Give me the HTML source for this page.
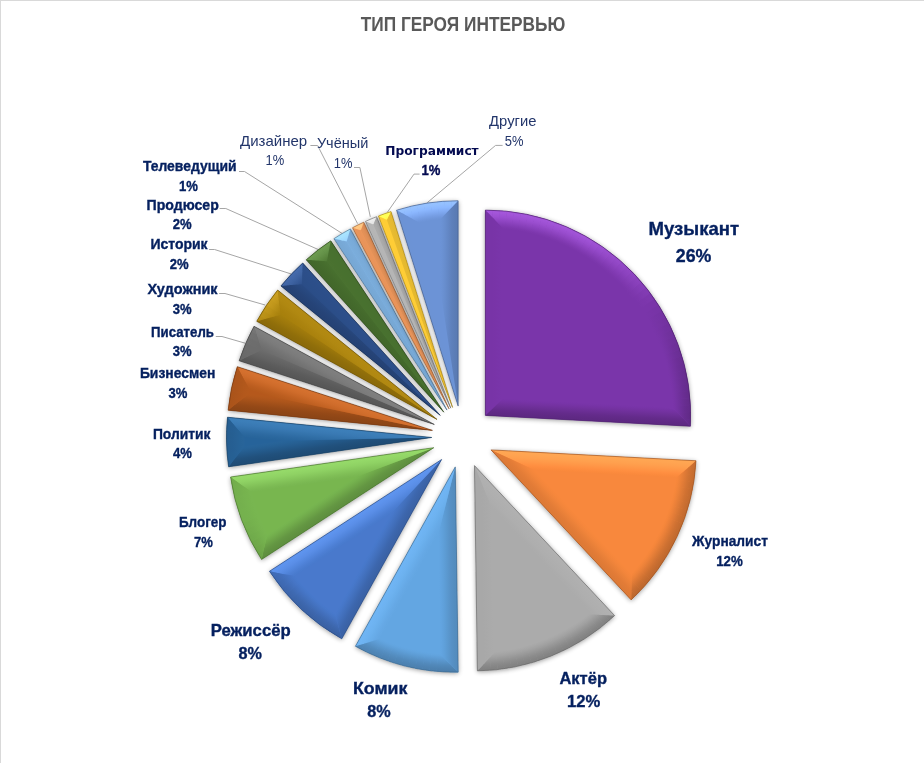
<!DOCTYPE html>
<html lang="ru"><head><meta charset="utf-8"><title>Тип героя интервью</title>
<style>
html,body{margin:0;padding:0;background:#fff;}
body{width:924px;height:763px;overflow:hidden;position:relative;font-family:"Liberation Sans",sans-serif;}
#frame{position:absolute;left:0;top:0;width:923px;height:762px;border-left:1px solid #D9D9D9;border-top:1px solid #D9D9D9;}
svg{position:absolute;left:0;top:0;display:block;}
</style></head><body>
<div id="frame"></div>
<svg width="924" height="763" viewBox="0 0 924 763">
<defs>
<filter id="sh" x="-20%" y="-20%" width="140%" height="140%"><feGaussianBlur in="SourceAlpha" stdDeviation="2.6" result="b"/><feOffset in="b" dx="0" dy="0.5" result="o"/><feComponentTransfer in="o" result="s"><feFuncA type="linear" slope="0.42"/></feComponentTransfer><feMerge><feMergeNode in="s"/><feMergeNode in="SourceGraphic"/></feMerge></filter>
<linearGradient id="g1" gradientUnits="userSpaceOnUse" x1="485.39" y1="415.39" x2="503.39" y2="415.39"><stop offset="0" stop-color="#7834A7"/><stop offset="0.15" stop-color="#7834A7"/><stop offset="0.35" stop-color="#7834A7"/><stop offset="0.55" stop-color="#7934A8"/><stop offset="0.75" stop-color="#7935A9"/><stop offset="0.9" stop-color="#7A35AA"/><stop offset="1" stop-color="#7A35AA"/></linearGradient><linearGradient id="g2" gradientUnits="userSpaceOnUse" x1="485.39" y1="415.39" x2="486.34" y2="397.41"><stop offset="0" stop-color="#5D2882"/><stop offset="0.15" stop-color="#5F2984"/><stop offset="0.35" stop-color="#642B8B"/><stop offset="0.55" stop-color="#6C2F96"/><stop offset="0.75" stop-color="#7432A1"/><stop offset="0.9" stop-color="#7834A8"/><stop offset="1" stop-color="#7A35AA"/></linearGradient><radialGradient id="r3" gradientUnits="userSpaceOnUse" cx="485.39" cy="415.39" r="205.3"><stop offset="0.9123" stop-color="#7A35AA"/><stop offset="0.9211" stop-color="#7D37AD"/><stop offset="0.9342" stop-color="#843DB6"/><stop offset="0.9518" stop-color="#9046C4"/><stop offset="0.9693" stop-color="#9C4FD1"/><stop offset="0.9868" stop-color="#A355DA"/><stop offset="1.0000" stop-color="#A758DD"/></radialGradient><radialGradient id="r4" gradientUnits="userSpaceOnUse" cx="485.39" cy="415.39" r="205.3"><stop offset="0.9123" stop-color="#7A35AA"/><stop offset="0.9211" stop-color="#7D37AD"/><stop offset="0.9342" stop-color="#843DB6"/><stop offset="0.9518" stop-color="#9046C4"/><stop offset="0.9693" stop-color="#9C4FD1"/><stop offset="0.9868" stop-color="#A355D9"/><stop offset="1.0000" stop-color="#A658DD"/></radialGradient><radialGradient id="r5" gradientUnits="userSpaceOnUse" cx="485.39" cy="415.39" r="205.3"><stop offset="0.9123" stop-color="#7A35AA"/><stop offset="0.9211" stop-color="#7D37AD"/><stop offset="0.9342" stop-color="#843DB6"/><stop offset="0.9518" stop-color="#9046C4"/><stop offset="0.9693" stop-color="#9B4FD1"/><stop offset="0.9868" stop-color="#A355D9"/><stop offset="1.0000" stop-color="#A658DD"/></radialGradient><radialGradient id="r6" gradientUnits="userSpaceOnUse" cx="485.39" cy="415.39" r="205.3"><stop offset="0.9123" stop-color="#7A35AA"/><stop offset="0.9211" stop-color="#7D37AD"/><stop offset="0.9342" stop-color="#843DB6"/><stop offset="0.9518" stop-color="#9046C3"/><stop offset="0.9693" stop-color="#9B4FD0"/><stop offset="0.9868" stop-color="#A355D9"/><stop offset="1.0000" stop-color="#A657DC"/></radialGradient><radialGradient id="r7" gradientUnits="userSpaceOnUse" cx="485.39" cy="415.39" r="205.3"><stop offset="0.9123" stop-color="#7A35AA"/><stop offset="0.9211" stop-color="#7D37AD"/><stop offset="0.9342" stop-color="#843DB6"/><stop offset="0.9518" stop-color="#9046C3"/><stop offset="0.9693" stop-color="#9B4FD0"/><stop offset="0.9868" stop-color="#A255D9"/><stop offset="1.0000" stop-color="#A657DC"/></radialGradient><radialGradient id="r8" gradientUnits="userSpaceOnUse" cx="485.39" cy="415.39" r="205.3"><stop offset="0.9123" stop-color="#7A35AA"/><stop offset="0.9211" stop-color="#7D37AD"/><stop offset="0.9342" stop-color="#843DB6"/><stop offset="0.9518" stop-color="#9046C3"/><stop offset="0.9693" stop-color="#9B4ED0"/><stop offset="0.9868" stop-color="#A254D8"/><stop offset="1.0000" stop-color="#A557DC"/></radialGradient><radialGradient id="r9" gradientUnits="userSpaceOnUse" cx="485.39" cy="415.39" r="205.3"><stop offset="0.9123" stop-color="#7A35AA"/><stop offset="0.9211" stop-color="#7D37AD"/><stop offset="0.9342" stop-color="#843DB6"/><stop offset="0.9518" stop-color="#9046C3"/><stop offset="0.9693" stop-color="#9B4ED0"/><stop offset="0.9868" stop-color="#A254D8"/><stop offset="1.0000" stop-color="#A557DC"/></radialGradient><radialGradient id="r10" gradientUnits="userSpaceOnUse" cx="485.39" cy="415.39" r="205.3"><stop offset="0.9123" stop-color="#7A35AA"/><stop offset="0.9211" stop-color="#7D37AD"/><stop offset="0.9342" stop-color="#843DB6"/><stop offset="0.9518" stop-color="#8F45C3"/><stop offset="0.9693" stop-color="#9A4ECF"/><stop offset="0.9868" stop-color="#A254D8"/><stop offset="1.0000" stop-color="#A556DB"/></radialGradient><radialGradient id="r11" gradientUnits="userSpaceOnUse" cx="485.39" cy="415.39" r="205.3"><stop offset="0.9123" stop-color="#7A35AA"/><stop offset="0.9211" stop-color="#7D37AD"/><stop offset="0.9342" stop-color="#843DB6"/><stop offset="0.9518" stop-color="#8F45C3"/><stop offset="0.9693" stop-color="#9A4ECF"/><stop offset="0.9868" stop-color="#A154D7"/><stop offset="1.0000" stop-color="#A556DB"/></radialGradient><radialGradient id="r12" gradientUnits="userSpaceOnUse" cx="485.39" cy="415.39" r="205.3"><stop offset="0.9123" stop-color="#7A35AA"/><stop offset="0.9211" stop-color="#7D37AD"/><stop offset="0.9342" stop-color="#843DB5"/><stop offset="0.9518" stop-color="#8F45C2"/><stop offset="0.9693" stop-color="#9A4ECF"/><stop offset="0.9868" stop-color="#A154D7"/><stop offset="1.0000" stop-color="#A456DB"/></radialGradient><radialGradient id="r13" gradientUnits="userSpaceOnUse" cx="485.39" cy="415.39" r="205.3"><stop offset="0.9123" stop-color="#7A35AA"/><stop offset="0.9211" stop-color="#7D37AD"/><stop offset="0.9342" stop-color="#843CB5"/><stop offset="0.9518" stop-color="#8F45C2"/><stop offset="0.9693" stop-color="#9A4ECF"/><stop offset="0.9868" stop-color="#A153D7"/><stop offset="1.0000" stop-color="#A456DA"/></radialGradient><radialGradient id="r14" gradientUnits="userSpaceOnUse" cx="485.39" cy="415.39" r="205.3"><stop offset="0.9123" stop-color="#7A35AA"/><stop offset="0.9211" stop-color="#7D37AD"/><stop offset="0.9342" stop-color="#843CB5"/><stop offset="0.9518" stop-color="#8F45C2"/><stop offset="0.9693" stop-color="#994DCE"/><stop offset="0.9868" stop-color="#A153D7"/><stop offset="1.0000" stop-color="#A456DA"/></radialGradient><radialGradient id="r15" gradientUnits="userSpaceOnUse" cx="485.39" cy="415.39" r="205.3"><stop offset="0.9123" stop-color="#7A35AA"/><stop offset="0.9211" stop-color="#7D37AD"/><stop offset="0.9342" stop-color="#843CB5"/><stop offset="0.9518" stop-color="#8F45C2"/><stop offset="0.9693" stop-color="#994DCE"/><stop offset="0.9868" stop-color="#A053D6"/><stop offset="1.0000" stop-color="#A355DA"/></radialGradient><radialGradient id="r16" gradientUnits="userSpaceOnUse" cx="485.39" cy="415.39" r="205.3"><stop offset="0.9123" stop-color="#7A35AA"/><stop offset="0.9211" stop-color="#7D37AD"/><stop offset="0.9342" stop-color="#843CB5"/><stop offset="0.9518" stop-color="#8F45C2"/><stop offset="0.9693" stop-color="#994DCE"/><stop offset="0.9868" stop-color="#A053D6"/><stop offset="1.0000" stop-color="#A355D9"/></radialGradient><radialGradient id="r17" gradientUnits="userSpaceOnUse" cx="485.39" cy="415.39" r="205.3"><stop offset="0.9123" stop-color="#7A35AA"/><stop offset="0.9211" stop-color="#7D37AD"/><stop offset="0.9342" stop-color="#843CB5"/><stop offset="0.9518" stop-color="#8E45C2"/><stop offset="0.9693" stop-color="#994DCE"/><stop offset="0.9868" stop-color="#A053D6"/><stop offset="1.0000" stop-color="#A355D9"/></radialGradient><radialGradient id="r18" gradientUnits="userSpaceOnUse" cx="485.39" cy="415.39" r="205.3"><stop offset="0.9123" stop-color="#7A35AA"/><stop offset="0.9211" stop-color="#7D37AD"/><stop offset="0.9342" stop-color="#833CB5"/><stop offset="0.9518" stop-color="#8E44C1"/><stop offset="0.9693" stop-color="#984CCD"/><stop offset="0.9868" stop-color="#9F52D5"/><stop offset="1.0000" stop-color="#A254D8"/></radialGradient><radialGradient id="r19" gradientUnits="userSpaceOnUse" cx="485.39" cy="415.39" r="205.3"><stop offset="0.9123" stop-color="#7A35AA"/><stop offset="0.9211" stop-color="#7C37AD"/><stop offset="0.9342" stop-color="#833CB4"/><stop offset="0.9518" stop-color="#8D43C0"/><stop offset="0.9693" stop-color="#964BCB"/><stop offset="0.9868" stop-color="#9D50D2"/><stop offset="1.0000" stop-color="#A052D5"/></radialGradient><radialGradient id="r20" gradientUnits="userSpaceOnUse" cx="485.39" cy="415.39" r="205.3"><stop offset="0.9123" stop-color="#7A35AA"/><stop offset="0.9211" stop-color="#7C37AD"/><stop offset="0.9342" stop-color="#823BB3"/><stop offset="0.9518" stop-color="#8B42BE"/><stop offset="0.9693" stop-color="#9449C9"/><stop offset="0.9868" stop-color="#9A4ED0"/><stop offset="1.0000" stop-color="#9D50D3"/></radialGradient><radialGradient id="r21" gradientUnits="userSpaceOnUse" cx="485.39" cy="415.39" r="205.3"><stop offset="0.9123" stop-color="#7A35AA"/><stop offset="0.9211" stop-color="#7C37AC"/><stop offset="0.9342" stop-color="#823BB3"/><stop offset="0.9518" stop-color="#8A41BD"/><stop offset="0.9693" stop-color="#9348C6"/><stop offset="0.9868" stop-color="#984CCD"/><stop offset="1.0000" stop-color="#9B4ED0"/></radialGradient><radialGradient id="r22" gradientUnits="userSpaceOnUse" cx="485.39" cy="415.39" r="205.3"><stop offset="0.9123" stop-color="#7A35AA"/><stop offset="0.9211" stop-color="#7C36AC"/><stop offset="0.9342" stop-color="#813AB2"/><stop offset="0.9518" stop-color="#8940BB"/><stop offset="0.9693" stop-color="#9146C4"/><stop offset="0.9868" stop-color="#964BCA"/><stop offset="1.0000" stop-color="#984CCD"/></radialGradient><radialGradient id="r23" gradientUnits="userSpaceOnUse" cx="485.39" cy="415.39" r="205.3"><stop offset="0.9123" stop-color="#7A35AA"/><stop offset="0.9211" stop-color="#7C36AC"/><stop offset="0.9342" stop-color="#803AB1"/><stop offset="0.9518" stop-color="#883FBA"/><stop offset="0.9693" stop-color="#8F45C2"/><stop offset="0.9868" stop-color="#9449C8"/><stop offset="1.0000" stop-color="#964ACA"/></radialGradient><radialGradient id="r24" gradientUnits="userSpaceOnUse" cx="485.39" cy="415.39" r="205.3"><stop offset="0.9123" stop-color="#7A35AA"/><stop offset="0.9211" stop-color="#7C36AC"/><stop offset="0.9342" stop-color="#8039B1"/><stop offset="0.9518" stop-color="#863EB8"/><stop offset="0.9693" stop-color="#8D43C0"/><stop offset="0.9868" stop-color="#9147C5"/><stop offset="1.0000" stop-color="#9348C7"/></radialGradient><radialGradient id="r25" gradientUnits="userSpaceOnUse" cx="485.39" cy="415.39" r="205.3"><stop offset="0.9123" stop-color="#7A35AA"/><stop offset="0.9211" stop-color="#7B36AC"/><stop offset="0.9342" stop-color="#7F39B0"/><stop offset="0.9518" stop-color="#853DB7"/><stop offset="0.9693" stop-color="#8B42BE"/><stop offset="0.9868" stop-color="#8F45C2"/><stop offset="1.0000" stop-color="#9146C4"/></radialGradient><radialGradient id="r26" gradientUnits="userSpaceOnUse" cx="485.39" cy="415.39" r="205.3"><stop offset="0.9123" stop-color="#7A35AA"/><stop offset="0.9211" stop-color="#7B36AB"/><stop offset="0.9342" stop-color="#7F38AF"/><stop offset="0.9518" stop-color="#843DB5"/><stop offset="0.9693" stop-color="#8941BB"/><stop offset="0.9868" stop-color="#8D43C0"/><stop offset="1.0000" stop-color="#8E44C1"/></radialGradient><radialGradient id="r27" gradientUnits="userSpaceOnUse" cx="485.39" cy="415.39" r="205.3"><stop offset="0.9123" stop-color="#7A35AA"/><stop offset="0.9211" stop-color="#7B36AB"/><stop offset="0.9342" stop-color="#7E38AE"/><stop offset="0.9518" stop-color="#823BB4"/><stop offset="0.9693" stop-color="#873FB9"/><stop offset="0.9868" stop-color="#8A41BC"/><stop offset="1.0000" stop-color="#8B42BE"/></radialGradient><radialGradient id="r28" gradientUnits="userSpaceOnUse" cx="485.39" cy="415.39" r="205.3"><stop offset="0.9123" stop-color="#7A35AA"/><stop offset="0.9211" stop-color="#7B36AB"/><stop offset="0.9342" stop-color="#7D37AD"/><stop offset="0.9518" stop-color="#803AB1"/><stop offset="0.9693" stop-color="#833CB5"/><stop offset="0.9868" stop-color="#863EB8"/><stop offset="1.0000" stop-color="#873FB9"/></radialGradient><radialGradient id="r29" gradientUnits="userSpaceOnUse" cx="485.39" cy="415.39" r="205.3"><stop offset="0.9123" stop-color="#7A35AA"/><stop offset="0.9211" stop-color="#7A35AB"/><stop offset="0.9342" stop-color="#7C36AC"/><stop offset="0.9518" stop-color="#7E38AF"/><stop offset="0.9693" stop-color="#803AB1"/><stop offset="0.9868" stop-color="#823BB3"/><stop offset="1.0000" stop-color="#823BB4"/></radialGradient><radialGradient id="r30" gradientUnits="userSpaceOnUse" cx="485.39" cy="415.39" r="205.3"><stop offset="0.9123" stop-color="#7A35AA"/><stop offset="0.9211" stop-color="#7A35AA"/><stop offset="0.9342" stop-color="#7B36AB"/><stop offset="0.9518" stop-color="#7C36AC"/><stop offset="0.9693" stop-color="#7D37AD"/><stop offset="0.9868" stop-color="#7D38AE"/><stop offset="1.0000" stop-color="#7E38AE"/></radialGradient><radialGradient id="r31" gradientUnits="userSpaceOnUse" cx="485.39" cy="415.39" r="205.3"><stop offset="0.9123" stop-color="#7A35AA"/><stop offset="0.9211" stop-color="#7A35AA"/><stop offset="0.9342" stop-color="#7A35AA"/><stop offset="0.9518" stop-color="#7A35AA"/><stop offset="0.9693" stop-color="#7A35A9"/><stop offset="0.9868" stop-color="#7A35A9"/><stop offset="1.0000" stop-color="#7935A9"/></radialGradient><radialGradient id="r32" gradientUnits="userSpaceOnUse" cx="485.39" cy="415.39" r="205.3"><stop offset="0.9123" stop-color="#7A35AA"/><stop offset="0.9211" stop-color="#7A35AA"/><stop offset="0.9342" stop-color="#7935A9"/><stop offset="0.9518" stop-color="#7934A8"/><stop offset="0.9693" stop-color="#7834A7"/><stop offset="0.9868" stop-color="#7734A6"/><stop offset="1.0000" stop-color="#7734A6"/></radialGradient><radialGradient id="r33" gradientUnits="userSpaceOnUse" cx="485.39" cy="415.39" r="205.3"><stop offset="0.9123" stop-color="#7A35AA"/><stop offset="0.9211" stop-color="#7A35AA"/><stop offset="0.9342" stop-color="#7934A8"/><stop offset="0.9518" stop-color="#7734A6"/><stop offset="0.9693" stop-color="#7633A5"/><stop offset="0.9868" stop-color="#7533A3"/><stop offset="1.0000" stop-color="#7533A3"/></radialGradient><radialGradient id="r34" gradientUnits="userSpaceOnUse" cx="485.39" cy="415.39" r="205.3"><stop offset="0.9123" stop-color="#7A35AA"/><stop offset="0.9211" stop-color="#7A35A9"/><stop offset="0.9342" stop-color="#7834A8"/><stop offset="0.9518" stop-color="#7734A5"/><stop offset="0.9693" stop-color="#7533A3"/><stop offset="0.9868" stop-color="#7432A1"/><stop offset="1.0000" stop-color="#7332A0"/></radialGradient><radialGradient id="r35" gradientUnits="userSpaceOnUse" cx="485.39" cy="415.39" r="205.3"><stop offset="0.9123" stop-color="#7A35AA"/><stop offset="0.9211" stop-color="#7935A9"/><stop offset="0.9342" stop-color="#7834A7"/><stop offset="0.9518" stop-color="#7633A4"/><stop offset="0.9693" stop-color="#7332A1"/><stop offset="0.9868" stop-color="#72319F"/><stop offset="1.0000" stop-color="#71319E"/></radialGradient><radialGradient id="r36" gradientUnits="userSpaceOnUse" cx="485.39" cy="415.39" r="205.3"><stop offset="0.9123" stop-color="#7A35AA"/><stop offset="0.9211" stop-color="#7935A9"/><stop offset="0.9342" stop-color="#7834A7"/><stop offset="0.9518" stop-color="#7533A3"/><stop offset="0.9693" stop-color="#72329F"/><stop offset="0.9868" stop-color="#70319C"/><stop offset="1.0000" stop-color="#6F309B"/></radialGradient><radialGradient id="r37" gradientUnits="userSpaceOnUse" cx="485.39" cy="415.39" r="205.3"><stop offset="0.9123" stop-color="#7A35AA"/><stop offset="0.9211" stop-color="#7935A9"/><stop offset="0.9342" stop-color="#7734A6"/><stop offset="0.9518" stop-color="#7432A2"/><stop offset="0.9693" stop-color="#71319D"/><stop offset="0.9868" stop-color="#6F309A"/><stop offset="1.0000" stop-color="#6E3099"/></radialGradient><radialGradient id="r38" gradientUnits="userSpaceOnUse" cx="485.39" cy="415.39" r="205.3"><stop offset="0.9123" stop-color="#7A35AA"/><stop offset="0.9211" stop-color="#7935A9"/><stop offset="0.9342" stop-color="#7734A6"/><stop offset="0.9518" stop-color="#7332A1"/><stop offset="0.9693" stop-color="#70309B"/><stop offset="0.9868" stop-color="#6D2F98"/><stop offset="1.0000" stop-color="#6C2F96"/></radialGradient><radialGradient id="r39" gradientUnits="userSpaceOnUse" cx="485.39" cy="415.39" r="205.3"><stop offset="0.9123" stop-color="#7A35AA"/><stop offset="0.9211" stop-color="#7935A9"/><stop offset="0.9342" stop-color="#7733A5"/><stop offset="0.9518" stop-color="#72329F"/><stop offset="0.9693" stop-color="#6E309A"/><stop offset="0.9868" stop-color="#6B2F96"/><stop offset="1.0000" stop-color="#6A2E94"/></radialGradient><radialGradient id="r40" gradientUnits="userSpaceOnUse" cx="485.39" cy="415.39" r="205.3"><stop offset="0.9123" stop-color="#7A35AA"/><stop offset="0.9211" stop-color="#7935A9"/><stop offset="0.9342" stop-color="#7633A5"/><stop offset="0.9518" stop-color="#72319E"/><stop offset="0.9693" stop-color="#6D2F98"/><stop offset="0.9868" stop-color="#6A2E93"/><stop offset="1.0000" stop-color="#682D92"/></radialGradient><radialGradient id="r41" gradientUnits="userSpaceOnUse" cx="485.39" cy="415.39" r="205.3"><stop offset="0.9123" stop-color="#7A35AA"/><stop offset="0.9211" stop-color="#7935A8"/><stop offset="0.9342" stop-color="#7633A4"/><stop offset="0.9518" stop-color="#71319D"/><stop offset="0.9693" stop-color="#6C2F97"/><stop offset="0.9868" stop-color="#692D92"/><stop offset="1.0000" stop-color="#672D90"/></radialGradient><radialGradient id="r42" gradientUnits="userSpaceOnUse" cx="485.39" cy="415.39" r="205.3"><stop offset="0.9123" stop-color="#7A35AA"/><stop offset="0.9211" stop-color="#7934A8"/><stop offset="0.9342" stop-color="#7633A4"/><stop offset="0.9518" stop-color="#71319D"/><stop offset="0.9693" stop-color="#6B2F96"/><stop offset="0.9868" stop-color="#682D91"/><stop offset="1.0000" stop-color="#662C8F"/></radialGradient><radialGradient id="r43" gradientUnits="userSpaceOnUse" cx="485.39" cy="415.39" r="205.3"><stop offset="0.9123" stop-color="#7A35AA"/><stop offset="0.9211" stop-color="#7934A8"/><stop offset="0.9342" stop-color="#7533A4"/><stop offset="0.9518" stop-color="#70319C"/><stop offset="0.9693" stop-color="#6B2E95"/><stop offset="0.9868" stop-color="#672D90"/><stop offset="1.0000" stop-color="#652C8D"/></radialGradient><radialGradient id="r44" gradientUnits="userSpaceOnUse" cx="485.39" cy="415.39" r="205.3"><stop offset="0.9123" stop-color="#7A35AA"/><stop offset="0.9211" stop-color="#7934A8"/><stop offset="0.9342" stop-color="#7533A3"/><stop offset="0.9518" stop-color="#70319C"/><stop offset="0.9693" stop-color="#6A2E94"/><stop offset="0.9868" stop-color="#662C8F"/><stop offset="1.0000" stop-color="#652C8C"/></radialGradient><radialGradient id="r45" gradientUnits="userSpaceOnUse" cx="485.39" cy="415.39" r="205.3"><stop offset="0.9123" stop-color="#7A35AA"/><stop offset="0.9211" stop-color="#7934A8"/><stop offset="0.9342" stop-color="#7533A3"/><stop offset="0.9518" stop-color="#6F309B"/><stop offset="0.9693" stop-color="#6A2E93"/><stop offset="0.9868" stop-color="#652C8D"/><stop offset="1.0000" stop-color="#642B8B"/></radialGradient><radialGradient id="r46" gradientUnits="userSpaceOnUse" cx="485.39" cy="415.39" r="205.3"><stop offset="0.9123" stop-color="#7A35AA"/><stop offset="0.9211" stop-color="#7934A8"/><stop offset="0.9342" stop-color="#7533A3"/><stop offset="0.9518" stop-color="#6F309B"/><stop offset="0.9693" stop-color="#692E92"/><stop offset="0.9868" stop-color="#652C8C"/><stop offset="1.0000" stop-color="#632B8A"/></radialGradient><radialGradient id="r47" gradientUnits="userSpaceOnUse" cx="485.39" cy="415.39" r="205.3"><stop offset="0.9123" stop-color="#7A35AA"/><stop offset="0.9211" stop-color="#7934A8"/><stop offset="0.9342" stop-color="#7533A3"/><stop offset="0.9518" stop-color="#6E309A"/><stop offset="0.9693" stop-color="#682D91"/><stop offset="0.9868" stop-color="#642B8B"/><stop offset="1.0000" stop-color="#622B89"/></radialGradient><radialGradient id="r48" gradientUnits="userSpaceOnUse" cx="485.39" cy="415.39" r="205.3"><stop offset="0.9123" stop-color="#7A35AA"/><stop offset="0.9211" stop-color="#7934A8"/><stop offset="0.9342" stop-color="#7533A2"/><stop offset="0.9518" stop-color="#6E3099"/><stop offset="0.9693" stop-color="#682D90"/><stop offset="0.9868" stop-color="#632B8A"/><stop offset="1.0000" stop-color="#612A87"/></radialGradient><radialGradient id="r49" gradientUnits="userSpaceOnUse" cx="485.39" cy="415.39" r="205.3"><stop offset="0.9123" stop-color="#7A35AA"/><stop offset="0.9211" stop-color="#7834A8"/><stop offset="0.9342" stop-color="#7433A2"/><stop offset="0.9518" stop-color="#6E3099"/><stop offset="0.9693" stop-color="#672D90"/><stop offset="0.9868" stop-color="#632B8A"/><stop offset="1.0000" stop-color="#612A87"/></radialGradient><linearGradient id="g50" gradientUnits="userSpaceOnUse" x1="491.01" y1="449.89" x2="490.06" y2="467.87"><stop offset="0" stop-color="#FFA753"/><stop offset="0.15" stop-color="#FFA552"/><stop offset="0.35" stop-color="#FFA04E"/><stop offset="0.55" stop-color="#FF9848"/><stop offset="0.75" stop-color="#FF8F41"/><stop offset="0.9" stop-color="#FB8A3D"/><stop offset="1" stop-color="#F8883C"/></linearGradient><linearGradient id="g51" gradientUnits="userSpaceOnUse" x1="491.01" y1="449.89" x2="504.16" y2="437.60"><stop offset="0" stop-color="#DD7935"/><stop offset="0.15" stop-color="#DE7A36"/><stop offset="0.35" stop-color="#E37C37"/><stop offset="0.55" stop-color="#EA8139"/><stop offset="0.75" stop-color="#F2853B"/><stop offset="0.9" stop-color="#F6873C"/><stop offset="1" stop-color="#F8883C"/></linearGradient><radialGradient id="r52" gradientUnits="userSpaceOnUse" cx="491.01" cy="449.89" r="205.3"><stop offset="0.9123" stop-color="#F8883C"/><stop offset="0.9211" stop-color="#F5863B"/><stop offset="0.9342" stop-color="#ED8239"/><stop offset="0.9518" stop-color="#DF7A36"/><stop offset="0.9693" stop-color="#D27333"/><stop offset="0.9868" stop-color="#C96E31"/><stop offset="1.0000" stop-color="#C56C30"/></radialGradient><radialGradient id="r53" gradientUnits="userSpaceOnUse" cx="491.01" cy="449.89" r="205.3"><stop offset="0.9123" stop-color="#F8883C"/><stop offset="0.9211" stop-color="#F5863B"/><stop offset="0.9342" stop-color="#ED8239"/><stop offset="0.9518" stop-color="#DF7A36"/><stop offset="0.9693" stop-color="#D27333"/><stop offset="0.9868" stop-color="#C86E30"/><stop offset="1.0000" stop-color="#C46C2F"/></radialGradient><radialGradient id="r54" gradientUnits="userSpaceOnUse" cx="491.01" cy="449.89" r="205.3"><stop offset="0.9123" stop-color="#F8883C"/><stop offset="0.9211" stop-color="#F5863B"/><stop offset="0.9342" stop-color="#EC8239"/><stop offset="0.9518" stop-color="#DF7A36"/><stop offset="0.9693" stop-color="#D17333"/><stop offset="0.9868" stop-color="#C86E30"/><stop offset="1.0000" stop-color="#C46B2F"/></radialGradient><radialGradient id="r55" gradientUnits="userSpaceOnUse" cx="491.01" cy="449.89" r="205.3"><stop offset="0.9123" stop-color="#F8883C"/><stop offset="0.9211" stop-color="#F5863B"/><stop offset="0.9342" stop-color="#EC8239"/><stop offset="0.9518" stop-color="#DF7A36"/><stop offset="0.9693" stop-color="#D17333"/><stop offset="0.9868" stop-color="#C76D30"/><stop offset="1.0000" stop-color="#C36B2F"/></radialGradient><radialGradient id="r56" gradientUnits="userSpaceOnUse" cx="491.01" cy="449.89" r="205.3"><stop offset="0.9123" stop-color="#F8883C"/><stop offset="0.9211" stop-color="#F5863B"/><stop offset="0.9342" stop-color="#EC8239"/><stop offset="0.9518" stop-color="#DE7A36"/><stop offset="0.9693" stop-color="#D17232"/><stop offset="0.9868" stop-color="#C76D30"/><stop offset="1.0000" stop-color="#C36B2F"/></radialGradient><radialGradient id="r57" gradientUnits="userSpaceOnUse" cx="491.01" cy="449.89" r="205.3"><stop offset="0.9123" stop-color="#F8883C"/><stop offset="0.9211" stop-color="#F5863B"/><stop offset="0.9342" stop-color="#EC8239"/><stop offset="0.9518" stop-color="#DE7A36"/><stop offset="0.9693" stop-color="#D07232"/><stop offset="0.9868" stop-color="#C76D30"/><stop offset="1.0000" stop-color="#C26B2F"/></radialGradient><radialGradient id="r58" gradientUnits="userSpaceOnUse" cx="491.01" cy="449.89" r="205.3"><stop offset="0.9123" stop-color="#F8883C"/><stop offset="0.9211" stop-color="#F5863B"/><stop offset="0.9342" stop-color="#EC8139"/><stop offset="0.9518" stop-color="#DE7A36"/><stop offset="0.9693" stop-color="#D07232"/><stop offset="0.9868" stop-color="#C66D30"/><stop offset="1.0000" stop-color="#C26A2F"/></radialGradient><radialGradient id="r59" gradientUnits="userSpaceOnUse" cx="491.01" cy="449.89" r="205.3"><stop offset="0.9123" stop-color="#F8883C"/><stop offset="0.9211" stop-color="#F5863B"/><stop offset="0.9342" stop-color="#EC8139"/><stop offset="0.9518" stop-color="#DE7A36"/><stop offset="0.9693" stop-color="#D07232"/><stop offset="0.9868" stop-color="#C66C30"/><stop offset="1.0000" stop-color="#C16A2F"/></radialGradient><radialGradient id="r60" gradientUnits="userSpaceOnUse" cx="491.01" cy="449.89" r="205.3"><stop offset="0.9123" stop-color="#F8883C"/><stop offset="0.9211" stop-color="#F5863B"/><stop offset="0.9342" stop-color="#EC8139"/><stop offset="0.9518" stop-color="#DE7936"/><stop offset="0.9693" stop-color="#CF7232"/><stop offset="0.9868" stop-color="#C56C30"/><stop offset="1.0000" stop-color="#C16A2F"/></radialGradient><radialGradient id="r61" gradientUnits="userSpaceOnUse" cx="491.01" cy="449.89" r="205.3"><stop offset="0.9123" stop-color="#F8883C"/><stop offset="0.9211" stop-color="#F5863B"/><stop offset="0.9342" stop-color="#EC8139"/><stop offset="0.9518" stop-color="#DD7936"/><stop offset="0.9693" stop-color="#CF7132"/><stop offset="0.9868" stop-color="#C56C30"/><stop offset="1.0000" stop-color="#C06A2F"/></radialGradient><radialGradient id="r62" gradientUnits="userSpaceOnUse" cx="491.01" cy="449.89" r="205.3"><stop offset="0.9123" stop-color="#F8883C"/><stop offset="0.9211" stop-color="#F5863B"/><stop offset="0.9342" stop-color="#EC8139"/><stop offset="0.9518" stop-color="#DD7935"/><stop offset="0.9693" stop-color="#CF7132"/><stop offset="0.9868" stop-color="#C46C30"/><stop offset="1.0000" stop-color="#C0692E"/></radialGradient><radialGradient id="r63" gradientUnits="userSpaceOnUse" cx="491.01" cy="449.89" r="205.3"><stop offset="0.9123" stop-color="#F8883C"/><stop offset="0.9211" stop-color="#F5863B"/><stop offset="0.9342" stop-color="#EC8139"/><stop offset="0.9518" stop-color="#DD7935"/><stop offset="0.9693" stop-color="#CE7132"/><stop offset="0.9868" stop-color="#C46C2F"/><stop offset="1.0000" stop-color="#C0692E"/></radialGradient><radialGradient id="r64" gradientUnits="userSpaceOnUse" cx="491.01" cy="449.89" r="205.3"><stop offset="0.9123" stop-color="#F8883C"/><stop offset="0.9211" stop-color="#F5863B"/><stop offset="0.9342" stop-color="#EB8139"/><stop offset="0.9518" stop-color="#DD7935"/><stop offset="0.9693" stop-color="#CE7132"/><stop offset="0.9868" stop-color="#C46B2F"/><stop offset="1.0000" stop-color="#BF692E"/></radialGradient><radialGradient id="r65" gradientUnits="userSpaceOnUse" cx="491.01" cy="449.89" r="205.3"><stop offset="0.9123" stop-color="#F8883C"/><stop offset="0.9211" stop-color="#F5863B"/><stop offset="0.9342" stop-color="#EB8139"/><stop offset="0.9518" stop-color="#DC7935"/><stop offset="0.9693" stop-color="#CE7132"/><stop offset="0.9868" stop-color="#C36B2F"/><stop offset="1.0000" stop-color="#BF692E"/></radialGradient><radialGradient id="r66" gradientUnits="userSpaceOnUse" cx="491.01" cy="449.89" r="205.3"><stop offset="0.9123" stop-color="#F8883C"/><stop offset="0.9211" stop-color="#F5863B"/><stop offset="0.9342" stop-color="#EB8139"/><stop offset="0.9518" stop-color="#DC7935"/><stop offset="0.9693" stop-color="#CD7132"/><stop offset="0.9868" stop-color="#C36B2F"/><stop offset="1.0000" stop-color="#BE682E"/></radialGradient><radialGradient id="r67" gradientUnits="userSpaceOnUse" cx="491.01" cy="449.89" r="205.3"><stop offset="0.9123" stop-color="#F8883C"/><stop offset="0.9211" stop-color="#F5863B"/><stop offset="0.9342" stop-color="#EB8139"/><stop offset="0.9518" stop-color="#DC7935"/><stop offset="0.9693" stop-color="#CD7032"/><stop offset="0.9868" stop-color="#C26B2F"/><stop offset="1.0000" stop-color="#BE682E"/></radialGradient><radialGradient id="r68" gradientUnits="userSpaceOnUse" cx="491.01" cy="449.89" r="205.3"><stop offset="0.9123" stop-color="#F8883C"/><stop offset="0.9211" stop-color="#F4863B"/><stop offset="0.9342" stop-color="#EB8139"/><stop offset="0.9518" stop-color="#DC7935"/><stop offset="0.9693" stop-color="#CD7031"/><stop offset="0.9868" stop-color="#C26A2F"/><stop offset="1.0000" stop-color="#BD682E"/></radialGradient><radialGradient id="r69" gradientUnits="userSpaceOnUse" cx="491.01" cy="449.89" r="205.3"><stop offset="0.9123" stop-color="#F8883C"/><stop offset="0.9211" stop-color="#F4863B"/><stop offset="0.9342" stop-color="#EB8139"/><stop offset="0.9518" stop-color="#DC7835"/><stop offset="0.9693" stop-color="#CC7031"/><stop offset="0.9868" stop-color="#C26A2F"/><stop offset="1.0000" stop-color="#BD682E"/></radialGradient><radialGradient id="r70" gradientUnits="userSpaceOnUse" cx="491.01" cy="449.89" r="205.3"><stop offset="0.9123" stop-color="#F8883C"/><stop offset="0.9211" stop-color="#F4863B"/><stop offset="0.9342" stop-color="#EB8139"/><stop offset="0.9518" stop-color="#DB7835"/><stop offset="0.9693" stop-color="#CC7031"/><stop offset="0.9868" stop-color="#C16A2F"/><stop offset="1.0000" stop-color="#BC672E"/></radialGradient><radialGradient id="r71" gradientUnits="userSpaceOnUse" cx="491.01" cy="449.89" r="205.3"><stop offset="0.9123" stop-color="#F8883C"/><stop offset="0.9211" stop-color="#F4863B"/><stop offset="0.9342" stop-color="#EB8139"/><stop offset="0.9518" stop-color="#DB7835"/><stop offset="0.9693" stop-color="#CC7031"/><stop offset="0.9868" stop-color="#C16A2F"/><stop offset="1.0000" stop-color="#BC672D"/></radialGradient><radialGradient id="r72" gradientUnits="userSpaceOnUse" cx="491.01" cy="449.89" r="205.3"><stop offset="0.9123" stop-color="#F8883C"/><stop offset="0.9211" stop-color="#F4863B"/><stop offset="0.9342" stop-color="#EB8139"/><stop offset="0.9518" stop-color="#DB7835"/><stop offset="0.9693" stop-color="#CB6F31"/><stop offset="0.9868" stop-color="#C0692F"/><stop offset="1.0000" stop-color="#BC672D"/></radialGradient><radialGradient id="r73" gradientUnits="userSpaceOnUse" cx="491.01" cy="449.89" r="205.3"><stop offset="0.9123" stop-color="#F8883C"/><stop offset="0.9211" stop-color="#F4863B"/><stop offset="0.9342" stop-color="#EB8139"/><stop offset="0.9518" stop-color="#DB7835"/><stop offset="0.9693" stop-color="#CB6F31"/><stop offset="0.9868" stop-color="#C0692E"/><stop offset="1.0000" stop-color="#BB672D"/></radialGradient><linearGradient id="g74" gradientUnits="userSpaceOnUse" x1="474.46" y1="465.59" x2="461.31" y2="477.88"><stop offset="0" stop-color="#B1B1B1"/><stop offset="0.15" stop-color="#B0B0B0"/><stop offset="0.35" stop-color="#AFAFAF"/><stop offset="0.55" stop-color="#AEAEAE"/><stop offset="0.75" stop-color="#ACACAC"/><stop offset="0.9" stop-color="#ABABAB"/><stop offset="1" stop-color="#ABABAB"/></linearGradient><linearGradient id="g75" gradientUnits="userSpaceOnUse" x1="474.46" y1="465.59" x2="492.46" y2="465.33"><stop offset="0" stop-color="#A8A8A8"/><stop offset="0.15" stop-color="#A8A8A8"/><stop offset="0.35" stop-color="#A8A8A8"/><stop offset="0.55" stop-color="#A9A9A9"/><stop offset="0.75" stop-color="#AAAAAA"/><stop offset="0.9" stop-color="#ABABAB"/><stop offset="1" stop-color="#ABABAB"/></linearGradient><radialGradient id="r76" gradientUnits="userSpaceOnUse" cx="474.46" cy="465.59" r="205.3"><stop offset="0.9123" stop-color="#ABABAB"/><stop offset="0.9211" stop-color="#A8A8A8"/><stop offset="0.9342" stop-color="#A2A2A2"/><stop offset="0.9518" stop-color="#979797"/><stop offset="0.9693" stop-color="#8C8C8C"/><stop offset="0.9868" stop-color="#848484"/><stop offset="1.0000" stop-color="#818181"/></radialGradient><radialGradient id="r77" gradientUnits="userSpaceOnUse" cx="474.46" cy="465.59" r="205.3"><stop offset="0.9123" stop-color="#ABABAB"/><stop offset="0.9211" stop-color="#A8A8A8"/><stop offset="0.9342" stop-color="#A2A2A2"/><stop offset="0.9518" stop-color="#979797"/><stop offset="0.9693" stop-color="#8C8C8C"/><stop offset="0.9868" stop-color="#848484"/><stop offset="1.0000" stop-color="#818181"/></radialGradient><radialGradient id="r78" gradientUnits="userSpaceOnUse" cx="474.46" cy="465.59" r="205.3"><stop offset="0.9123" stop-color="#ABABAB"/><stop offset="0.9211" stop-color="#A8A8A8"/><stop offset="0.9342" stop-color="#A2A2A2"/><stop offset="0.9518" stop-color="#979797"/><stop offset="0.9693" stop-color="#8C8C8C"/><stop offset="0.9868" stop-color="#848484"/><stop offset="1.0000" stop-color="#818181"/></radialGradient><radialGradient id="r79" gradientUnits="userSpaceOnUse" cx="474.46" cy="465.59" r="205.3"><stop offset="0.9123" stop-color="#ABABAB"/><stop offset="0.9211" stop-color="#A8A8A8"/><stop offset="0.9342" stop-color="#A2A2A2"/><stop offset="0.9518" stop-color="#979797"/><stop offset="0.9693" stop-color="#8C8C8C"/><stop offset="0.9868" stop-color="#848484"/><stop offset="1.0000" stop-color="#818181"/></radialGradient><radialGradient id="r80" gradientUnits="userSpaceOnUse" cx="474.46" cy="465.59" r="205.3"><stop offset="0.9123" stop-color="#ABABAB"/><stop offset="0.9211" stop-color="#A8A8A8"/><stop offset="0.9342" stop-color="#A2A2A2"/><stop offset="0.9518" stop-color="#979797"/><stop offset="0.9693" stop-color="#8C8C8C"/><stop offset="0.9868" stop-color="#848484"/><stop offset="1.0000" stop-color="#818181"/></radialGradient><radialGradient id="r81" gradientUnits="userSpaceOnUse" cx="474.46" cy="465.59" r="205.3"><stop offset="0.9123" stop-color="#ABABAB"/><stop offset="0.9211" stop-color="#A8A8A8"/><stop offset="0.9342" stop-color="#A2A2A2"/><stop offset="0.9518" stop-color="#979797"/><stop offset="0.9693" stop-color="#8C8C8C"/><stop offset="0.9868" stop-color="#848484"/><stop offset="1.0000" stop-color="#818181"/></radialGradient><radialGradient id="r82" gradientUnits="userSpaceOnUse" cx="474.46" cy="465.59" r="205.3"><stop offset="0.9123" stop-color="#ABABAB"/><stop offset="0.9211" stop-color="#A8A8A8"/><stop offset="0.9342" stop-color="#A2A2A2"/><stop offset="0.9518" stop-color="#979797"/><stop offset="0.9693" stop-color="#8C8C8C"/><stop offset="0.9868" stop-color="#848484"/><stop offset="1.0000" stop-color="#818181"/></radialGradient><radialGradient id="r83" gradientUnits="userSpaceOnUse" cx="474.46" cy="465.59" r="205.3"><stop offset="0.9123" stop-color="#ABABAB"/><stop offset="0.9211" stop-color="#A8A8A8"/><stop offset="0.9342" stop-color="#A2A2A2"/><stop offset="0.9518" stop-color="#979797"/><stop offset="0.9693" stop-color="#8C8C8C"/><stop offset="0.9868" stop-color="#848484"/><stop offset="1.0000" stop-color="#818181"/></radialGradient><radialGradient id="r84" gradientUnits="userSpaceOnUse" cx="474.46" cy="465.59" r="205.3"><stop offset="0.9123" stop-color="#ABABAB"/><stop offset="0.9211" stop-color="#A8A8A8"/><stop offset="0.9342" stop-color="#A2A2A2"/><stop offset="0.9518" stop-color="#979797"/><stop offset="0.9693" stop-color="#8C8C8C"/><stop offset="0.9868" stop-color="#848484"/><stop offset="1.0000" stop-color="#818181"/></radialGradient><radialGradient id="r85" gradientUnits="userSpaceOnUse" cx="474.46" cy="465.59" r="205.3"><stop offset="0.9123" stop-color="#ABABAB"/><stop offset="0.9211" stop-color="#A8A8A8"/><stop offset="0.9342" stop-color="#A2A2A2"/><stop offset="0.9518" stop-color="#979797"/><stop offset="0.9693" stop-color="#8C8C8C"/><stop offset="0.9868" stop-color="#848484"/><stop offset="1.0000" stop-color="#818181"/></radialGradient><radialGradient id="r86" gradientUnits="userSpaceOnUse" cx="474.46" cy="465.59" r="205.3"><stop offset="0.9123" stop-color="#ABABAB"/><stop offset="0.9211" stop-color="#A8A8A8"/><stop offset="0.9342" stop-color="#A2A2A2"/><stop offset="0.9518" stop-color="#979797"/><stop offset="0.9693" stop-color="#8C8C8C"/><stop offset="0.9868" stop-color="#848484"/><stop offset="1.0000" stop-color="#818181"/></radialGradient><radialGradient id="r87" gradientUnits="userSpaceOnUse" cx="474.46" cy="465.59" r="205.3"><stop offset="0.9123" stop-color="#ABABAB"/><stop offset="0.9211" stop-color="#A8A8A8"/><stop offset="0.9342" stop-color="#A2A2A2"/><stop offset="0.9518" stop-color="#979797"/><stop offset="0.9693" stop-color="#8C8C8C"/><stop offset="0.9868" stop-color="#848484"/><stop offset="1.0000" stop-color="#818181"/></radialGradient><radialGradient id="r88" gradientUnits="userSpaceOnUse" cx="474.46" cy="465.59" r="205.3"><stop offset="0.9123" stop-color="#ABABAB"/><stop offset="0.9211" stop-color="#A8A8A8"/><stop offset="0.9342" stop-color="#A2A2A2"/><stop offset="0.9518" stop-color="#979797"/><stop offset="0.9693" stop-color="#8C8C8C"/><stop offset="0.9868" stop-color="#848484"/><stop offset="1.0000" stop-color="#818181"/></radialGradient><radialGradient id="r89" gradientUnits="userSpaceOnUse" cx="474.46" cy="465.59" r="205.3"><stop offset="0.9123" stop-color="#ABABAB"/><stop offset="0.9211" stop-color="#A8A8A8"/><stop offset="0.9342" stop-color="#A2A2A2"/><stop offset="0.9518" stop-color="#979797"/><stop offset="0.9693" stop-color="#8C8C8C"/><stop offset="0.9868" stop-color="#848484"/><stop offset="1.0000" stop-color="#818181"/></radialGradient><radialGradient id="r90" gradientUnits="userSpaceOnUse" cx="474.46" cy="465.59" r="205.3"><stop offset="0.9123" stop-color="#ABABAB"/><stop offset="0.9211" stop-color="#A8A8A8"/><stop offset="0.9342" stop-color="#A2A2A2"/><stop offset="0.9518" stop-color="#979797"/><stop offset="0.9693" stop-color="#8C8C8C"/><stop offset="0.9868" stop-color="#848484"/><stop offset="1.0000" stop-color="#818181"/></radialGradient><radialGradient id="r91" gradientUnits="userSpaceOnUse" cx="474.46" cy="465.59" r="205.3"><stop offset="0.9123" stop-color="#ABABAB"/><stop offset="0.9211" stop-color="#A8A8A8"/><stop offset="0.9342" stop-color="#A2A2A2"/><stop offset="0.9518" stop-color="#979797"/><stop offset="0.9693" stop-color="#8C8C8C"/><stop offset="0.9868" stop-color="#848484"/><stop offset="1.0000" stop-color="#818181"/></radialGradient><radialGradient id="r92" gradientUnits="userSpaceOnUse" cx="474.46" cy="465.59" r="205.3"><stop offset="0.9123" stop-color="#ABABAB"/><stop offset="0.9211" stop-color="#A8A8A8"/><stop offset="0.9342" stop-color="#A2A2A2"/><stop offset="0.9518" stop-color="#979797"/><stop offset="0.9693" stop-color="#8C8C8C"/><stop offset="0.9868" stop-color="#848484"/><stop offset="1.0000" stop-color="#818181"/></radialGradient><radialGradient id="r93" gradientUnits="userSpaceOnUse" cx="474.46" cy="465.59" r="205.3"><stop offset="0.9123" stop-color="#ABABAB"/><stop offset="0.9211" stop-color="#A8A8A8"/><stop offset="0.9342" stop-color="#A2A2A2"/><stop offset="0.9518" stop-color="#979797"/><stop offset="0.9693" stop-color="#8C8C8C"/><stop offset="0.9868" stop-color="#848484"/><stop offset="1.0000" stop-color="#818181"/></radialGradient><radialGradient id="r94" gradientUnits="userSpaceOnUse" cx="474.46" cy="465.59" r="205.3"><stop offset="0.9123" stop-color="#ABABAB"/><stop offset="0.9211" stop-color="#A8A8A8"/><stop offset="0.9342" stop-color="#A2A2A2"/><stop offset="0.9518" stop-color="#979797"/><stop offset="0.9693" stop-color="#8C8C8C"/><stop offset="0.9868" stop-color="#848484"/><stop offset="1.0000" stop-color="#818181"/></radialGradient><radialGradient id="r95" gradientUnits="userSpaceOnUse" cx="474.46" cy="465.59" r="205.3"><stop offset="0.9123" stop-color="#ABABAB"/><stop offset="0.9211" stop-color="#A8A8A8"/><stop offset="0.9342" stop-color="#A2A2A2"/><stop offset="0.9518" stop-color="#979797"/><stop offset="0.9693" stop-color="#8C8C8C"/><stop offset="0.9868" stop-color="#848484"/><stop offset="1.0000" stop-color="#818181"/></radialGradient><radialGradient id="r96" gradientUnits="userSpaceOnUse" cx="474.46" cy="465.59" r="205.3"><stop offset="0.9123" stop-color="#ABABAB"/><stop offset="0.9211" stop-color="#A8A8A8"/><stop offset="0.9342" stop-color="#A2A2A2"/><stop offset="0.9518" stop-color="#979797"/><stop offset="0.9693" stop-color="#8C8C8C"/><stop offset="0.9868" stop-color="#848484"/><stop offset="1.0000" stop-color="#818181"/></radialGradient><radialGradient id="r97" gradientUnits="userSpaceOnUse" cx="474.46" cy="465.59" r="205.3"><stop offset="0.9123" stop-color="#ABABAB"/><stop offset="0.9211" stop-color="#A8A8A8"/><stop offset="0.9342" stop-color="#A2A2A2"/><stop offset="0.9518" stop-color="#979797"/><stop offset="0.9693" stop-color="#8C8C8C"/><stop offset="0.9868" stop-color="#848484"/><stop offset="1.0000" stop-color="#818181"/></radialGradient><linearGradient id="g98" gradientUnits="userSpaceOnUse" x1="455.26" y1="466.90" x2="437.26" y2="467.16"><stop offset="0" stop-color="#538BBE"/><stop offset="0.15" stop-color="#548DBF"/><stop offset="0.35" stop-color="#5791C6"/><stop offset="0.55" stop-color="#5B99D0"/><stop offset="0.75" stop-color="#5FA0DA"/><stop offset="0.9" stop-color="#62A4E0"/><stop offset="1" stop-color="#63A6E2"/></linearGradient><linearGradient id="g99" gradientUnits="userSpaceOnUse" x1="455.26" y1="466.90" x2="470.99" y2="475.65"><stop offset="0" stop-color="#6FB5F4"/><stop offset="0.15" stop-color="#6FB4F3"/><stop offset="0.35" stop-color="#6DB2F0"/><stop offset="0.55" stop-color="#69AEEB"/><stop offset="0.75" stop-color="#66A9E6"/><stop offset="0.9" stop-color="#64A7E3"/><stop offset="1" stop-color="#63A6E2"/></linearGradient><radialGradient id="r100" gradientUnits="userSpaceOnUse" cx="455.26" cy="466.90" r="205.3"><stop offset="0.9123" stop-color="#63A6E2"/><stop offset="0.9211" stop-color="#62A4DF"/><stop offset="0.9342" stop-color="#5E9DD6"/><stop offset="0.9518" stop-color="#5793C7"/><stop offset="0.9693" stop-color="#5188B9"/><stop offset="0.9868" stop-color="#4D81AF"/><stop offset="1.0000" stop-color="#4B7DAB"/></radialGradient><radialGradient id="r101" gradientUnits="userSpaceOnUse" cx="455.26" cy="466.90" r="205.3"><stop offset="0.9123" stop-color="#63A6E2"/><stop offset="0.9211" stop-color="#62A4DF"/><stop offset="0.9342" stop-color="#5E9DD6"/><stop offset="0.9518" stop-color="#5793C8"/><stop offset="0.9693" stop-color="#5188B9"/><stop offset="0.9868" stop-color="#4D81B0"/><stop offset="1.0000" stop-color="#4B7EAB"/></radialGradient><radialGradient id="r102" gradientUnits="userSpaceOnUse" cx="455.26" cy="466.90" r="205.3"><stop offset="0.9123" stop-color="#63A6E2"/><stop offset="0.9211" stop-color="#62A4DF"/><stop offset="0.9342" stop-color="#5E9DD6"/><stop offset="0.9518" stop-color="#5893C8"/><stop offset="0.9693" stop-color="#5189BA"/><stop offset="0.9868" stop-color="#4D81B0"/><stop offset="1.0000" stop-color="#4B7EAC"/></radialGradient><radialGradient id="r103" gradientUnits="userSpaceOnUse" cx="455.26" cy="466.90" r="205.3"><stop offset="0.9123" stop-color="#63A6E2"/><stop offset="0.9211" stop-color="#62A4DF"/><stop offset="0.9342" stop-color="#5E9DD6"/><stop offset="0.9518" stop-color="#5893C8"/><stop offset="0.9693" stop-color="#5289BA"/><stop offset="0.9868" stop-color="#4D82B1"/><stop offset="1.0000" stop-color="#4C7FAC"/></radialGradient><radialGradient id="r104" gradientUnits="userSpaceOnUse" cx="455.26" cy="466.90" r="205.3"><stop offset="0.9123" stop-color="#63A6E2"/><stop offset="0.9211" stop-color="#62A4DF"/><stop offset="0.9342" stop-color="#5E9DD6"/><stop offset="0.9518" stop-color="#5893C9"/><stop offset="0.9693" stop-color="#5289BB"/><stop offset="0.9868" stop-color="#4E82B1"/><stop offset="1.0000" stop-color="#4C7FAD"/></radialGradient><radialGradient id="r105" gradientUnits="userSpaceOnUse" cx="455.26" cy="466.90" r="205.3"><stop offset="0.9123" stop-color="#63A6E2"/><stop offset="0.9211" stop-color="#62A4DF"/><stop offset="0.9342" stop-color="#5E9ED6"/><stop offset="0.9518" stop-color="#5893C9"/><stop offset="0.9693" stop-color="#5289BB"/><stop offset="0.9868" stop-color="#4E82B2"/><stop offset="1.0000" stop-color="#4C7FAD"/></radialGradient><radialGradient id="r106" gradientUnits="userSpaceOnUse" cx="455.26" cy="466.90" r="205.3"><stop offset="0.9123" stop-color="#63A6E2"/><stop offset="0.9211" stop-color="#62A4DF"/><stop offset="0.9342" stop-color="#5E9ED7"/><stop offset="0.9518" stop-color="#5894C9"/><stop offset="0.9693" stop-color="#528ABC"/><stop offset="0.9868" stop-color="#4E83B2"/><stop offset="1.0000" stop-color="#4C80AE"/></radialGradient><radialGradient id="r107" gradientUnits="userSpaceOnUse" cx="455.26" cy="466.90" r="205.3"><stop offset="0.9123" stop-color="#63A6E2"/><stop offset="0.9211" stop-color="#62A4DF"/><stop offset="0.9342" stop-color="#5E9ED7"/><stop offset="0.9518" stop-color="#5894C9"/><stop offset="0.9693" stop-color="#528ABC"/><stop offset="0.9868" stop-color="#4E83B3"/><stop offset="1.0000" stop-color="#4C80AF"/></radialGradient><radialGradient id="r108" gradientUnits="userSpaceOnUse" cx="455.26" cy="466.90" r="205.3"><stop offset="0.9123" stop-color="#63A6E2"/><stop offset="0.9211" stop-color="#62A4DF"/><stop offset="0.9342" stop-color="#5E9ED7"/><stop offset="0.9518" stop-color="#5894CA"/><stop offset="0.9693" stop-color="#528ABC"/><stop offset="0.9868" stop-color="#4E84B3"/><stop offset="1.0000" stop-color="#4D81AF"/></radialGradient><radialGradient id="r109" gradientUnits="userSpaceOnUse" cx="455.26" cy="466.90" r="205.3"><stop offset="0.9123" stop-color="#63A6E2"/><stop offset="0.9211" stop-color="#62A4DF"/><stop offset="0.9342" stop-color="#5E9ED7"/><stop offset="0.9518" stop-color="#5894CA"/><stop offset="0.9693" stop-color="#538BBD"/><stop offset="0.9868" stop-color="#4F84B4"/><stop offset="1.0000" stop-color="#4D81B0"/></radialGradient><radialGradient id="r110" gradientUnits="userSpaceOnUse" cx="455.26" cy="466.90" r="205.3"><stop offset="0.9123" stop-color="#63A6E2"/><stop offset="0.9211" stop-color="#62A4DF"/><stop offset="0.9342" stop-color="#5E9ED7"/><stop offset="0.9518" stop-color="#5994CA"/><stop offset="0.9693" stop-color="#538BBD"/><stop offset="0.9868" stop-color="#4F84B4"/><stop offset="1.0000" stop-color="#4D81B0"/></radialGradient><radialGradient id="r111" gradientUnits="userSpaceOnUse" cx="455.26" cy="466.90" r="205.3"><stop offset="0.9123" stop-color="#63A6E2"/><stop offset="0.9211" stop-color="#62A4DF"/><stop offset="0.9342" stop-color="#5E9ED7"/><stop offset="0.9518" stop-color="#5995CA"/><stop offset="0.9693" stop-color="#538BBE"/><stop offset="0.9868" stop-color="#4F85B5"/><stop offset="1.0000" stop-color="#4D82B1"/></radialGradient><radialGradient id="r112" gradientUnits="userSpaceOnUse" cx="455.26" cy="466.90" r="205.3"><stop offset="0.9123" stop-color="#63A6E2"/><stop offset="0.9211" stop-color="#62A4DF"/><stop offset="0.9342" stop-color="#5E9ED7"/><stop offset="0.9518" stop-color="#5995CB"/><stop offset="0.9693" stop-color="#538CBE"/><stop offset="0.9868" stop-color="#4F85B5"/><stop offset="1.0000" stop-color="#4E82B1"/></radialGradient><radialGradient id="r113" gradientUnits="userSpaceOnUse" cx="455.26" cy="466.90" r="205.3"><stop offset="0.9123" stop-color="#63A6E2"/><stop offset="0.9211" stop-color="#62A4DF"/><stop offset="0.9342" stop-color="#5E9ED7"/><stop offset="0.9518" stop-color="#5995CB"/><stop offset="0.9693" stop-color="#538CBE"/><stop offset="0.9868" stop-color="#5085B6"/><stop offset="1.0000" stop-color="#4E83B2"/></radialGradient><radialGradient id="r114" gradientUnits="userSpaceOnUse" cx="455.26" cy="466.90" r="205.3"><stop offset="0.9123" stop-color="#63A6E2"/><stop offset="0.9211" stop-color="#62A4DF"/><stop offset="0.9342" stop-color="#5E9ED8"/><stop offset="0.9518" stop-color="#5995CB"/><stop offset="0.9693" stop-color="#548CBF"/><stop offset="0.9868" stop-color="#5086B6"/><stop offset="1.0000" stop-color="#4E83B2"/></radialGradient><linearGradient id="g115" gradientUnits="userSpaceOnUse" x1="441.64" y1="459.47" x2="425.91" y2="450.72"><stop offset="0" stop-color="#3A62A5"/><stop offset="0.15" stop-color="#3B63A7"/><stop offset="0.35" stop-color="#3D67AE"/><stop offset="0.55" stop-color="#416EB9"/><stop offset="0.75" stop-color="#4574C3"/><stop offset="0.9" stop-color="#4778CA"/><stop offset="1" stop-color="#4879CC"/></linearGradient><linearGradient id="g116" gradientUnits="userSpaceOnUse" x1="441.64" y1="459.47" x2="451.44" y2="474.57"><stop offset="0" stop-color="#5F94EE"/><stop offset="0.15" stop-color="#5D93ED"/><stop offset="0.35" stop-color="#5A8EE7"/><stop offset="0.55" stop-color="#5387DE"/><stop offset="0.75" stop-color="#4D7FD4"/><stop offset="0.9" stop-color="#497BCE"/><stop offset="1" stop-color="#4879CC"/></linearGradient><radialGradient id="r117" gradientUnits="userSpaceOnUse" cx="441.64" cy="459.47" r="205.3"><stop offset="0.9123" stop-color="#4879CC"/><stop offset="0.9211" stop-color="#4777C9"/><stop offset="0.9342" stop-color="#4573C3"/><stop offset="0.9518" stop-color="#416DB8"/><stop offset="0.9693" stop-color="#3D66AD"/><stop offset="0.9868" stop-color="#3A62A5"/><stop offset="1.0000" stop-color="#3960A1"/></radialGradient><radialGradient id="r118" gradientUnits="userSpaceOnUse" cx="441.64" cy="459.47" r="205.3"><stop offset="0.9123" stop-color="#4879CC"/><stop offset="0.9211" stop-color="#4778C9"/><stop offset="0.9342" stop-color="#4574C3"/><stop offset="0.9518" stop-color="#416DB8"/><stop offset="0.9693" stop-color="#3D67AD"/><stop offset="0.9868" stop-color="#3A62A5"/><stop offset="1.0000" stop-color="#3960A2"/></radialGradient><radialGradient id="r119" gradientUnits="userSpaceOnUse" cx="441.64" cy="459.47" r="205.3"><stop offset="0.9123" stop-color="#4879CC"/><stop offset="0.9211" stop-color="#4778CA"/><stop offset="0.9342" stop-color="#4574C3"/><stop offset="0.9518" stop-color="#416DB8"/><stop offset="0.9693" stop-color="#3D67AD"/><stop offset="0.9868" stop-color="#3B62A6"/><stop offset="1.0000" stop-color="#3960A2"/></radialGradient><radialGradient id="r120" gradientUnits="userSpaceOnUse" cx="441.64" cy="459.47" r="205.3"><stop offset="0.9123" stop-color="#4879CC"/><stop offset="0.9211" stop-color="#4778CA"/><stop offset="0.9342" stop-color="#4574C3"/><stop offset="0.9518" stop-color="#416DB8"/><stop offset="0.9693" stop-color="#3D67AE"/><stop offset="0.9868" stop-color="#3B63A6"/><stop offset="1.0000" stop-color="#3A61A3"/></radialGradient><radialGradient id="r121" gradientUnits="userSpaceOnUse" cx="441.64" cy="459.47" r="205.3"><stop offset="0.9123" stop-color="#4879CC"/><stop offset="0.9211" stop-color="#4778CA"/><stop offset="0.9342" stop-color="#4574C3"/><stop offset="0.9518" stop-color="#416DB9"/><stop offset="0.9693" stop-color="#3D67AE"/><stop offset="0.9868" stop-color="#3B63A7"/><stop offset="1.0000" stop-color="#3A61A3"/></radialGradient><radialGradient id="r122" gradientUnits="userSpaceOnUse" cx="441.64" cy="459.47" r="205.3"><stop offset="0.9123" stop-color="#4879CC"/><stop offset="0.9211" stop-color="#4778CA"/><stop offset="0.9342" stop-color="#4574C3"/><stop offset="0.9518" stop-color="#416EB9"/><stop offset="0.9693" stop-color="#3E67AE"/><stop offset="0.9868" stop-color="#3B63A7"/><stop offset="1.0000" stop-color="#3A61A4"/></radialGradient><radialGradient id="r123" gradientUnits="userSpaceOnUse" cx="441.64" cy="459.47" r="205.3"><stop offset="0.9123" stop-color="#4879CC"/><stop offset="0.9211" stop-color="#4778CA"/><stop offset="0.9342" stop-color="#4574C3"/><stop offset="0.9518" stop-color="#416EB9"/><stop offset="0.9693" stop-color="#3E68AF"/><stop offset="0.9868" stop-color="#3B63A8"/><stop offset="1.0000" stop-color="#3A62A4"/></radialGradient><radialGradient id="r124" gradientUnits="userSpaceOnUse" cx="441.64" cy="459.47" r="205.3"><stop offset="0.9123" stop-color="#4879CC"/><stop offset="0.9211" stop-color="#4778CA"/><stop offset="0.9342" stop-color="#4574C3"/><stop offset="0.9518" stop-color="#416EB9"/><stop offset="0.9693" stop-color="#3E68AF"/><stop offset="0.9868" stop-color="#3B64A8"/><stop offset="1.0000" stop-color="#3A62A5"/></radialGradient><radialGradient id="r125" gradientUnits="userSpaceOnUse" cx="441.64" cy="459.47" r="205.3"><stop offset="0.9123" stop-color="#4879CC"/><stop offset="0.9211" stop-color="#4778CA"/><stop offset="0.9342" stop-color="#4574C4"/><stop offset="0.9518" stop-color="#426EBA"/><stop offset="0.9693" stop-color="#3E69B0"/><stop offset="0.9868" stop-color="#3C65AA"/><stop offset="1.0000" stop-color="#3B63A7"/></radialGradient><radialGradient id="r126" gradientUnits="userSpaceOnUse" cx="441.64" cy="459.47" r="205.3"><stop offset="0.9123" stop-color="#4879CC"/><stop offset="0.9211" stop-color="#4778CA"/><stop offset="0.9342" stop-color="#4574C4"/><stop offset="0.9518" stop-color="#426FBB"/><stop offset="0.9693" stop-color="#3F6AB2"/><stop offset="0.9868" stop-color="#3D66AC"/><stop offset="1.0000" stop-color="#3C64A9"/></radialGradient><radialGradient id="r127" gradientUnits="userSpaceOnUse" cx="441.64" cy="459.47" r="205.3"><stop offset="0.9123" stop-color="#4879CC"/><stop offset="0.9211" stop-color="#4778CA"/><stop offset="0.9342" stop-color="#4675C5"/><stop offset="0.9518" stop-color="#4370BD"/><stop offset="0.9693" stop-color="#406BB4"/><stop offset="0.9868" stop-color="#3E67AE"/><stop offset="1.0000" stop-color="#3D66AC"/></radialGradient><radialGradient id="r128" gradientUnits="userSpaceOnUse" cx="441.64" cy="459.47" r="205.3"><stop offset="0.9123" stop-color="#4879CC"/><stop offset="0.9211" stop-color="#4778CA"/><stop offset="0.9342" stop-color="#4675C6"/><stop offset="0.9518" stop-color="#4371BE"/><stop offset="0.9693" stop-color="#406CB6"/><stop offset="0.9868" stop-color="#3E69B1"/><stop offset="1.0000" stop-color="#3E68AF"/></radialGradient><radialGradient id="r129" gradientUnits="userSpaceOnUse" cx="441.64" cy="459.47" r="205.3"><stop offset="0.9123" stop-color="#4879CC"/><stop offset="0.9211" stop-color="#4778CA"/><stop offset="0.9342" stop-color="#4675C6"/><stop offset="0.9518" stop-color="#4371BF"/><stop offset="0.9693" stop-color="#416DB8"/><stop offset="0.9868" stop-color="#3F6AB3"/><stop offset="1.0000" stop-color="#3F69B1"/></radialGradient><radialGradient id="r130" gradientUnits="userSpaceOnUse" cx="441.64" cy="459.47" r="205.3"><stop offset="0.9123" stop-color="#4879CC"/><stop offset="0.9211" stop-color="#4778CB"/><stop offset="0.9342" stop-color="#4676C7"/><stop offset="0.9518" stop-color="#4472C0"/><stop offset="0.9693" stop-color="#426EBA"/><stop offset="0.9868" stop-color="#406CB6"/><stop offset="1.0000" stop-color="#3F6BB4"/></radialGradient><linearGradient id="g131" gradientUnits="userSpaceOnUse" x1="433.77" y1="447.70" x2="423.97" y2="432.60"><stop offset="0" stop-color="#5E8F3F"/><stop offset="0.15" stop-color="#609140"/><stop offset="0.35" stop-color="#649743"/><stop offset="0.55" stop-color="#6BA247"/><stop offset="0.75" stop-color="#72AD4C"/><stop offset="0.9" stop-color="#76B44F"/><stop offset="1" stop-color="#78B650"/></linearGradient><linearGradient id="g132" gradientUnits="userSpaceOnUse" x1="433.77" y1="447.70" x2="436.34" y2="465.52"><stop offset="0" stop-color="#96DA6A"/><stop offset="0.15" stop-color="#94D868"/><stop offset="0.35" stop-color="#8FD264"/><stop offset="0.55" stop-color="#87C85D"/><stop offset="0.75" stop-color="#7FBE56"/><stop offset="0.9" stop-color="#7AB852"/><stop offset="1" stop-color="#78B650"/></linearGradient><radialGradient id="r133" gradientUnits="userSpaceOnUse" cx="433.77" cy="447.70" r="205.3"><stop offset="0.9123" stop-color="#78B650"/><stop offset="0.9211" stop-color="#77B54F"/><stop offset="0.9342" stop-color="#75B24E"/><stop offset="0.9518" stop-color="#72AD4C"/><stop offset="0.9693" stop-color="#6FA84A"/><stop offset="0.9868" stop-color="#6CA448"/><stop offset="1.0000" stop-color="#6BA348"/></radialGradient><radialGradient id="r134" gradientUnits="userSpaceOnUse" cx="433.77" cy="447.70" r="205.3"><stop offset="0.9123" stop-color="#78B650"/><stop offset="0.9211" stop-color="#77B550"/><stop offset="0.9342" stop-color="#76B24E"/><stop offset="0.9518" stop-color="#73AE4C"/><stop offset="0.9693" stop-color="#70A94A"/><stop offset="0.9868" stop-color="#6EA649"/><stop offset="1.0000" stop-color="#6DA549"/></radialGradient><radialGradient id="r135" gradientUnits="userSpaceOnUse" cx="433.77" cy="447.70" r="205.3"><stop offset="0.9123" stop-color="#78B650"/><stop offset="0.9211" stop-color="#77B550"/><stop offset="0.9342" stop-color="#76B34F"/><stop offset="0.9518" stop-color="#73AF4D"/><stop offset="0.9693" stop-color="#71AB4B"/><stop offset="0.9868" stop-color="#6FA84A"/><stop offset="1.0000" stop-color="#6EA74A"/></radialGradient><radialGradient id="r136" gradientUnits="userSpaceOnUse" cx="433.77" cy="447.70" r="205.3"><stop offset="0.9123" stop-color="#78B650"/><stop offset="0.9211" stop-color="#78B550"/><stop offset="0.9342" stop-color="#76B34F"/><stop offset="0.9518" stop-color="#74B04D"/><stop offset="0.9693" stop-color="#72AD4C"/><stop offset="0.9868" stop-color="#70AB4B"/><stop offset="1.0000" stop-color="#70AA4B"/></radialGradient><radialGradient id="r137" gradientUnits="userSpaceOnUse" cx="433.77" cy="447.70" r="205.3"><stop offset="0.9123" stop-color="#78B650"/><stop offset="0.9211" stop-color="#78B550"/><stop offset="0.9342" stop-color="#77B44F"/><stop offset="0.9518" stop-color="#75B14E"/><stop offset="0.9693" stop-color="#73AE4D"/><stop offset="0.9868" stop-color="#72AD4C"/><stop offset="1.0000" stop-color="#71AC4C"/></radialGradient><radialGradient id="r138" gradientUnits="userSpaceOnUse" cx="433.77" cy="447.70" r="205.3"><stop offset="0.9123" stop-color="#78B650"/><stop offset="0.9211" stop-color="#78B650"/><stop offset="0.9342" stop-color="#77B44F"/><stop offset="0.9518" stop-color="#75B24E"/><stop offset="0.9693" stop-color="#74B04D"/><stop offset="0.9868" stop-color="#73AF4D"/><stop offset="1.0000" stop-color="#73AE4D"/></radialGradient><radialGradient id="r139" gradientUnits="userSpaceOnUse" cx="433.77" cy="447.70" r="205.3"><stop offset="0.9123" stop-color="#78B650"/><stop offset="0.9211" stop-color="#78B650"/><stop offset="0.9342" stop-color="#77B54F"/><stop offset="0.9518" stop-color="#76B34F"/><stop offset="0.9693" stop-color="#75B24E"/><stop offset="0.9868" stop-color="#75B14E"/><stop offset="1.0000" stop-color="#74B04E"/></radialGradient><radialGradient id="r140" gradientUnits="userSpaceOnUse" cx="433.77" cy="447.70" r="205.3"><stop offset="0.9123" stop-color="#78B650"/><stop offset="0.9211" stop-color="#78B650"/><stop offset="0.9342" stop-color="#77B54F"/><stop offset="0.9518" stop-color="#76B34F"/><stop offset="0.9693" stop-color="#75B24E"/><stop offset="0.9868" stop-color="#75B14E"/><stop offset="1.0000" stop-color="#74B14E"/></radialGradient><radialGradient id="r141" gradientUnits="userSpaceOnUse" cx="433.77" cy="447.70" r="205.3"><stop offset="0.9123" stop-color="#78B650"/><stop offset="0.9211" stop-color="#78B650"/><stop offset="0.9342" stop-color="#77B54F"/><stop offset="0.9518" stop-color="#76B34F"/><stop offset="0.9693" stop-color="#75B14E"/><stop offset="0.9868" stop-color="#74B04E"/><stop offset="1.0000" stop-color="#74B04D"/></radialGradient><radialGradient id="r142" gradientUnits="userSpaceOnUse" cx="433.77" cy="447.70" r="205.3"><stop offset="0.9123" stop-color="#78B650"/><stop offset="0.9211" stop-color="#78B650"/><stop offset="0.9342" stop-color="#77B44F"/><stop offset="0.9518" stop-color="#76B34F"/><stop offset="0.9693" stop-color="#75B14E"/><stop offset="0.9868" stop-color="#74B04D"/><stop offset="1.0000" stop-color="#73AF4D"/></radialGradient><radialGradient id="r143" gradientUnits="userSpaceOnUse" cx="433.77" cy="447.70" r="205.3"><stop offset="0.9123" stop-color="#78B650"/><stop offset="0.9211" stop-color="#78B650"/><stop offset="0.9342" stop-color="#77B44F"/><stop offset="0.9518" stop-color="#76B24E"/><stop offset="0.9693" stop-color="#74B04E"/><stop offset="0.9868" stop-color="#73AF4D"/><stop offset="1.0000" stop-color="#73AE4D"/></radialGradient><radialGradient id="r144" gradientUnits="userSpaceOnUse" cx="433.77" cy="447.70" r="205.3"><stop offset="0.9123" stop-color="#78B650"/><stop offset="0.9211" stop-color="#78B650"/><stop offset="0.9342" stop-color="#77B44F"/><stop offset="0.9518" stop-color="#75B24E"/><stop offset="0.9693" stop-color="#74B04D"/><stop offset="0.9868" stop-color="#73AE4D"/><stop offset="1.0000" stop-color="#73AE4C"/></radialGradient><radialGradient id="r145" gradientUnits="userSpaceOnUse" cx="433.77" cy="447.70" r="205.3"><stop offset="0.9123" stop-color="#78B650"/><stop offset="0.9211" stop-color="#78B550"/><stop offset="0.9342" stop-color="#77B44F"/><stop offset="0.9518" stop-color="#75B24E"/><stop offset="0.9693" stop-color="#74AF4D"/><stop offset="0.9868" stop-color="#73AE4C"/><stop offset="1.0000" stop-color="#72AD4C"/></radialGradient><linearGradient id="g146" gradientUnits="userSpaceOnUse" x1="431.79" y1="437.46" x2="429.22" y2="419.65"><stop offset="0" stop-color="#1F4C75"/><stop offset="0.15" stop-color="#1F4D77"/><stop offset="0.35" stop-color="#21517D"/><stop offset="0.55" stop-color="#235888"/><stop offset="0.75" stop-color="#265F92"/><stop offset="0.9" stop-color="#276398"/><stop offset="1" stop-color="#28649A"/></linearGradient><linearGradient id="g147" gradientUnits="userSpaceOnUse" x1="431.79" y1="437.46" x2="430.02" y2="455.38"><stop offset="0" stop-color="#3D7FBA"/><stop offset="0.15" stop-color="#3C7EB8"/><stop offset="0.35" stop-color="#3979B3"/><stop offset="0.55" stop-color="#3372AA"/><stop offset="0.75" stop-color="#2D6AA1"/><stop offset="0.9" stop-color="#29669C"/><stop offset="1" stop-color="#28649A"/></linearGradient><radialGradient id="r148" gradientUnits="userSpaceOnUse" cx="431.79" cy="437.46" r="205.3"><stop offset="0.9123" stop-color="#28649A"/><stop offset="0.9211" stop-color="#28649A"/><stop offset="0.9342" stop-color="#286398"/><stop offset="0.9518" stop-color="#276196"/><stop offset="0.9693" stop-color="#266094"/><stop offset="0.9868" stop-color="#265F92"/><stop offset="1.0000" stop-color="#265F92"/></radialGradient><radialGradient id="r149" gradientUnits="userSpaceOnUse" cx="431.79" cy="437.46" r="205.3"><stop offset="0.9123" stop-color="#28649A"/><stop offset="0.9211" stop-color="#286499"/><stop offset="0.9342" stop-color="#276398"/><stop offset="0.9518" stop-color="#276196"/><stop offset="0.9693" stop-color="#266093"/><stop offset="0.9868" stop-color="#265F92"/><stop offset="1.0000" stop-color="#265E91"/></radialGradient><radialGradient id="r150" gradientUnits="userSpaceOnUse" cx="431.79" cy="437.46" r="205.3"><stop offset="0.9123" stop-color="#28649A"/><stop offset="0.9211" stop-color="#286499"/><stop offset="0.9342" stop-color="#276398"/><stop offset="0.9518" stop-color="#276195"/><stop offset="0.9693" stop-color="#265F93"/><stop offset="0.9868" stop-color="#265E91"/><stop offset="1.0000" stop-color="#265E91"/></radialGradient><radialGradient id="r151" gradientUnits="userSpaceOnUse" cx="431.79" cy="437.46" r="205.3"><stop offset="0.9123" stop-color="#28649A"/><stop offset="0.9211" stop-color="#286499"/><stop offset="0.9342" stop-color="#276398"/><stop offset="0.9518" stop-color="#276195"/><stop offset="0.9693" stop-color="#265F93"/><stop offset="0.9868" stop-color="#265E91"/><stop offset="1.0000" stop-color="#255D90"/></radialGradient><radialGradient id="r152" gradientUnits="userSpaceOnUse" cx="431.79" cy="437.46" r="205.3"><stop offset="0.9123" stop-color="#28649A"/><stop offset="0.9211" stop-color="#286499"/><stop offset="0.9342" stop-color="#276398"/><stop offset="0.9518" stop-color="#276195"/><stop offset="0.9693" stop-color="#265F92"/><stop offset="0.9868" stop-color="#265E90"/><stop offset="1.0000" stop-color="#255D90"/></radialGradient><radialGradient id="r153" gradientUnits="userSpaceOnUse" cx="431.79" cy="437.46" r="205.3"><stop offset="0.9123" stop-color="#28649A"/><stop offset="0.9211" stop-color="#286499"/><stop offset="0.9342" stop-color="#276398"/><stop offset="0.9518" stop-color="#276195"/><stop offset="0.9693" stop-color="#265F93"/><stop offset="0.9868" stop-color="#265E91"/><stop offset="1.0000" stop-color="#255D90"/></radialGradient><radialGradient id="r154" gradientUnits="userSpaceOnUse" cx="431.79" cy="437.46" r="205.3"><stop offset="0.9123" stop-color="#28649A"/><stop offset="0.9211" stop-color="#286499"/><stop offset="0.9342" stop-color="#276398"/><stop offset="0.9518" stop-color="#276195"/><stop offset="0.9693" stop-color="#265F93"/><stop offset="0.9868" stop-color="#265E91"/><stop offset="1.0000" stop-color="#255E90"/></radialGradient><linearGradient id="g155" gradientUnits="userSpaceOnUse" x1="432.44" y1="430.38" x2="434.22" y2="412.47"><stop offset="0" stop-color="#8C4516"/><stop offset="0.15" stop-color="#8E4616"/><stop offset="0.35" stop-color="#954917"/><stop offset="0.55" stop-color="#A04F19"/><stop offset="0.75" stop-color="#AC551B"/><stop offset="0.9" stop-color="#B3581C"/><stop offset="1" stop-color="#B5591C"/></linearGradient><linearGradient id="g156" gradientUnits="userSpaceOnUse" x1="432.44" y1="430.38" x2="426.86" y2="447.49"><stop offset="0" stop-color="#D5712F"/><stop offset="0.15" stop-color="#D4702E"/><stop offset="0.35" stop-color="#CF6C2B"/><stop offset="0.55" stop-color="#C66525"/><stop offset="0.75" stop-color="#BC5E20"/><stop offset="0.9" stop-color="#B75B1D"/><stop offset="1" stop-color="#B5591C"/></linearGradient><radialGradient id="r157" gradientUnits="userSpaceOnUse" cx="432.44" cy="430.38" r="205.3"><stop offset="0.9123" stop-color="#B5591C"/><stop offset="0.9211" stop-color="#B4591C"/><stop offset="0.9342" stop-color="#B3581C"/><stop offset="0.9518" stop-color="#B0561B"/><stop offset="0.9693" stop-color="#AD551B"/><stop offset="0.9868" stop-color="#AB541A"/><stop offset="1.0000" stop-color="#AA531A"/></radialGradient><radialGradient id="r158" gradientUnits="userSpaceOnUse" cx="432.44" cy="430.38" r="205.3"><stop offset="0.9123" stop-color="#B5591C"/><stop offset="0.9211" stop-color="#B4591C"/><stop offset="0.9342" stop-color="#B3581C"/><stop offset="0.9518" stop-color="#B0561B"/><stop offset="0.9693" stop-color="#AD551B"/><stop offset="0.9868" stop-color="#AB541A"/><stop offset="1.0000" stop-color="#AA541A"/></radialGradient><radialGradient id="r159" gradientUnits="userSpaceOnUse" cx="432.44" cy="430.38" r="205.3"><stop offset="0.9123" stop-color="#B5591C"/><stop offset="0.9211" stop-color="#B4591C"/><stop offset="0.9342" stop-color="#B3581C"/><stop offset="0.9518" stop-color="#B0561B"/><stop offset="0.9693" stop-color="#AD551B"/><stop offset="0.9868" stop-color="#AB541A"/><stop offset="1.0000" stop-color="#AA541A"/></radialGradient><radialGradient id="r160" gradientUnits="userSpaceOnUse" cx="432.44" cy="430.38" r="205.3"><stop offset="0.9123" stop-color="#B5591C"/><stop offset="0.9211" stop-color="#B4591C"/><stop offset="0.9342" stop-color="#B3581C"/><stop offset="0.9518" stop-color="#B0571B"/><stop offset="0.9693" stop-color="#AD551B"/><stop offset="0.9868" stop-color="#AB541B"/><stop offset="1.0000" stop-color="#AB541A"/></radialGradient><radialGradient id="r161" gradientUnits="userSpaceOnUse" cx="432.44" cy="430.38" r="205.3"><stop offset="0.9123" stop-color="#B5591C"/><stop offset="0.9211" stop-color="#B4591C"/><stop offset="0.9342" stop-color="#B3581C"/><stop offset="0.9518" stop-color="#B0571B"/><stop offset="0.9693" stop-color="#AE551B"/><stop offset="0.9868" stop-color="#AC541B"/><stop offset="1.0000" stop-color="#AB541A"/></radialGradient><radialGradient id="r162" gradientUnits="userSpaceOnUse" cx="432.44" cy="430.38" r="205.3"><stop offset="0.9123" stop-color="#B5591C"/><stop offset="0.9211" stop-color="#B4591C"/><stop offset="0.9342" stop-color="#B3581C"/><stop offset="0.9518" stop-color="#B1571B"/><stop offset="0.9693" stop-color="#AE561B"/><stop offset="0.9868" stop-color="#AC551B"/><stop offset="1.0000" stop-color="#AC541B"/></radialGradient><radialGradient id="r163" gradientUnits="userSpaceOnUse" cx="432.44" cy="430.38" r="205.3"><stop offset="0.9123" stop-color="#B5591C"/><stop offset="0.9211" stop-color="#B5591C"/><stop offset="0.9342" stop-color="#B3581C"/><stop offset="0.9518" stop-color="#B2571B"/><stop offset="0.9693" stop-color="#B0561B"/><stop offset="0.9868" stop-color="#AE561B"/><stop offset="1.0000" stop-color="#AE551B"/></radialGradient><linearGradient id="g164" gradientUnits="userSpaceOnUse" x1="434.32" y1="424.47" x2="439.91" y2="407.36"><stop offset="0" stop-color="#575757"/><stop offset="0.15" stop-color="#585858"/><stop offset="0.35" stop-color="#5C5C5C"/><stop offset="0.55" stop-color="#626262"/><stop offset="0.75" stop-color="#676767"/><stop offset="0.9" stop-color="#6B6B6B"/><stop offset="1" stop-color="#6C6C6C"/></linearGradient><linearGradient id="g165" gradientUnits="userSpaceOnUse" x1="434.32" y1="424.47" x2="425.71" y2="440.28"><stop offset="0" stop-color="#7F7F7F"/><stop offset="0.15" stop-color="#7E7E7E"/><stop offset="0.35" stop-color="#7B7B7B"/><stop offset="0.55" stop-color="#757575"/><stop offset="0.75" stop-color="#707070"/><stop offset="0.9" stop-color="#6D6D6D"/><stop offset="1" stop-color="#6C6C6C"/></linearGradient><radialGradient id="r166" gradientUnits="userSpaceOnUse" cx="434.32" cy="424.47" r="205.3"><stop offset="0.9123" stop-color="#6C6C6C"/><stop offset="0.9211" stop-color="#6C6C6C"/><stop offset="0.9342" stop-color="#6B6B6B"/><stop offset="0.9518" stop-color="#6B6B6B"/><stop offset="0.9693" stop-color="#6A6A6A"/><stop offset="0.9868" stop-color="#696969"/><stop offset="1.0000" stop-color="#696969"/></radialGradient><radialGradient id="r167" gradientUnits="userSpaceOnUse" cx="434.32" cy="424.47" r="205.3"><stop offset="0.9123" stop-color="#6C6C6C"/><stop offset="0.9211" stop-color="#6C6C6C"/><stop offset="0.9342" stop-color="#6C6C6C"/><stop offset="0.9518" stop-color="#6B6B6B"/><stop offset="0.9693" stop-color="#6B6B6B"/><stop offset="0.9868" stop-color="#6A6A6A"/><stop offset="1.0000" stop-color="#6A6A6A"/></radialGradient><radialGradient id="r168" gradientUnits="userSpaceOnUse" cx="434.32" cy="424.47" r="205.3"><stop offset="0.9123" stop-color="#6C6C6C"/><stop offset="0.9211" stop-color="#6C6C6C"/><stop offset="0.9342" stop-color="#6C6C6C"/><stop offset="0.9518" stop-color="#6C6C6C"/><stop offset="0.9693" stop-color="#6C6C6C"/><stop offset="0.9868" stop-color="#6C6C6C"/><stop offset="1.0000" stop-color="#6C6C6C"/></radialGradient><radialGradient id="r169" gradientUnits="userSpaceOnUse" cx="434.32" cy="424.47" r="205.3"><stop offset="0.9123" stop-color="#6C6C6C"/><stop offset="0.9211" stop-color="#6C6C6C"/><stop offset="0.9342" stop-color="#6C6C6C"/><stop offset="0.9518" stop-color="#6D6D6D"/><stop offset="0.9693" stop-color="#6D6D6D"/><stop offset="0.9868" stop-color="#6E6E6E"/><stop offset="1.0000" stop-color="#6E6E6E"/></radialGradient><radialGradient id="r170" gradientUnits="userSpaceOnUse" cx="434.32" cy="424.47" r="205.3"><stop offset="0.9123" stop-color="#6C6C6C"/><stop offset="0.9211" stop-color="#6C6C6C"/><stop offset="0.9342" stop-color="#6D6D6D"/><stop offset="0.9518" stop-color="#6F6F6F"/><stop offset="0.9693" stop-color="#707070"/><stop offset="0.9868" stop-color="#717171"/><stop offset="1.0000" stop-color="#717171"/></radialGradient><radialGradient id="r171" gradientUnits="userSpaceOnUse" cx="434.32" cy="424.47" r="205.3"><stop offset="0.9123" stop-color="#6C6C6C"/><stop offset="0.9211" stop-color="#6D6D6D"/><stop offset="0.9342" stop-color="#6E6E6E"/><stop offset="0.9518" stop-color="#717171"/><stop offset="0.9693" stop-color="#737373"/><stop offset="0.9868" stop-color="#757575"/><stop offset="1.0000" stop-color="#767676"/></radialGradient><linearGradient id="g172" gradientUnits="userSpaceOnUse" x1="437.04" y1="419.47" x2="445.65" y2="403.67"><stop offset="0" stop-color="#8B6A0A"/><stop offset="0.15" stop-color="#8C6B0A"/><stop offset="0.35" stop-color="#916F0A"/><stop offset="0.55" stop-color="#99750B"/><stop offset="0.75" stop-color="#A07A0C"/><stop offset="0.9" stop-color="#A47E0C"/><stop offset="1" stop-color="#A67F0C"/></linearGradient><linearGradient id="g173" gradientUnits="userSpaceOnUse" x1="437.04" y1="419.47" x2="425.69" y2="433.45"><stop offset="0" stop-color="#B28A13"/><stop offset="0.15" stop-color="#B28912"/><stop offset="0.35" stop-color="#B08811"/><stop offset="0.55" stop-color="#AC840F"/><stop offset="0.75" stop-color="#A9810D"/><stop offset="0.9" stop-color="#A7800C"/><stop offset="1" stop-color="#A67F0C"/></linearGradient><radialGradient id="r174" gradientUnits="userSpaceOnUse" cx="437.04" cy="419.47" r="205.3"><stop offset="0.9123" stop-color="#A67F0C"/><stop offset="0.9211" stop-color="#A7800D"/><stop offset="0.9342" stop-color="#AA820E"/><stop offset="0.9518" stop-color="#AF8711"/><stop offset="0.9693" stop-color="#B38B13"/><stop offset="0.9868" stop-color="#B68D15"/><stop offset="1.0000" stop-color="#B88F16"/></radialGradient><radialGradient id="r175" gradientUnits="userSpaceOnUse" cx="437.04" cy="419.47" r="205.3"><stop offset="0.9123" stop-color="#A67F0C"/><stop offset="0.9211" stop-color="#A7800D"/><stop offset="0.9342" stop-color="#AB840F"/><stop offset="0.9518" stop-color="#B18912"/><stop offset="0.9693" stop-color="#B78E15"/><stop offset="0.9868" stop-color="#BB9218"/><stop offset="1.0000" stop-color="#BD9319"/></radialGradient><radialGradient id="r176" gradientUnits="userSpaceOnUse" cx="437.04" cy="419.47" r="205.3"><stop offset="0.9123" stop-color="#A67F0C"/><stop offset="0.9211" stop-color="#A8810D"/><stop offset="0.9342" stop-color="#AC850F"/><stop offset="0.9518" stop-color="#B48B13"/><stop offset="0.9693" stop-color="#BB9218"/><stop offset="0.9868" stop-color="#C0961A"/><stop offset="1.0000" stop-color="#C2981C"/></radialGradient><radialGradient id="r177" gradientUnits="userSpaceOnUse" cx="437.04" cy="419.47" r="205.3"><stop offset="0.9123" stop-color="#A67F0C"/><stop offset="0.9211" stop-color="#A8810D"/><stop offset="0.9342" stop-color="#AE8610"/><stop offset="0.9518" stop-color="#B68E15"/><stop offset="0.9693" stop-color="#BF951A"/><stop offset="0.9868" stop-color="#C59A1D"/><stop offset="1.0000" stop-color="#C79C1F"/></radialGradient><radialGradient id="r178" gradientUnits="userSpaceOnUse" cx="437.04" cy="419.47" r="205.3"><stop offset="0.9123" stop-color="#A67F0C"/><stop offset="0.9211" stop-color="#A8810D"/><stop offset="0.9342" stop-color="#AE8610"/><stop offset="0.9518" stop-color="#B78E16"/><stop offset="0.9693" stop-color="#C1971B"/><stop offset="0.9868" stop-color="#C79C1E"/><stop offset="1.0000" stop-color="#C99E20"/></radialGradient><radialGradient id="r179" gradientUnits="userSpaceOnUse" cx="437.04" cy="419.47" r="205.3"><stop offset="0.9123" stop-color="#A67F0C"/><stop offset="0.9211" stop-color="#A8810D"/><stop offset="0.9342" stop-color="#AF8711"/><stop offset="0.9518" stop-color="#B88F16"/><stop offset="0.9693" stop-color="#C2981B"/><stop offset="0.9868" stop-color="#C89D1F"/><stop offset="1.0000" stop-color="#CBA021"/></radialGradient><linearGradient id="g180" gradientUnits="userSpaceOnUse" x1="440.31" y1="415.38" x2="451.66" y2="401.41"><stop offset="0" stop-color="#244274"/><stop offset="0.15" stop-color="#254275"/><stop offset="0.35" stop-color="#264478"/><stop offset="0.55" stop-color="#27477D"/><stop offset="0.75" stop-color="#294A82"/><stop offset="0.9" stop-color="#2A4B85"/><stop offset="1" stop-color="#2A4C86"/></linearGradient><linearGradient id="g181" gradientUnits="userSpaceOnUse" x1="440.31" y1="415.38" x2="426.95" y2="427.45"><stop offset="0" stop-color="#2D4F8A"/><stop offset="0.15" stop-color="#2C4F8A"/><stop offset="0.35" stop-color="#2C4E89"/><stop offset="0.55" stop-color="#2B4E88"/><stop offset="0.75" stop-color="#2B4D87"/><stop offset="0.9" stop-color="#2A4C86"/><stop offset="1" stop-color="#2A4C86"/></linearGradient><radialGradient id="r182" gradientUnits="userSpaceOnUse" cx="440.31" cy="415.38" r="205.3"><stop offset="0.9123" stop-color="#2A4C86"/><stop offset="0.9211" stop-color="#2C4E88"/><stop offset="0.9342" stop-color="#30528E"/><stop offset="0.9518" stop-color="#365A97"/><stop offset="0.9693" stop-color="#3C61A0"/><stop offset="0.9868" stop-color="#4166A6"/><stop offset="1.0000" stop-color="#4368A9"/></radialGradient><radialGradient id="r183" gradientUnits="userSpaceOnUse" cx="440.31" cy="415.38" r="205.3"><stop offset="0.9123" stop-color="#2A4C86"/><stop offset="0.9211" stop-color="#2C4E88"/><stop offset="0.9342" stop-color="#30538E"/><stop offset="0.9518" stop-color="#375B98"/><stop offset="0.9693" stop-color="#3D62A1"/><stop offset="0.9868" stop-color="#4267A7"/><stop offset="1.0000" stop-color="#446AAA"/></radialGradient><radialGradient id="r184" gradientUnits="userSpaceOnUse" cx="440.31" cy="415.38" r="205.3"><stop offset="0.9123" stop-color="#2A4C86"/><stop offset="0.9211" stop-color="#2C4E88"/><stop offset="0.9342" stop-color="#30538F"/><stop offset="0.9518" stop-color="#375B99"/><stop offset="0.9693" stop-color="#3E63A2"/><stop offset="0.9868" stop-color="#4368A9"/><stop offset="1.0000" stop-color="#456BAB"/></radialGradient><radialGradient id="r185" gradientUnits="userSpaceOnUse" cx="440.31" cy="415.38" r="205.3"><stop offset="0.9123" stop-color="#2A4C86"/><stop offset="0.9211" stop-color="#2C4E88"/><stop offset="0.9342" stop-color="#30538F"/><stop offset="0.9518" stop-color="#385C99"/><stop offset="0.9693" stop-color="#3F64A3"/><stop offset="0.9868" stop-color="#4469AA"/><stop offset="1.0000" stop-color="#466CAD"/></radialGradient><radialGradient id="r186" gradientUnits="userSpaceOnUse" cx="440.31" cy="415.38" r="205.3"><stop offset="0.9123" stop-color="#2A4C86"/><stop offset="0.9211" stop-color="#2C4E89"/><stop offset="0.9342" stop-color="#30548F"/><stop offset="0.9518" stop-color="#385C9A"/><stop offset="0.9693" stop-color="#3F65A4"/><stop offset="0.9868" stop-color="#456AAB"/><stop offset="1.0000" stop-color="#476DAE"/></radialGradient><linearGradient id="g187" gradientUnits="userSpaceOnUse" x1="443.83" y1="412.20" x2="457.19" y2="400.14"><stop offset="0" stop-color="#42672B"/><stop offset="0.15" stop-color="#43682B"/><stop offset="0.35" stop-color="#446A2C"/><stop offset="0.55" stop-color="#466D2D"/><stop offset="0.75" stop-color="#48702F"/><stop offset="0.9" stop-color="#4A7230"/><stop offset="1" stop-color="#4A7330"/></linearGradient><linearGradient id="g188" gradientUnits="userSpaceOnUse" x1="443.83" y1="412.20" x2="428.80" y2="422.12"><stop offset="0" stop-color="#48702F"/><stop offset="0.15" stop-color="#48702F"/><stop offset="0.35" stop-color="#48712F"/><stop offset="0.55" stop-color="#49712F"/><stop offset="0.75" stop-color="#4A7230"/><stop offset="0.9" stop-color="#4A7330"/><stop offset="1" stop-color="#4A7330"/></linearGradient><radialGradient id="r189" gradientUnits="userSpaceOnUse" cx="443.83" cy="412.20" r="205.3"><stop offset="0.9123" stop-color="#4A7330"/><stop offset="0.9211" stop-color="#4C7532"/><stop offset="0.9342" stop-color="#527C37"/><stop offset="0.9518" stop-color="#5B863F"/><stop offset="0.9693" stop-color="#639047"/><stop offset="0.9868" stop-color="#69974C"/><stop offset="1.0000" stop-color="#6C9A4F"/></radialGradient><radialGradient id="r190" gradientUnits="userSpaceOnUse" cx="443.83" cy="412.20" r="205.3"><stop offset="0.9123" stop-color="#4A7330"/><stop offset="0.9211" stop-color="#4C7632"/><stop offset="0.9342" stop-color="#527C37"/><stop offset="0.9518" stop-color="#5B873F"/><stop offset="0.9693" stop-color="#649147"/><stop offset="0.9868" stop-color="#6A984D"/><stop offset="1.0000" stop-color="#6D9B4F"/></radialGradient><radialGradient id="r191" gradientUnits="userSpaceOnUse" cx="443.83" cy="412.20" r="205.3"><stop offset="0.9123" stop-color="#4A7330"/><stop offset="0.9211" stop-color="#4C7632"/><stop offset="0.9342" stop-color="#527C37"/><stop offset="0.9518" stop-color="#5B873F"/><stop offset="0.9693" stop-color="#649148"/><stop offset="0.9868" stop-color="#6A984D"/><stop offset="1.0000" stop-color="#6D9B50"/></radialGradient><radialGradient id="r192" gradientUnits="userSpaceOnUse" cx="443.83" cy="412.20" r="205.3"><stop offset="0.9123" stop-color="#4A7330"/><stop offset="0.9211" stop-color="#4C7632"/><stop offset="0.9342" stop-color="#527C37"/><stop offset="0.9518" stop-color="#5B8740"/><stop offset="0.9693" stop-color="#649248"/><stop offset="0.9868" stop-color="#6B994D"/><stop offset="1.0000" stop-color="#6D9C50"/></radialGradient><radialGradient id="r193" gradientUnits="userSpaceOnUse" cx="443.83" cy="412.20" r="205.3"><stop offset="0.9123" stop-color="#4A7330"/><stop offset="0.9211" stop-color="#4C7632"/><stop offset="0.9342" stop-color="#527D37"/><stop offset="0.9518" stop-color="#5C8740"/><stop offset="0.9693" stop-color="#659248"/><stop offset="0.9868" stop-color="#6B994E"/><stop offset="1.0000" stop-color="#6E9C50"/></radialGradient><linearGradient id="g194" gradientUnits="userSpaceOnUse" x1="446.97" y1="410.07" x2="461.99" y2="400.15"><stop offset="0" stop-color="#77A8D5"/><stop offset="0.15" stop-color="#77A8D5"/><stop offset="0.35" stop-color="#79AAD8"/><stop offset="0.55" stop-color="#7BADDC"/><stop offset="0.75" stop-color="#7DB1E0"/><stop offset="0.9" stop-color="#7FB2E2"/><stop offset="1" stop-color="#7FB3E3"/></linearGradient><linearGradient id="g195" gradientUnits="userSpaceOnUse" x1="446.97" y1="410.07" x2="431.08" y2="418.53"><stop offset="0" stop-color="#78AAD7"/><stop offset="0.15" stop-color="#79AAD8"/><stop offset="0.35" stop-color="#7AACDA"/><stop offset="0.55" stop-color="#7CAEDD"/><stop offset="0.75" stop-color="#7EB1E0"/><stop offset="0.9" stop-color="#7FB2E2"/><stop offset="1" stop-color="#7FB3E3"/></linearGradient><radialGradient id="r196" gradientUnits="userSpaceOnUse" cx="446.97" cy="410.07" r="205.3"><stop offset="0.9123" stop-color="#7FB3E3"/><stop offset="0.9211" stop-color="#82B6E7"/><stop offset="0.9342" stop-color="#89BFF0"/><stop offset="0.9518" stop-color="#94CCFF"/><stop offset="0.9693" stop-color="#9FD9FF"/><stop offset="0.9868" stop-color="#A7E1FF"/><stop offset="1.0000" stop-color="#AAE5FF"/></radialGradient><radialGradient id="r197" gradientUnits="userSpaceOnUse" cx="446.97" cy="410.07" r="205.3"><stop offset="0.9123" stop-color="#7FB3E3"/><stop offset="0.9211" stop-color="#82B6E7"/><stop offset="0.9342" stop-color="#89BFF1"/><stop offset="0.9518" stop-color="#95CCFF"/><stop offset="0.9693" stop-color="#A0D9FF"/><stop offset="0.9868" stop-color="#A7E2FF"/><stop offset="1.0000" stop-color="#AAE5FF"/></radialGradient><radialGradient id="r198" gradientUnits="userSpaceOnUse" cx="446.97" cy="410.07" r="205.3"><stop offset="0.9123" stop-color="#7FB3E3"/><stop offset="0.9211" stop-color="#82B6E7"/><stop offset="0.9342" stop-color="#89BFF1"/><stop offset="0.9518" stop-color="#95CDFF"/><stop offset="0.9693" stop-color="#A0D9FF"/><stop offset="0.9868" stop-color="#A7E2FF"/><stop offset="1.0000" stop-color="#ABE6FF"/></radialGradient><linearGradient id="g199" gradientUnits="userSpaceOnUse" x1="449.08" y1="408.92" x2="464.97" y2="400.45"><stop offset="0" stop-color="#E99459"/><stop offset="0.15" stop-color="#E9945A"/><stop offset="0.35" stop-color="#EB955A"/><stop offset="0.55" stop-color="#ED975B"/><stop offset="0.75" stop-color="#F0995C"/><stop offset="0.9" stop-color="#F19A5D"/><stop offset="1" stop-color="#F29A5D"/></linearGradient><linearGradient id="g200" gradientUnits="userSpaceOnUse" x1="449.08" y1="408.92" x2="432.71" y2="416.40"><stop offset="0" stop-color="#E18F56"/><stop offset="0.15" stop-color="#E29057"/><stop offset="0.35" stop-color="#E59258"/><stop offset="0.55" stop-color="#E9955A"/><stop offset="0.75" stop-color="#EE985C"/><stop offset="0.9" stop-color="#F1995D"/><stop offset="1" stop-color="#F29A5D"/></linearGradient><radialGradient id="r201" gradientUnits="userSpaceOnUse" cx="449.08" cy="408.92" r="205.3"><stop offset="0.9123" stop-color="#F29A5D"/><stop offset="0.9211" stop-color="#F69D60"/><stop offset="0.9342" stop-color="#FFA566"/><stop offset="0.9518" stop-color="#FFB271"/><stop offset="0.9693" stop-color="#FFBE7B"/><stop offset="0.9868" stop-color="#FFC681"/><stop offset="1.0000" stop-color="#FFCA84"/></radialGradient><radialGradient id="r202" gradientUnits="userSpaceOnUse" cx="449.08" cy="408.92" r="205.3"><stop offset="0.9123" stop-color="#F29A5D"/><stop offset="0.9211" stop-color="#F69D60"/><stop offset="0.9342" stop-color="#FFA566"/><stop offset="0.9518" stop-color="#FFB271"/><stop offset="0.9693" stop-color="#FFBE7B"/><stop offset="0.9868" stop-color="#FFC782"/><stop offset="1.0000" stop-color="#FFCA85"/></radialGradient><linearGradient id="g203" gradientUnits="userSpaceOnUse" x1="450.78" y1="408.14" x2="467.15" y2="400.66"><stop offset="0" stop-color="#B5B5B5"/><stop offset="0.15" stop-color="#B5B5B5"/><stop offset="0.35" stop-color="#B6B6B6"/><stop offset="0.55" stop-color="#B7B7B7"/><stop offset="0.75" stop-color="#B8B8B8"/><stop offset="0.9" stop-color="#B9B9B9"/><stop offset="1" stop-color="#B9B9B9"/></linearGradient><linearGradient id="g204" gradientUnits="userSpaceOnUse" x1="450.78" y1="408.14" x2="433.99" y2="414.64"><stop offset="0" stop-color="#A9A9A9"/><stop offset="0.15" stop-color="#A9A9A9"/><stop offset="0.35" stop-color="#ACACAC"/><stop offset="0.55" stop-color="#B1B1B1"/><stop offset="0.75" stop-color="#B5B5B5"/><stop offset="0.9" stop-color="#B8B8B8"/><stop offset="1" stop-color="#B9B9B9"/></linearGradient><radialGradient id="r205" gradientUnits="userSpaceOnUse" cx="450.78" cy="408.14" r="205.3"><stop offset="0.9123" stop-color="#B9B9B9"/><stop offset="0.9211" stop-color="#BCBCBC"/><stop offset="0.9342" stop-color="#C6C6C6"/><stop offset="0.9518" stop-color="#D4D4D4"/><stop offset="0.9693" stop-color="#E1E1E1"/><stop offset="0.9868" stop-color="#EAEAEA"/><stop offset="1.0000" stop-color="#EEEEEE"/></radialGradient><radialGradient id="r206" gradientUnits="userSpaceOnUse" cx="450.78" cy="408.14" r="205.3"><stop offset="0.9123" stop-color="#B9B9B9"/><stop offset="0.9211" stop-color="#BCBCBC"/><stop offset="0.9342" stop-color="#C6C6C6"/><stop offset="0.9518" stop-color="#D4D4D4"/><stop offset="0.9693" stop-color="#E1E1E1"/><stop offset="0.9868" stop-color="#EAEAEA"/><stop offset="1.0000" stop-color="#EEEEEE"/></radialGradient><linearGradient id="g207" gradientUnits="userSpaceOnUse" x1="452.58" y1="407.45" x2="469.36" y2="400.95"><stop offset="0" stop-color="#FECD36"/><stop offset="0.15" stop-color="#FECD36"/><stop offset="0.35" stop-color="#FECD36"/><stop offset="0.55" stop-color="#FECD36"/><stop offset="0.75" stop-color="#FFCE36"/><stop offset="0.9" stop-color="#FFCE36"/><stop offset="1" stop-color="#FFCE36"/></linearGradient><linearGradient id="g208" gradientUnits="userSpaceOnUse" x1="452.58" y1="407.45" x2="435.40" y2="412.85"><stop offset="0" stop-color="#E3B830"/><stop offset="0.15" stop-color="#E5B930"/><stop offset="0.35" stop-color="#E9BC31"/><stop offset="0.55" stop-color="#F1C333"/><stop offset="0.75" stop-color="#F9C935"/><stop offset="0.9" stop-color="#FDCD36"/><stop offset="1" stop-color="#FFCE36"/></linearGradient><radialGradient id="r209" gradientUnits="userSpaceOnUse" cx="452.58" cy="407.45" r="205.3"><stop offset="0.9123" stop-color="#FFCE36"/><stop offset="0.9211" stop-color="#FFD238"/><stop offset="0.9342" stop-color="#FFDB3E"/><stop offset="0.9518" stop-color="#FFEB47"/><stop offset="0.9693" stop-color="#FFF950"/><stop offset="0.9868" stop-color="#FFFF57"/><stop offset="1.0000" stop-color="#FFFF59"/></radialGradient><radialGradient id="r210" gradientUnits="userSpaceOnUse" cx="452.58" cy="407.45" r="205.3"><stop offset="0.9123" stop-color="#FFCE36"/><stop offset="0.9211" stop-color="#FFD238"/><stop offset="0.9342" stop-color="#FFDC3E"/><stop offset="0.9518" stop-color="#FFEB47"/><stop offset="0.9693" stop-color="#FFF950"/><stop offset="0.9868" stop-color="#FFFF57"/><stop offset="1.0000" stop-color="#FFFF59"/></radialGradient><linearGradient id="g211" gradientUnits="userSpaceOnUse" x1="458.14" y1="406.06" x2="475.31" y2="400.66"><stop offset="0" stop-color="#6C93D5"/><stop offset="0.15" stop-color="#6C93D5"/><stop offset="0.35" stop-color="#6C93D6"/><stop offset="0.55" stop-color="#6C93D6"/><stop offset="0.75" stop-color="#6C93D6"/><stop offset="0.9" stop-color="#6C93D6"/><stop offset="1" stop-color="#6C93D6"/></linearGradient><linearGradient id="g212" gradientUnits="userSpaceOnUse" x1="458.14" y1="406.06" x2="440.14" y2="406.06"><stop offset="0" stop-color="#5A7BB3"/><stop offset="0.15" stop-color="#5B7CB5"/><stop offset="0.35" stop-color="#5E80BB"/><stop offset="0.55" stop-color="#6387C5"/><stop offset="0.75" stop-color="#688ECE"/><stop offset="0.9" stop-color="#6B92D4"/><stop offset="1" stop-color="#6C93D6"/></linearGradient><radialGradient id="r213" gradientUnits="userSpaceOnUse" cx="458.14" cy="406.06" r="205.3"><stop offset="0.9123" stop-color="#6C93D6"/><stop offset="0.9211" stop-color="#6F96DA"/><stop offset="0.9342" stop-color="#769EE4"/><stop offset="0.9518" stop-color="#81ABF3"/><stop offset="0.9693" stop-color="#8CB8FF"/><stop offset="0.9868" stop-color="#94C0FF"/><stop offset="1.0000" stop-color="#97C3FF"/></radialGradient><radialGradient id="r214" gradientUnits="userSpaceOnUse" cx="458.14" cy="406.06" r="205.3"><stop offset="0.9123" stop-color="#6C93D6"/><stop offset="0.9211" stop-color="#6F96DA"/><stop offset="0.9342" stop-color="#769EE4"/><stop offset="0.9518" stop-color="#81ABF3"/><stop offset="0.9693" stop-color="#8CB8FF"/><stop offset="0.9868" stop-color="#94C0FF"/><stop offset="1.0000" stop-color="#97C3FF"/></radialGradient><radialGradient id="r215" gradientUnits="userSpaceOnUse" cx="458.14" cy="406.06" r="205.3"><stop offset="0.9123" stop-color="#6C93D6"/><stop offset="0.9211" stop-color="#6F96DA"/><stop offset="0.9342" stop-color="#769EE4"/><stop offset="0.9518" stop-color="#81ABF3"/><stop offset="0.9693" stop-color="#8CB8FF"/><stop offset="0.9868" stop-color="#94C0FF"/><stop offset="1.0000" stop-color="#97C3FF"/></radialGradient><radialGradient id="r216" gradientUnits="userSpaceOnUse" cx="458.14" cy="406.06" r="205.3"><stop offset="0.9123" stop-color="#6C93D6"/><stop offset="0.9211" stop-color="#6F96DA"/><stop offset="0.9342" stop-color="#769EE4"/><stop offset="0.9518" stop-color="#81ABF3"/><stop offset="0.9693" stop-color="#8CB8FF"/><stop offset="0.9868" stop-color="#94C0FF"/><stop offset="1.0000" stop-color="#97C3FF"/></radialGradient><radialGradient id="r217" gradientUnits="userSpaceOnUse" cx="458.14" cy="406.06" r="205.3"><stop offset="0.9123" stop-color="#6C93D6"/><stop offset="0.9211" stop-color="#6F96DA"/><stop offset="0.9342" stop-color="#769EE4"/><stop offset="0.9518" stop-color="#81ABF3"/><stop offset="0.9693" stop-color="#8CB8FF"/><stop offset="0.9868" stop-color="#94C0FF"/><stop offset="1.0000" stop-color="#97C3FF"/></radialGradient><radialGradient id="r218" gradientUnits="userSpaceOnUse" cx="458.14" cy="406.06" r="205.3"><stop offset="0.9123" stop-color="#6C93D6"/><stop offset="0.9211" stop-color="#6F96DA"/><stop offset="0.9342" stop-color="#769EE4"/><stop offset="0.9518" stop-color="#81ABF3"/><stop offset="0.9693" stop-color="#8CB8FF"/><stop offset="0.9868" stop-color="#94C0FF"/><stop offset="1.0000" stop-color="#97C3FF"/></radialGradient><radialGradient id="r219" gradientUnits="userSpaceOnUse" cx="458.14" cy="406.06" r="205.3"><stop offset="0.9123" stop-color="#6C93D6"/><stop offset="0.9211" stop-color="#6F96DA"/><stop offset="0.9342" stop-color="#769EE4"/><stop offset="0.9518" stop-color="#81ABF3"/><stop offset="0.9693" stop-color="#8CB8FF"/><stop offset="0.9868" stop-color="#94C0FF"/><stop offset="1.0000" stop-color="#97C3FF"/></radialGradient><radialGradient id="r220" gradientUnits="userSpaceOnUse" cx="458.14" cy="406.06" r="205.3"><stop offset="0.9123" stop-color="#6C93D6"/><stop offset="0.9211" stop-color="#6F96DA"/><stop offset="0.9342" stop-color="#769EE4"/><stop offset="0.9518" stop-color="#81ABF3"/><stop offset="0.9693" stop-color="#8CB8FF"/><stop offset="0.9868" stop-color="#94C0FF"/><stop offset="1.0000" stop-color="#97C3FF"/></radialGradient><radialGradient id="r221" gradientUnits="userSpaceOnUse" cx="458.14" cy="406.06" r="205.3"><stop offset="0.9123" stop-color="#6C93D6"/><stop offset="0.9211" stop-color="#6F96DA"/><stop offset="0.9342" stop-color="#769EE4"/><stop offset="0.9518" stop-color="#81ABF3"/><stop offset="0.9693" stop-color="#8CB8FF"/><stop offset="0.9868" stop-color="#94C0FF"/><stop offset="1.0000" stop-color="#97C3FF"/></radialGradient>
</defs>
<g fill="none" stroke="#A6A6A6" stroke-width="1"><polyline points="310.40,145.50 317.60,145.50 357.50,223.50"/><polyline points="239.00,171.50 244.50,171.50 342.00,233.40"/><polyline points="219.60,208.50 225.80,208.50 318.20,249.50"/><polyline points="209.10,249.50 214.60,249.50 291.30,274.00"/><polyline points="219.10,293.50 225.00,293.50 265.10,305.00"/><polyline points="215.80,336.50 222.00,336.50 245.20,343.20"/><polyline points="354.00,167.50 359.90,167.50 370.30,216.80"/><polyline points="419.60,174.10 414.00,174.10 387.20,212.50"/><polyline points="502.60,145.40 495.60,145.40 427.20,202.70"/></g>
<g><path d="M485.39,415.39L485.39,210.09A205.3,205.3 0 0 1 690.41,426.24Z" fill="#7A35AA" filter="url(#sh)"/><polygon points="485.39,415.39 503.39,398.32 503.39,397.61 503.39,396.87 503.39,396.10 503.39,395.30 503.39,394.46 503.39,393.58 503.39,392.66 503.39,391.68 503.39,390.66 503.39,389.57 503.39,388.42 503.39,387.20 503.39,385.90 503.39,384.50 503.39,383.01 503.39,381.41 503.39,379.67 503.39,377.79 503.39,375.75 503.39,373.51 503.39,371.05 503.39,368.33 503.39,365.31 503.39,361.92 503.39,358.10 503.39,353.75 503.39,348.76 503.39,342.95 503.39,336.11 503.39,327.92 503.39,317.95 503.39,305.51 503.39,289.55 503.39,268.31 503.39,238.62 500.79,226.11 497.17,222.22 493.40,218.26 489.48,214.21 485.39,210.09" fill="url(#g1)"/><polygon points="485.39,415.39 503.39,398.32 504.10,398.35 504.84,398.39 505.60,398.43 506.40,398.48 507.24,398.52 508.12,398.57 509.04,398.62 510.02,398.67 511.04,398.72 512.12,398.78 513.27,398.84 514.49,398.90 515.79,398.97 517.19,399.05 518.68,399.13 520.28,399.21 522.01,399.30 523.89,399.40 525.93,399.51 528.17,399.63 530.62,399.76 533.34,399.90 536.36,400.06 539.74,400.24 543.55,400.44 547.89,400.67 552.88,400.94 558.68,401.24 565.51,401.60 573.69,402.04 583.65,402.56 596.07,403.22 612.01,404.07 633.22,405.19 662.86,406.76 675.22,410.02 678.91,413.84 682.67,417.81 686.50,421.94 690.41,426.24" fill="url(#g2)"/><polygon points="485.39,210.09 486.46,210.09 487.54,210.10 488.61,210.11 489.68,210.13 490.75,210.16 491.82,210.19 492.89,210.23 492.63,217.46 491.63,216.42 490.62,215.38 489.59,214.33 488.56,213.28 487.51,212.22 486.46,211.16 485.39,210.09" fill="url(#r3)"/><polygon points="492.48,210.21 493.56,210.25 494.63,210.30 495.70,210.35 496.77,210.40 497.84,210.47 498.91,210.53 499.98,210.61 499.01,224.19 498.07,223.19 497.13,222.18 496.17,221.16 495.20,220.15 494.23,219.12 493.24,218.09 492.25,217.06" fill="url(#r4)"/><polygon points="499.57,210.58 500.64,210.66 501.70,210.74 502.77,210.83 503.84,210.92 504.91,211.02 505.97,211.12 507.04,211.23 505.14,229.13 504.17,229.03 503.21,228.76 502.32,227.78 501.42,226.79 500.50,225.80 499.58,224.81 498.65,223.81" fill="url(#r5)"/><polygon points="506.63,211.19 507.70,211.30 508.76,211.42 509.83,211.55 510.89,211.68 511.95,211.81 513.02,211.96 514.08,212.10 511.56,229.93 510.60,229.79 509.63,229.66 508.66,229.54 507.69,229.42 506.71,229.31 505.74,229.20 504.77,229.09" fill="url(#r6)"/><polygon points="513.67,212.05 514.73,212.20 515.79,212.35 516.85,212.51 517.91,212.68 518.97,212.85 520.03,213.03 521.08,213.21 517.95,230.94 516.99,230.77 516.03,230.61 515.06,230.45 514.10,230.30 513.13,230.15 512.16,230.01 511.19,229.87" fill="url(#r7)"/><polygon points="520.68,213.14 521.73,213.33 522.79,213.52 523.84,213.72 524.89,213.92 525.95,214.13 527.00,214.35 528.04,214.57 524.31,232.18 523.35,231.97 522.39,231.78 521.43,231.59 520.47,231.40 519.51,231.22 518.55,231.05 517.59,230.88" fill="url(#r8)"/><polygon points="527.64,214.48 528.69,214.71 529.74,214.94 530.78,215.17 531.83,215.41 532.87,215.65 533.91,215.91 534.96,216.16 530.61,233.63 529.66,233.40 528.71,233.17 527.76,232.94 526.80,232.72 525.85,232.51 524.90,232.30 523.94,232.10" fill="url(#r9)"/><polygon points="534.56,216.06 535.60,216.32 536.64,216.59 537.67,216.86 538.71,217.13 539.74,217.41 540.78,217.70 541.81,217.99 536.86,235.30 535.92,235.03 534.98,234.77 534.03,234.51 533.09,234.26 532.14,234.02 531.20,233.78 530.25,233.54" fill="url(#r10)"/><polygon points="541.41,217.88 542.44,218.17 543.47,218.48 544.50,218.78 545.52,219.09 546.55,219.41 547.57,219.73 548.59,220.06 543.05,237.18 542.12,236.89 541.19,236.59 540.25,236.30 539.32,236.02 538.38,235.74 537.44,235.47 536.50,235.20" fill="url(#r11)"/><polygon points="548.20,219.93 549.22,220.26 550.24,220.60 551.25,220.94 552.27,221.29 553.28,221.64 554.29,222.00 555.30,222.36 549.17,239.28 548.25,238.95 547.33,238.63 546.41,238.30 545.48,237.99 544.55,237.68 543.62,237.37 542.69,237.07" fill="url(#r12)"/><polygon points="554.91,222.22 555.92,222.58 556.93,222.95 557.93,223.33 558.93,223.71 559.93,224.10 560.93,224.49 561.93,224.89 555.22,241.59 554.31,241.23 553.40,240.87 552.49,240.52 551.57,240.17 550.66,239.83 549.74,239.49 548.82,239.15" fill="url(#r13)"/><polygon points="561.54,224.73 562.54,225.13 563.53,225.54 564.52,225.95 565.51,226.37 566.50,226.79 567.48,227.21 568.46,227.64 561.18,244.11 560.28,243.71 559.38,243.32 558.49,242.94 557.58,242.56 556.68,242.19 555.78,241.82 554.87,241.45" fill="url(#r14)"/><polygon points="568.08,227.48 569.06,227.91 570.04,228.35 571.02,228.80 571.99,229.25 572.96,229.70 573.93,230.16 574.90,230.63 567.05,246.82 566.17,246.40 565.28,245.98 564.40,245.57 563.51,245.16 562.62,244.75 561.73,244.35 560.83,243.95" fill="url(#r15)"/><polygon points="574.53,230.45 575.49,230.91 576.45,231.39 577.41,231.87 578.37,232.35 579.32,232.84 580.27,233.33 581.22,233.83 572.82,249.75 571.96,249.29 571.09,248.84 570.22,248.40 569.34,247.96 568.47,247.52 567.59,247.09 566.71,246.66" fill="url(#r16)"/><polygon points="580.86,233.64 581.81,234.14 582.75,234.64 583.70,235.15 584.63,235.67 585.57,236.19 586.51,236.72 587.44,237.25 578.49,252.86 577.64,252.38 576.79,251.90 575.93,251.43 575.08,250.96 574.22,250.49 573.35,250.03 572.49,249.57" fill="url(#r17)"/><polygon points="587.08,237.04 588.01,237.58 588.94,238.11 589.86,238.66 590.78,239.20 591.70,239.76 592.62,240.31 593.53,240.88 584.05,256.18 583.22,255.66 582.38,255.16 581.54,254.65 580.70,254.15 579.86,253.66 579.01,253.17 578.17,252.68" fill="url(#r18)"/><polygon points="593.18,240.66 594.09,241.23 595.00,241.80 595.90,242.37 596.81,242.95 597.70,243.53 598.60,244.12 599.49,244.72 589.49,259.68 588.67,259.14 587.86,258.60 587.04,258.07 586.21,257.54 585.39,257.02 584.56,256.50 583.73,255.98" fill="url(#r19)"/><polygon points="599.15,244.49 600.04,245.08 600.93,245.68 601.81,246.29 602.69,246.90 603.57,247.52 604.45,248.13 605.32,248.76 594.80,263.37 594.01,262.80 593.21,262.23 592.41,261.67 591.61,261.12 590.80,260.56 589.99,260.02 589.18,259.47" fill="url(#r20)"/><polygon points="604.99,248.52 605.86,249.15 606.72,249.78 607.58,250.41 608.44,251.05 609.30,251.70 610.15,252.35 611.00,253.00 599.99,267.24 599.22,266.64 598.44,266.05 597.66,265.46 596.87,264.88 596.08,264.30 595.29,263.72 594.50,263.15" fill="url(#r21)"/><polygon points="610.68,252.75 611.53,253.41 612.37,254.07 613.21,254.73 614.05,255.40 614.88,256.07 615.71,256.75 616.54,257.44 605.04,271.28 604.28,270.66 603.53,270.04 602.77,269.43 602.00,268.82 601.24,268.21 600.47,267.61 599.69,267.01" fill="url(#r22)"/><polygon points="616.22,257.17 617.05,257.86 617.87,258.55 618.68,259.24 619.50,259.94 620.31,260.64 621.11,261.35 621.91,262.06 609.94,275.50 609.21,274.85 608.48,274.21 607.74,273.57 607.00,272.93 606.25,272.30 605.50,271.67 604.75,271.04" fill="url(#r23)"/><polygon points="621.61,261.79 622.41,262.50 623.20,263.22 624.00,263.94 624.79,264.66 625.57,265.39 626.35,266.13 627.13,266.87 614.70,279.89 613.99,279.21 613.28,278.55 612.56,277.88 611.84,277.22 611.12,276.56 610.39,275.90 609.66,275.25" fill="url(#r24)"/><polygon points="626.83,266.58 627.61,267.32 628.38,268.07 629.14,268.82 629.91,269.57 630.67,270.33 631.42,271.09 632.17,271.85 619.30,284.44 618.62,283.74 617.93,283.04 617.24,282.35 616.54,281.67 615.84,280.98 615.14,280.31 614.43,279.63" fill="url(#r25)"/><polygon points="631.89,271.56 632.64,272.32 633.38,273.09 634.12,273.87 634.86,274.65 635.59,275.43 636.32,276.22 637.04,277.01 623.75,289.14 623.09,288.42 622.42,287.70 621.75,286.99 621.08,286.28 620.41,285.57 619.73,284.87 619.04,284.17" fill="url(#r26)"/><polygon points="636.77,276.70 637.49,277.49 638.21,278.29 638.92,279.09 639.63,279.89 640.34,280.70 641.04,281.51 641.73,282.33 628.03,293.99 627.39,293.25 626.75,292.51 626.11,291.77 625.46,291.04 624.81,290.31 624.15,289.58 623.50,288.86" fill="url(#r27)"/><polygon points="641.47,282.01 642.16,282.83 642.85,283.65 643.54,284.47 644.22,285.30 644.90,286.13 645.57,286.97 646.24,287.81 632.13,298.99 631.52,298.23 630.91,297.47 630.29,296.71 629.67,295.95 629.05,295.20 628.42,294.45 627.78,293.71" fill="url(#r28)"/><polygon points="645.98,287.48 646.65,288.32 647.31,289.17 647.96,290.01 648.62,290.87 649.26,291.72 649.91,292.58 650.55,293.44 636.07,304.13 635.48,303.34 634.90,302.56 634.31,301.78 633.71,301.01 633.11,300.23 632.51,299.46 631.90,298.70" fill="url(#r29)"/><polygon points="650.30,293.11 650.94,293.97 651.57,294.84 652.20,295.70 652.82,296.58 653.44,297.45 654.05,298.33 654.66,299.21 639.82,309.40 639.26,308.59 638.70,307.79 638.14,306.99 637.57,306.20 637.00,305.41 636.42,304.62 635.84,303.83" fill="url(#r30)"/><polygon points="654.43,298.88 655.03,299.76 655.64,300.65 656.23,301.54 656.82,302.43 657.41,303.33 657.99,304.23 658.57,305.13 643.39,314.80 642.86,313.97 642.33,313.15 641.79,312.33 641.25,311.52 640.71,310.71 640.16,309.90 639.61,309.09" fill="url(#r31)"/><polygon points="658.35,304.78 658.93,305.69 659.50,306.60 660.06,307.51 660.62,308.42 661.18,309.34 661.73,310.25 662.28,311.18 646.77,320.31 646.27,319.47 645.77,318.63 645.26,317.80 644.75,316.96 644.23,316.13 643.71,315.31 643.19,314.48" fill="url(#r32)"/><polygon points="662.07,310.82 662.61,311.75 663.15,312.67 663.68,313.60 664.21,314.54 664.74,315.47 665.26,316.41 665.77,317.35 649.96,325.94 649.49,325.09 649.01,324.23 648.54,323.38 648.05,322.53 647.57,321.68 647.07,320.83 646.58,319.99" fill="url(#r33)"/><polygon points="665.57,316.99 666.09,317.93 666.59,318.87 667.09,319.82 667.59,320.77 668.08,321.72 668.57,322.68 669.05,323.64 652.95,331.68 652.51,330.81 652.06,329.94 651.62,329.07 651.16,328.20 650.71,327.34 650.24,326.48 649.78,325.62" fill="url(#r34)"/><polygon points="668.87,323.27 669.34,324.23 669.82,325.19 670.29,326.16 670.75,327.12 671.21,328.09 671.66,329.06 672.11,330.04 655.74,337.52 655.33,336.63 654.92,335.74 654.50,334.86 654.08,333.98 653.65,333.10 653.22,332.22 652.78,331.35" fill="url(#r35)"/><polygon points="671.94,329.66 672.38,330.64 672.82,331.61 673.26,332.59 673.69,333.58 674.11,334.56 674.53,335.55 674.95,336.54 658.33,343.45 657.95,342.55 657.57,341.65 657.18,340.75 656.79,339.85 656.39,338.96 655.99,338.07 655.58,337.18" fill="url(#r36)"/><polygon points="674.79,336.16 675.20,337.15 675.60,338.14 676.01,339.13 676.40,340.13 676.79,341.13 677.18,342.13 677.56,343.13 660.71,349.47 660.36,348.55 660.01,347.64 659.65,346.73 659.29,345.82 658.93,344.91 658.56,344.01 658.18,343.10" fill="url(#r37)"/><polygon points="677.41,342.75 677.79,343.75 678.16,344.75 678.53,345.76 678.89,346.77 679.24,347.78 679.59,348.80 679.94,349.81 662.88,355.56 662.57,354.63 662.25,353.71 661.92,352.79 661.59,351.87 661.26,350.95 660.92,350.03 660.58,349.11" fill="url(#r38)"/><polygon points="679.81,349.42 680.15,350.44 680.48,351.45 680.82,352.47 681.14,353.50 681.46,354.52 681.78,355.54 682.09,356.57 664.84,361.73 664.56,360.79 664.27,359.85 663.98,358.92 663.68,357.99 663.38,357.06 663.07,356.13 662.76,355.20" fill="url(#r39)"/><polygon points="681.97,356.18 682.27,357.20 682.58,358.23 682.87,359.26 683.16,360.29 683.45,361.33 683.73,362.36 684.00,363.40 666.59,367.96 666.34,367.01 666.08,366.07 665.82,365.12 665.56,364.18 665.29,363.24 665.01,362.30 664.73,361.37" fill="url(#r40)"/><polygon points="683.90,363.00 684.17,364.04 684.43,365.08 684.69,366.12 684.95,367.16 685.20,368.20 685.44,369.24 685.68,370.29 668.12,374.24 667.90,373.29 667.68,372.34 667.45,371.39 667.22,370.44 666.98,369.49 666.74,368.54 666.49,367.59" fill="url(#r41)"/><polygon points="685.59,369.89 685.82,370.93 686.05,371.98 686.28,373.03 686.49,374.08 686.71,375.13 686.91,376.18 687.12,377.23 669.43,380.58 669.25,379.62 669.06,378.66 668.86,377.70 668.66,376.74 668.46,375.79 668.25,374.83 668.03,373.88" fill="url(#r42)"/><polygon points="687.04,376.83 687.24,377.88 687.43,378.94 687.62,379.99 687.80,381.05 687.98,382.11 688.15,383.16 688.31,384.22 670.52,386.96 670.37,385.99 670.22,385.02 670.05,384.06 669.89,383.10 669.72,382.13 669.54,381.17 669.36,380.21" fill="url(#r43)"/><polygon points="688.25,383.82 688.41,384.88 688.57,385.94 688.72,387.00 688.87,388.06 689.01,389.12 689.14,390.19 689.27,391.25 671.39,393.37 671.28,392.40 671.15,391.43 671.03,390.46 670.89,389.49 670.76,388.52 670.61,387.55 670.47,386.59" fill="url(#r44)"/><polygon points="689.22,390.84 689.35,391.91 689.47,392.97 689.58,394.04 689.69,395.10 689.79,396.17 689.89,397.24 689.98,398.31 672.04,399.80 671.96,398.83 671.87,397.86 671.78,396.88 671.68,395.91 671.57,394.94 671.46,393.97 671.35,392.99" fill="url(#r45)"/><polygon points="689.95,397.90 690.04,398.97 690.12,400.03 690.20,401.10 690.27,402.17 690.33,403.24 690.39,404.31 690.45,405.38 672.47,406.26 672.42,405.28 672.36,404.31 672.30,403.33 672.24,402.36 672.17,401.38 672.09,400.41 672.01,399.43" fill="url(#r46)"/><polygon points="690.43,404.97 690.48,406.04 690.53,407.11 690.57,408.19 690.60,409.26 690.63,410.33 690.65,411.40 690.67,412.47 677.77,412.65 676.82,411.67 675.88,410.69 674.93,409.73 674.00,408.77 673.06,407.82 672.50,406.86 672.45,405.89" fill="url(#r47)"/><polygon points="690.67,412.06 690.68,413.13 690.69,414.20 690.69,415.28 690.69,416.35 690.68,417.42 690.67,418.49 690.65,419.56 684.18,419.43 683.20,418.38 682.22,417.34 681.25,416.30 680.28,415.28 679.32,414.27 678.36,413.27 677.41,412.28" fill="url(#r48)"/><polygon points="690.66,419.15 690.64,420.17 690.61,421.18 690.58,422.19 690.54,423.20 690.50,424.22 690.46,425.23 690.41,426.24 690.41,426.24 689.45,425.18 688.50,424.13 687.55,423.09 686.61,422.06 685.67,421.04 684.74,420.03 683.81,419.03" fill="url(#r49)"/><path d="M485.39,415.39L485.39,210.09A205.3,205.3 0 0 1 690.41,426.24Z" fill="none" stroke="#492066" stroke-opacity="0.7" stroke-width="0.9"/></g><g><path d="M491.01,449.89L696.03,460.75A205.3,205.3 0 0 1 631.18,599.89Z" fill="#F8883C" filter="url(#sh)"/><polygon points="491.01,449.89 534.65,470.23 535.91,470.30 537.24,470.37 538.63,470.44 540.10,470.52 541.65,470.60 543.28,470.69 545.01,470.78 546.85,470.87 548.80,470.98 550.87,471.09 553.09,471.20 555.46,471.33 558.00,471.46 560.73,471.61 563.67,471.76 566.86,471.93 570.32,472.12 574.08,472.32 578.20,472.53 582.73,472.77 587.72,473.04 593.27,473.33 599.46,473.66 606.41,474.03 614.29,474.44 623.28,474.92 633.65,475.47 645.73,476.11 660.01,476.86 676.32,477.65 678.21,476.10 680.11,474.52 682.04,472.92 683.98,471.28 685.94,469.61 687.92,467.90 689.91,466.16 691.93,464.39 693.97,462.59 696.03,460.75" fill="url(#g50)"/><polygon points="491.01,449.89 534.65,470.23 535.51,471.15 536.42,472.12 537.37,473.14 538.38,474.21 539.43,475.35 540.55,476.54 541.74,477.81 542.99,479.15 544.32,480.58 545.74,482.10 547.26,483.72 548.88,485.45 550.61,487.31 552.48,489.31 554.49,491.46 556.67,493.79 559.04,496.32 561.61,499.08 564.43,502.09 567.52,505.40 570.94,509.06 574.73,513.12 578.96,517.64 583.72,522.73 589.10,528.50 595.25,535.08 602.34,542.66 610.60,551.50 620.36,561.95 631.46,573.93 631.48,576.37 631.50,578.85 631.51,581.36 631.50,583.90 631.48,586.47 631.45,589.08 631.40,591.73 631.34,594.41 631.27,597.13 631.18,599.89" fill="url(#g51)"/><polygon points="696.03,460.75 695.97,461.82 695.90,462.90 695.83,463.98 695.75,465.06 695.67,466.13 695.58,467.21 695.49,468.29 688.22,467.63 689.32,466.68 690.42,465.72 691.53,464.75 692.65,463.76 693.77,462.77 694.89,461.76 696.03,460.75" fill="url(#r52)"/><polygon points="695.52,467.88 695.43,468.95 695.32,470.03 695.21,471.11 695.10,472.18 694.98,473.25 694.85,474.33 694.72,475.40 681.11,473.69 682.17,472.81 683.23,471.91 684.30,471.00 685.38,470.08 686.46,469.16 687.55,468.22 688.64,467.27" fill="url(#r53)"/><polygon points="694.77,474.99 694.64,476.06 694.50,477.13 694.35,478.20 694.20,479.27 694.04,480.34 693.88,481.41 693.71,482.48 675.94,479.62 676.09,478.65 676.29,477.68 677.32,476.83 678.36,475.98 679.41,475.11 680.46,474.24 681.51,473.36" fill="url(#r54)"/><polygon points="693.77,482.07 693.60,483.14 693.43,484.20 693.24,485.27 693.05,486.33 692.86,487.40 692.66,488.46 692.45,489.52 674.79,486.04 674.98,485.08 675.16,484.11 675.34,483.14 675.51,482.17 675.68,481.20 675.84,480.22 676.00,479.25" fill="url(#r55)"/><polygon points="692.53,489.11 692.32,490.17 692.11,491.23 691.89,492.29 691.66,493.35 691.43,494.40 691.19,495.46 690.95,496.51 673.42,492.42 673.64,491.46 673.86,490.50 674.07,489.54 674.27,488.57 674.48,487.61 674.67,486.64 674.86,485.68" fill="url(#r56)"/><polygon points="691.04,496.11 690.80,497.16 690.55,498.21 690.29,499.26 690.03,500.31 689.76,501.36 689.48,502.40 689.21,503.44 671.83,498.75 672.08,497.80 672.33,496.84 672.58,495.89 672.82,494.93 673.05,493.98 673.28,493.02 673.50,492.06" fill="url(#r57)"/><polygon points="689.31,503.05 689.03,504.09 688.74,505.13 688.45,506.17 688.15,507.21 687.84,508.25 687.54,509.28 687.22,510.31 670.02,505.02 670.30,504.07 670.59,503.13 670.86,502.18 671.14,501.24 671.41,500.29 671.67,499.34 671.93,498.39" fill="url(#r58)"/><polygon points="687.34,509.92 687.02,510.95 686.70,511.98 686.37,513.01 686.03,514.04 685.69,515.07 685.35,516.09 685.00,517.11 667.99,511.22 668.31,510.29 668.62,509.35 668.93,508.42 669.24,507.48 669.54,506.54 669.84,505.60 670.13,504.66" fill="url(#r59)"/><polygon points="685.13,516.72 684.78,517.74 684.42,518.76 684.05,519.78 683.68,520.79 683.31,521.81 682.92,522.82 682.54,523.83 665.75,517.34 666.10,516.42 666.45,515.50 666.79,514.58 667.13,513.65 667.46,512.72 667.79,511.79 668.11,510.86" fill="url(#r60)"/><polygon points="682.69,523.44 682.30,524.45 681.90,525.46 681.50,526.46 681.09,527.46 680.68,528.46 680.27,529.46 679.85,530.45 663.29,523.39 663.67,522.48 664.05,521.57 664.43,520.66 664.80,519.75 665.16,518.83 665.52,517.91 665.88,516.99" fill="url(#r61)"/><polygon points="680.01,530.07 679.58,531.07 679.15,532.06 678.72,533.05 678.28,534.03 677.83,535.02 677.38,536.00 676.93,536.98 660.63,529.34 661.04,528.45 661.45,527.56 661.86,526.66 662.26,525.76 662.66,524.86 663.05,523.95 663.44,523.04" fill="url(#r62)"/><polygon points="677.10,536.61 676.64,537.59 676.18,538.56 675.71,539.53 675.23,540.51 674.75,541.47 674.27,542.44 673.78,543.40 657.76,535.20 658.20,534.33 658.64,533.44 659.08,532.56 659.51,531.68 659.94,530.79 660.37,529.90 660.78,529.01" fill="url(#r63)"/><polygon points="673.97,543.04 673.47,544.00 672.98,544.96 672.47,545.91 671.97,546.87 671.45,547.82 670.94,548.77 670.41,549.71 654.68,540.96 655.16,540.10 655.63,539.23 656.10,538.36 656.56,537.49 657.02,536.62 657.48,535.75 657.93,534.87" fill="url(#r64)"/><polygon points="670.61,549.35 670.09,550.30 669.56,551.24 669.02,552.17 668.48,553.11 667.93,554.04 667.38,554.97 666.83,555.90 651.41,546.60 651.92,545.76 652.42,544.91 652.92,544.06 653.41,543.21 653.90,542.35 654.39,541.49 654.87,540.63" fill="url(#r65)"/><polygon points="667.04,555.55 666.48,556.47 665.92,557.39 665.35,558.31 664.78,559.23 664.20,560.14 663.62,561.05 663.03,561.96 647.95,552.13 648.48,551.31 649.01,550.48 649.54,549.64 650.06,548.81 650.58,547.97 651.10,547.13 651.61,546.28" fill="url(#r66)"/><polygon points="663.25,561.61 662.66,562.52 662.07,563.42 661.47,564.32 660.86,565.21 660.25,566.11 659.64,567.00 659.02,567.88 644.29,557.54 644.86,556.73 645.42,555.92 645.97,555.10 646.52,554.29 647.07,553.47 647.61,552.64 648.15,551.82" fill="url(#r67)"/><polygon points="659.26,567.54 658.64,568.43 658.01,569.31 657.38,570.19 656.74,571.06 656.10,571.93 655.46,572.80 654.81,573.66 640.45,562.81 641.04,562.02 641.63,561.23 642.21,560.44 642.79,559.64 643.37,558.84 643.94,558.04 644.51,557.23" fill="url(#r68)"/><polygon points="655.06,573.33 654.41,574.19 653.75,575.05 653.09,575.91 652.42,576.76 651.75,577.61 651.08,578.45 650.40,579.29 636.43,567.95 637.04,567.18 637.66,566.41 638.27,565.64 638.88,564.86 639.48,564.08 640.08,563.30 640.67,562.51" fill="url(#r69)"/><polygon points="650.66,578.97 649.98,579.81 649.29,580.64 648.60,581.48 647.91,582.30 647.21,583.13 646.50,583.95 645.80,584.76 632.23,572.94 632.87,572.19 633.51,571.45 634.15,570.69 634.78,569.94 635.41,569.18 636.04,568.42 636.66,567.65" fill="url(#r70)"/><polygon points="646.07,584.45 645.36,585.27 644.64,586.08 643.92,586.88 643.20,587.69 642.47,588.49 641.74,589.28 641.01,590.07 631.51,581.19 631.50,579.81 631.50,578.44 631.49,577.08 631.48,575.73 631.46,574.39 631.82,573.40 632.47,572.66" fill="url(#r71)"/><polygon points="641.29,589.77 640.55,590.56 639.81,591.35 639.06,592.13 638.31,592.90 637.55,593.68 636.80,594.45 636.03,595.21 631.42,590.59 631.45,589.14 631.47,587.70 631.48,586.28 631.49,584.86 631.50,583.45 631.51,582.05 631.51,580.67" fill="url(#r72)"/><polygon points="636.32,594.92 635.60,595.64 634.87,596.36 634.14,597.07 633.41,597.78 632.67,598.49 631.93,599.19 631.18,599.89 631.18,599.89 631.23,598.45 631.27,597.03 631.31,595.61 631.35,594.20 631.38,592.80 631.41,591.42 631.43,590.04" fill="url(#r73)"/><path d="M491.01,449.89L696.03,460.75A205.3,205.3 0 0 1 631.18,599.89Z" fill="none" stroke="#955224" stroke-opacity="0.7" stroke-width="0.9"/></g><g><path d="M474.46,465.59L614.63,615.59A205.3,205.3 0 0 1 477.40,670.87Z" fill="#ABABAB" filter="url(#sh)"/><polygon points="474.46,465.59 493.12,511.93 494.02,512.88 494.96,513.89 495.94,514.94 496.98,516.06 498.08,517.23 499.24,518.47 500.47,519.78 501.77,521.18 503.15,522.66 504.62,524.23 506.19,525.91 507.87,527.71 509.68,529.64 511.62,531.71 513.70,533.95 515.97,536.37 518.42,539.00 521.09,541.86 524.02,544.99 527.23,548.43 530.78,552.22 534.72,556.44 539.11,561.14 544.05,566.43 549.65,572.41 556.04,579.25 563.40,587.13 571.99,596.32 582.13,607.17 589.63,614.18 591.99,614.36 594.37,614.54 596.78,614.70 599.23,614.86 601.71,615.01 604.22,615.14 606.77,615.27 609.36,615.39 611.97,615.49 614.63,615.59" fill="url(#g74)"/><polygon points="474.46,465.59 493.12,511.93 493.14,513.24 493.16,514.61 493.18,516.06 493.20,517.58 493.23,519.19 493.25,520.88 493.28,522.68 493.31,524.59 493.33,526.61 493.36,528.77 493.40,531.07 493.43,533.53 493.47,536.17 493.51,539.01 493.56,542.07 493.60,545.38 493.65,548.97 493.71,552.89 493.77,557.17 493.84,561.88 493.91,567.07 494.00,572.84 494.09,579.28 494.19,586.51 494.31,594.71 494.44,604.06 494.60,614.85 494.78,627.42 494.99,642.27 494.44,652.53 492.87,654.29 491.27,656.07 489.64,657.86 487.99,659.67 486.30,661.49 484.59,663.33 482.84,665.19 481.06,667.07 479.24,668.96 477.40,670.87" fill="url(#g75)"/><polygon points="614.63,615.59 613.87,616.30 613.10,617.00 612.33,617.71 611.56,618.40 610.78,619.10 610.00,619.79 609.22,620.47 604.60,615.16 606.00,615.23 607.41,615.30 608.83,615.36 610.26,615.43 611.71,615.48 613.16,615.54 614.63,615.59" fill="url(#r76)"/><polygon points="609.53,620.20 608.74,620.89 607.95,621.56 607.16,622.24 606.36,622.91 605.56,623.58 604.76,624.24 603.95,624.90 595.60,614.62 596.93,614.71 598.28,614.80 599.63,614.88 600.99,614.96 602.37,615.04 603.75,615.12 605.15,615.19" fill="url(#r77)"/><polygon points="604.27,624.64 603.46,625.30 602.65,625.95 601.83,626.60 601.02,627.24 600.19,627.88 599.37,628.52 598.54,629.15 587.66,614.81 588.42,614.23 589.57,614.17 590.87,614.28 592.17,614.38 593.47,614.47 594.79,614.57 596.12,614.66" fill="url(#r78)"/><polygon points="598.87,628.90 598.04,629.53 597.20,630.15 596.37,630.77 595.53,631.39 594.69,632.00 593.84,632.61 592.99,633.21 582.60,618.52 583.37,617.97 584.15,617.41 584.91,616.85 585.68,616.29 586.44,615.73 587.20,615.16 587.96,614.58" fill="url(#r79)"/><polygon points="593.33,632.98 592.48,633.58 591.62,634.17 590.77,634.77 589.91,635.35 589.04,635.94 588.18,636.52 587.31,637.09 577.41,622.05 578.21,621.53 579.00,621.00 579.78,620.47 580.57,619.93 581.35,619.39 582.13,618.85 582.90,618.30" fill="url(#r80)"/><polygon points="587.65,636.87 586.78,637.44 585.91,638.01 585.03,638.57 584.15,639.13 583.27,639.68 582.39,640.23 581.50,640.78 572.11,625.42 572.92,624.92 573.73,624.42 574.54,623.91 575.34,623.40 576.14,622.89 576.93,622.37 577.73,621.85" fill="url(#r81)"/><polygon points="581.85,640.56 580.96,641.10 580.07,641.64 579.17,642.18 578.28,642.70 577.38,643.23 576.48,643.75 575.57,644.26 566.71,628.60 567.53,628.13 568.35,627.65 569.18,627.18 569.99,626.69 570.81,626.21 571.62,625.72 572.43,625.22" fill="url(#r82)"/><polygon points="575.93,644.06 575.02,644.57 574.11,645.08 573.20,645.59 572.29,646.08 571.37,646.58 570.45,647.07 569.53,647.55 561.19,631.60 562.03,631.16 562.87,630.71 563.71,630.26 564.54,629.80 565.37,629.34 566.20,628.88 567.03,628.41" fill="url(#r83)"/><polygon points="569.89,647.36 568.97,647.84 568.04,648.32 567.11,648.79 566.18,649.26 565.25,649.72 564.31,650.18 563.38,650.63 555.58,634.41 556.44,634.00 557.29,633.58 558.14,633.16 558.99,632.73 559.84,632.30 560.68,631.86 561.52,631.42" fill="url(#r84)"/><polygon points="563.75,650.46 562.81,650.91 561.87,651.35 560.92,651.79 559.98,652.23 559.03,652.66 558.08,653.09 557.13,653.51 549.88,637.03 550.75,636.65 551.62,636.26 552.48,635.87 553.34,635.47 554.20,635.07 555.06,634.66 555.92,634.25" fill="url(#r85)"/><polygon points="557.50,653.34 556.55,653.76 555.59,654.18 554.64,654.59 553.68,654.99 552.71,655.39 551.75,655.78 550.79,656.17 544.09,639.46 544.97,639.11 545.85,638.75 546.73,638.38 547.61,638.02 548.48,637.64 549.35,637.26 550.22,636.88" fill="url(#r86)"/><polygon points="551.17,656.02 550.20,656.41 549.23,656.79 548.26,657.17 547.29,657.54 546.31,657.91 545.34,658.27 544.36,658.62 538.23,641.70 539.12,641.37 540.01,641.04 540.90,640.71 541.79,640.37 542.67,640.03 543.56,639.68 544.44,639.32" fill="url(#r87)"/><polygon points="544.74,658.48 543.76,658.84 542.78,659.19 541.80,659.53 540.81,659.87 539.83,660.20 538.84,660.53 537.85,660.86 532.29,643.74 533.20,643.44 534.10,643.14 535.00,642.84 535.90,642.53 536.79,642.21 537.69,641.89 538.58,641.57" fill="url(#r88)"/><polygon points="538.24,660.73 537.25,661.05 536.26,661.37 535.26,661.68 534.27,661.98 533.27,662.29 532.27,662.58 531.27,662.87 526.29,645.58 527.20,645.31 528.11,645.04 529.02,644.77 529.93,644.49 530.84,644.20 531.74,643.91 532.65,643.62" fill="url(#r89)"/><polygon points="531.67,662.76 530.67,663.05 529.66,663.33 528.66,663.61 527.65,663.88 526.65,664.15 525.64,664.41 524.63,664.66 520.23,647.21 521.15,646.98 522.07,646.74 522.99,646.49 523.91,646.24 524.82,645.99 525.74,645.73 526.65,645.47" fill="url(#r90)"/><polygon points="525.03,664.56 524.02,664.82 523.01,665.07 521.99,665.31 520.98,665.55 519.97,665.78 518.95,666.01 517.93,666.23 514.12,648.64 515.05,648.44 515.98,648.23 516.90,648.02 517.83,647.80 518.75,647.58 519.67,647.35 520.60,647.12" fill="url(#r91)"/><polygon points="518.33,666.15 517.32,666.37 516.30,666.58 515.28,666.79 514.26,667.00 513.23,667.19 512.21,667.39 511.19,667.58 507.97,649.87 508.90,649.70 509.83,649.52 510.77,649.34 511.70,649.15 512.63,648.96 513.56,648.76 514.49,648.56" fill="url(#r92)"/><polygon points="511.59,667.50 510.57,667.69 509.54,667.87 508.51,668.05 507.49,668.22 506.46,668.38 505.43,668.54 504.40,668.70 501.77,650.89 502.71,650.75 503.65,650.60 504.59,650.45 505.53,650.30 506.46,650.14 507.40,649.97 508.33,649.80" fill="url(#r93)"/><polygon points="504.80,668.63 503.77,668.79 502.74,668.93 501.71,669.07 500.68,669.21 499.64,669.34 498.61,669.46 497.58,669.58 495.55,651.70 496.49,651.59 497.44,651.47 498.38,651.36 499.32,651.23 500.26,651.10 501.20,650.97 502.14,650.83" fill="url(#r94)"/><polygon points="497.98,669.54 496.95,669.65 495.91,669.77 494.88,669.87 493.84,669.97 492.80,670.07 491.77,670.16 490.73,670.24 489.74,657.76 490.63,656.77 491.52,655.79 492.40,654.81 493.27,653.83 494.14,652.86 494.99,651.90 495.92,651.66" fill="url(#r95)"/><polygon points="491.14,670.21 490.10,670.29 489.06,670.37 488.02,670.44 486.98,670.51 485.94,670.57 484.90,670.62 483.86,670.67 483.58,664.41 484.53,663.39 485.48,662.37 486.42,661.36 487.35,660.36 488.28,659.36 489.19,658.36 490.09,657.37" fill="url(#r96)"/><polygon points="484.27,670.66 483.29,670.70 482.31,670.74 481.33,670.77 480.34,670.81 479.36,670.83 478.38,670.85 477.40,670.87 477.40,670.87 478.36,669.87 479.32,668.88 480.26,667.90 481.20,666.92 482.13,665.94 483.04,664.97 483.95,664.01" fill="url(#r97)"/><path d="M474.46,465.59L614.63,615.59A205.3,205.3 0 0 1 477.40,670.87Z" fill="none" stroke="#676767" stroke-opacity="0.7" stroke-width="0.9"/></g><g><path d="M455.26,466.90L458.20,672.18A205.3,205.3 0 0 1 355.42,646.28Z" fill="#63A6E2" filter="url(#sh)"/><polygon points="455.26,466.90 438.23,534.51 438.25,536.32 438.28,538.22 438.31,540.22 438.34,542.33 438.37,544.56 438.40,546.92 438.44,549.41 438.48,552.06 438.52,554.88 438.56,557.89 438.61,561.10 438.66,564.53 438.71,568.22 438.76,572.18 438.83,576.47 438.89,581.10 438.96,586.14 439.04,591.62 439.13,597.63 439.22,604.24 439.33,611.53 439.44,619.63 439.57,628.68 439.72,638.86 439.88,650.39 440.77,654.47 441.92,655.69 443.08,656.91 444.25,658.14 445.44,659.38 446.65,660.62 447.87,661.87 449.10,663.13 450.35,664.40 451.62,665.68 452.90,666.96 454.20,668.25 455.51,669.55 456.85,670.86 458.20,672.18" fill="url(#g98)"/><polygon points="455.26,466.90 438.23,534.51 437.35,536.09 436.42,537.75 435.45,539.50 434.42,541.35 433.34,543.29 432.19,545.35 430.98,547.53 429.69,549.85 428.32,552.31 426.86,554.94 425.30,557.74 423.63,560.74 421.83,563.97 419.90,567.43 417.82,571.17 415.57,575.22 413.12,579.62 410.45,584.42 407.53,589.67 404.31,595.44 400.77,601.82 396.83,608.90 392.42,616.80 387.47,625.70 381.87,635.77 379.15,638.95 377.56,639.47 375.96,640.00 374.35,640.53 372.71,641.05 371.06,641.58 369.40,642.11 367.71,642.63 366.01,643.15 364.29,643.68 362.55,644.20 360.80,644.72 359.02,645.24 357.23,645.76 355.42,646.28" fill="url(#g99)"/><polygon points="458.20,672.18 457.12,672.19 456.04,672.20 454.96,672.20 453.88,672.19 452.80,672.18 451.72,672.17 450.64,672.15 450.80,664.86 451.83,665.89 452.86,666.92 453.91,667.96 454.96,669.01 456.03,670.06 457.11,671.12 458.20,672.18" fill="url(#r100)"/><polygon points="451.05,672.16 449.97,672.13 448.89,672.10 447.81,672.06 446.73,672.02 445.66,671.97 444.58,671.92 443.50,671.86 444.28,658.17 445.24,659.17 446.21,660.17 447.19,661.18 448.17,662.19 449.17,663.20 450.18,664.23 451.19,665.25" fill="url(#r101)"/><polygon points="443.91,671.88 442.83,671.82 441.75,671.75 440.68,671.68 439.60,671.60 438.52,671.52 437.45,671.42 436.37,671.33 438.03,653.40 439.01,653.49 439.99,653.63 440.90,654.61 441.82,655.59 442.76,656.57 443.70,657.56 444.65,658.55" fill="url(#r102)"/><polygon points="436.78,671.37 435.71,671.27 434.63,671.16 433.56,671.05 432.48,670.93 431.41,670.81 430.34,670.68 429.27,670.55 431.55,652.69 432.52,652.81 433.50,652.93 434.48,653.04 435.46,653.15 436.44,653.25 437.42,653.35 438.40,653.44" fill="url(#r103)"/><polygon points="429.68,670.60 428.60,670.46 427.53,670.32 426.47,670.17 425.40,670.02 424.33,669.86 423.26,669.69 422.20,669.52 425.09,651.75 426.07,651.91 427.04,652.06 428.02,652.21 428.99,652.35 429.97,652.48 430.94,652.61 431.92,652.74" fill="url(#r104)"/><polygon points="422.60,669.58 421.54,669.41 420.47,669.23 419.41,669.04 418.35,668.85 417.28,668.66 416.22,668.45 415.16,668.25 418.68,650.59 419.65,650.78 420.61,650.97 421.58,651.15 422.55,651.32 423.52,651.49 424.49,651.65 425.46,651.81" fill="url(#r105)"/><polygon points="415.57,668.32 414.51,668.11 413.45,667.90 412.39,667.67 411.34,667.45 410.28,667.21 409.23,666.97 408.18,666.73 412.31,649.21 413.27,649.43 414.23,649.65 415.19,649.86 416.15,650.07 417.12,650.27 418.08,650.47 419.05,650.66" fill="url(#r106)"/><polygon points="408.58,666.82 407.53,666.57 406.48,666.32 405.43,666.06 404.38,665.80 403.34,665.52 402.30,665.25 401.25,664.97 405.99,647.60 406.94,647.86 407.89,648.11 408.85,648.36 409.80,648.60 410.76,648.83 411.71,649.07 412.67,649.29" fill="url(#r107)"/><polygon points="401.65,665.08 400.61,664.79 399.57,664.50 398.53,664.20 397.49,663.90 396.46,663.60 395.42,663.29 394.39,662.97 399.73,645.78 400.67,646.07 401.61,646.35 402.56,646.63 403.50,646.91 404.45,647.18 405.40,647.44 406.35,647.70" fill="url(#r108)"/><polygon points="394.78,663.09 393.75,662.77 392.72,662.44 391.70,662.11 390.67,661.77 389.65,661.43 388.62,661.08 387.60,660.73 393.54,643.74 394.47,644.06 395.40,644.38 396.33,644.69 397.27,645.00 398.21,645.30 399.15,645.60 400.09,645.89" fill="url(#r109)"/><polygon points="387.99,660.87 386.97,660.51 385.96,660.15 384.94,659.78 383.93,659.41 382.92,659.03 381.91,658.65 380.90,658.26 387.42,641.48 388.34,641.83 389.26,642.18 390.18,642.53 391.11,642.87 392.03,643.20 392.96,643.53 393.89,643.86" fill="url(#r110)"/><polygon points="381.28,658.41 380.28,658.01 379.27,657.62 378.27,657.22 377.27,656.81 376.27,656.40 375.28,655.98 374.28,655.55 381.38,639.01 382.29,639.40 383.20,639.78 384.11,640.16 385.02,640.53 385.93,640.90 386.85,641.26 387.77,641.62" fill="url(#r111)"/><polygon points="374.66,655.72 373.67,655.29 372.68,654.86 371.69,654.42 370.71,653.98 369.72,653.53 368.74,653.08 367.77,652.62 373.30,640.87 374.62,640.44 375.92,640.02 377.21,639.59 378.49,639.17 379.76,638.74 380.82,638.77 381.73,639.16" fill="url(#r112)"/><polygon points="368.14,652.80 367.16,652.33 366.19,651.87 365.22,651.40 364.25,650.92 363.28,650.44 362.32,649.95 361.35,649.46 364.34,643.66 365.72,643.24 367.10,642.82 368.46,642.40 369.81,641.97 371.16,641.55 372.49,641.13 373.80,640.70" fill="url(#r113)"/><polygon points="361.72,649.65 360.81,649.18 359.91,648.71 359.00,648.23 358.10,647.75 357.20,647.27 356.31,646.78 355.42,646.28 355.42,646.28 356.80,645.89 358.17,645.49 359.53,645.10 360.88,644.70 362.22,644.30 363.55,643.90 364.87,643.50" fill="url(#r114)"/><path d="M455.26,466.90L458.20,672.18A205.3,205.3 0 0 1 355.42,646.28Z" fill="none" stroke="#3B6488" stroke-opacity="0.7" stroke-width="0.9"/></g><g><path d="M441.64,459.47L341.79,638.86A205.3,205.3 0 0 1 269.44,571.26Z" fill="#4879CC" filter="url(#sh)"/><polygon points="441.64,459.47 390.68,514.01 389.74,515.70 388.75,517.47 387.71,519.34 386.62,521.32 385.46,523.40 384.23,525.60 382.93,527.94 381.55,530.41 380.09,533.05 378.52,535.86 376.85,538.86 375.06,542.07 373.14,545.52 371.08,549.23 368.85,553.24 366.43,557.58 363.81,562.29 360.95,567.42 357.82,573.05 354.38,579.23 350.58,586.06 346.36,593.64 341.64,602.12 336.34,611.64 335.53,614.83 335.89,616.35 336.25,617.88 336.63,619.41 337.01,620.96 337.41,622.53 337.81,624.10 338.21,625.69 338.63,627.29 339.06,628.90 339.49,630.53 339.93,632.17 340.38,633.82 340.84,635.49 341.31,637.17 341.79,638.86" fill="url(#g115)"/><polygon points="441.64,459.47 390.68,514.01 389.06,515.06 387.36,516.17 385.56,517.33 383.67,518.56 381.67,519.86 379.56,521.23 377.32,522.69 374.94,524.23 372.41,525.87 369.71,527.63 366.83,529.50 363.75,531.50 360.43,533.65 356.87,535.96 353.03,538.46 348.86,541.16 344.34,544.09 339.41,547.30 334.01,550.80 328.08,554.65 321.52,558.91 314.24,563.63 306.11,568.91 296.96,574.85 293.83,575.88 292.30,575.62 290.75,575.36 289.19,575.09 287.62,574.81 286.03,574.53 284.43,574.24 282.82,573.94 281.20,573.63 279.56,573.31 277.91,572.99 276.24,572.66 274.56,572.32 272.87,571.98 271.16,571.62 269.44,571.26" fill="url(#g116)"/><polygon points="341.79,638.86 340.85,638.33 339.91,637.80 338.98,637.26 338.04,636.72 337.11,636.17 336.19,635.62 335.26,635.06 339.04,628.83 339.41,630.24 339.79,631.65 340.18,633.07 340.57,634.50 340.97,635.94 341.38,637.40 341.79,638.86" fill="url(#r117)"/><polygon points="335.61,635.28 334.69,634.72 333.77,634.15 332.85,633.58 331.94,633.01 331.03,632.43 330.12,631.85 329.22,631.26 336.72,619.79 337.06,621.13 337.39,622.48 337.74,623.84 338.09,625.21 338.45,626.58 338.81,627.97 339.18,629.37" fill="url(#r118)"/><polygon points="329.56,631.48 328.66,630.89 327.76,630.29 326.86,629.69 325.97,629.09 325.08,628.48 324.19,627.86 323.31,627.24 333.69,612.53 334.49,613.10 335.26,613.71 335.57,615.01 335.88,616.32 336.20,617.64 336.52,618.96 336.85,620.30" fill="url(#r119)"/><polygon points="323.65,627.48 322.77,626.86 321.89,626.23 321.01,625.60 320.14,624.96 319.27,624.32 318.41,623.67 317.55,623.02 328.43,608.68 329.21,609.28 330.00,609.87 330.79,610.45 331.59,611.03 332.39,611.61 333.19,612.18 333.99,612.75" fill="url(#r120)"/><polygon points="317.87,623.27 317.01,622.62 316.16,621.96 315.31,621.30 314.46,620.63 313.61,619.96 312.77,619.29 311.93,618.61 323.30,604.66 324.07,605.28 324.84,605.89 325.61,606.50 326.38,607.11 327.16,607.72 327.94,608.32 328.72,608.91" fill="url(#r121)"/><polygon points="312.25,618.87 311.41,618.19 310.58,617.50 309.75,616.81 308.93,616.11 308.11,615.41 307.29,614.71 306.47,614.00 318.32,600.45 319.07,601.10 319.81,601.74 320.56,602.38 321.32,603.01 322.07,603.64 322.83,604.27 323.59,604.89" fill="url(#r122)"/><polygon points="306.78,614.27 305.97,613.56 305.16,612.84 304.36,612.12 303.56,611.40 302.76,610.67 301.97,609.94 301.18,609.20 313.50,596.08 314.22,596.75 314.94,597.42 315.67,598.08 316.40,598.74 317.13,599.40 317.87,600.05 318.61,600.70" fill="url(#r123)"/><polygon points="301.48,609.49 300.69,608.75 299.91,608.00 299.13,607.26 298.36,606.51 297.59,605.75 296.82,604.99 296.06,604.23 308.82,591.54 309.52,592.23 310.22,592.93 310.92,593.61 311.63,594.30 312.34,594.98 313.05,595.66 313.77,596.33" fill="url(#r124)"/><polygon points="296.35,604.52 295.59,603.75 294.83,602.98 294.08,602.21 293.33,601.43 292.59,600.65 291.85,599.87 291.11,599.08 304.31,586.84 304.98,587.56 305.65,588.27 306.33,588.99 307.02,589.69 307.70,590.40 308.39,591.10 309.09,591.80" fill="url(#r125)"/><polygon points="291.39,599.38 290.66,598.58 289.93,597.79 289.20,596.99 288.48,596.19 287.76,595.38 287.05,594.57 286.34,593.75 299.96,581.98 300.61,582.72 301.26,583.46 301.91,584.20 302.57,584.93 303.23,585.66 303.89,586.39 304.56,587.11" fill="url(#r126)"/><polygon points="286.61,594.07 285.91,593.25 285.21,592.43 284.51,591.60 283.82,590.78 283.13,589.94 282.45,589.11 281.77,588.27 295.78,576.98 296.40,577.74 297.03,578.51 297.65,579.26 298.29,580.02 298.92,580.77 299.56,581.52 300.20,582.26" fill="url(#r127)"/><polygon points="282.02,588.59 281.35,587.75 280.68,586.91 280.01,586.06 279.35,585.21 278.69,584.35 278.03,583.49 277.38,582.63 287.77,574.84 289.13,575.08 290.48,575.31 291.82,575.54 293.15,575.77 294.47,575.98 295.40,576.50 296.02,577.27" fill="url(#r128)"/><polygon points="277.63,582.96 276.98,582.10 276.34,581.23 275.70,580.36 275.07,579.48 274.44,578.61 273.82,577.73 273.20,576.84 278.55,573.12 279.97,573.39 281.38,573.66 282.78,573.93 284.17,574.19 285.56,574.44 286.93,574.69 288.29,574.93" fill="url(#r129)"/><polygon points="273.43,577.18 272.85,576.34 272.27,575.50 271.70,574.66 271.13,573.81 270.56,572.96 270.00,572.11 269.44,571.26 269.44,571.26 270.85,571.55 272.24,571.85 273.63,572.13 275.01,572.41 276.38,572.69 277.74,572.96 279.09,573.22" fill="url(#r130)"/><path d="M441.64,459.47L341.79,638.86A205.3,205.3 0 0 1 269.44,571.26Z" fill="none" stroke="#2B497A" stroke-opacity="0.7" stroke-width="0.9"/></g><g><path d="M433.77,447.70L261.57,559.49A205.3,205.3 0 0 1 230.57,477.02Z" fill="#78B650" filter="url(#sh)"/><polygon points="433.77,447.70 355.24,477.22 353.42,478.40 351.51,479.64 349.50,480.95 347.37,482.33 345.13,483.78 342.75,485.32 340.24,486.96 337.57,488.69 334.72,490.54 331.69,492.50 328.46,494.60 324.99,496.86 321.27,499.27 317.26,501.87 312.94,504.68 308.26,507.72 303.17,511.02 297.62,514.62 291.55,518.56 284.88,522.90 277.50,527.68 269.31,533.00 267.31,535.18 266.96,536.52 266.62,537.87 266.27,539.22 265.93,540.59 265.59,541.98 265.24,543.37 264.90,544.77 264.56,546.19 264.23,547.62 263.89,549.06 263.55,550.51 263.22,551.97 262.89,553.45 262.55,554.94 262.22,556.44 261.90,557.96 261.57,559.49" fill="url(#g131)"/><polygon points="433.77,447.70 355.24,477.22 353.10,477.53 350.84,477.85 348.46,478.20 345.96,478.56 343.31,478.94 340.51,479.34 337.54,479.77 334.38,480.23 331.03,480.71 327.45,481.23 323.63,481.78 319.54,482.37 315.15,483.00 310.43,483.68 305.32,484.42 299.80,485.22 293.80,486.08 287.25,487.03 280.09,488.06 272.21,489.20 263.50,490.45 253.84,491.85 250.90,491.52 249.76,490.74 248.61,489.96 247.46,489.16 246.30,488.36 245.13,487.55 243.95,486.72 242.77,485.89 241.58,485.05 240.39,484.20 239.19,483.34 237.98,482.47 236.76,481.58 235.54,480.69 234.31,479.79 233.07,478.88 231.82,477.95 230.57,477.02" fill="url(#g132)"/><polygon points="261.57,559.49 261.01,558.62 260.45,557.75 259.90,556.87 259.35,555.99 258.81,555.11 258.27,554.23 257.73,553.34 263.73,549.75 263.42,551.10 263.11,552.47 262.80,553.85 262.49,555.25 262.18,556.65 261.87,558.06 261.57,559.49" fill="url(#r133)"/><polygon points="257.95,553.70 257.41,552.81 256.89,551.92 256.36,551.03 255.84,550.13 255.33,549.23 254.82,548.33 254.32,547.43 265.82,541.04 265.50,542.33 265.18,543.63 264.86,544.94 264.55,546.26 264.23,547.59 263.92,548.93 263.61,550.28" fill="url(#r134)"/><polygon points="254.52,547.79 254.01,546.89 253.52,545.98 253.02,545.07 252.54,544.16 252.05,543.24 251.57,542.33 251.10,541.41 267.11,533.19 267.55,534.03 267.30,535.23 266.98,536.47 266.65,537.73 266.33,538.99 266.01,540.27 265.69,541.55" fill="url(#r135)"/><polygon points="251.29,541.77 250.82,540.85 250.35,539.93 249.89,539.00 249.43,538.08 248.98,537.15 248.53,536.21 248.08,535.28 264.36,527.60 264.77,528.45 265.18,529.30 265.59,530.15 266.01,531.00 266.43,531.84 266.86,532.68 267.29,533.52" fill="url(#r136)"/><polygon points="248.26,535.65 247.82,534.71 247.38,533.78 246.95,532.84 246.52,531.89 246.10,530.95 245.69,530.00 245.27,529.05 261.80,521.92 262.18,522.79 262.56,523.65 262.94,524.51 263.33,525.37 263.72,526.23 264.12,527.09 264.52,527.94" fill="url(#r137)"/><polygon points="245.44,529.43 245.03,528.48 244.62,527.53 244.22,526.58 243.83,525.62 243.44,524.66 243.05,523.70 242.67,522.74 259.43,516.16 259.77,517.04 260.12,517.91 260.48,518.79 260.84,519.66 261.21,520.53 261.57,521.40 261.95,522.27" fill="url(#r138)"/><polygon points="242.82,523.12 242.44,522.16 242.07,521.19 241.70,520.23 241.34,519.26 240.98,518.29 240.63,517.32 240.28,516.34 257.25,510.32 257.56,511.21 257.89,512.10 258.21,512.98 258.54,513.87 258.88,514.75 259.22,515.63 259.56,516.51" fill="url(#r139)"/><polygon points="240.42,516.73 240.07,515.75 239.73,514.78 239.40,513.80 239.07,512.82 238.74,511.84 238.42,510.85 238.10,509.87 255.26,504.42 255.55,505.32 255.84,506.21 256.14,507.11 256.44,508.00 256.75,508.90 257.06,509.79 257.37,510.68" fill="url(#r140)"/><polygon points="238.23,510.26 237.92,509.27 237.61,508.29 237.31,507.30 237.01,506.31 236.72,505.31 236.43,504.32 236.15,503.33 253.47,498.45 253.73,499.36 253.99,500.26 254.26,501.17 254.53,502.07 254.81,502.97 255.09,503.87 255.37,504.77" fill="url(#r141)"/><polygon points="236.26,503.72 235.98,502.72 235.70,501.73 235.43,500.73 235.17,499.73 234.91,498.73 234.65,497.72 234.40,496.72 251.88,492.42 252.11,493.34 252.34,494.25 252.58,495.17 252.82,496.08 253.07,496.99 253.32,497.90 253.57,498.81" fill="url(#r142)"/><polygon points="234.50,497.12 234.26,496.11 234.02,495.11 233.78,494.10 233.55,493.09 233.32,492.08 233.10,491.07 232.88,490.06 245.05,487.50 246.14,488.25 247.23,489.01 248.30,489.75 249.38,490.48 250.44,491.21 251.50,491.93 251.97,492.79" fill="url(#r143)"/><polygon points="232.97,490.46 232.76,489.45 232.55,488.44 232.35,487.42 232.15,486.41 231.96,485.39 231.77,484.38 231.59,483.36 237.72,482.28 238.84,483.09 239.97,483.90 241.08,484.69 242.19,485.48 243.30,486.26 244.40,487.03 245.49,487.80" fill="url(#r144)"/><polygon points="231.66,483.76 231.49,482.80 231.32,481.84 231.16,480.88 231.01,479.91 230.86,478.95 230.71,477.98 230.57,477.02 230.57,477.02 231.67,477.84 232.77,478.65 233.86,479.46 234.94,480.26 236.02,481.05 237.10,481.83 238.16,482.60" fill="url(#r145)"/><path d="M433.77,447.70L261.57,559.49A205.3,205.3 0 0 1 230.57,477.02Z" fill="none" stroke="#486D30" stroke-opacity="0.7" stroke-width="0.9"/></g><g><path d="M431.79,437.46L228.59,466.78A205.3,205.3 0 0 1 227.49,417.25Z" fill="#28649A" filter="url(#sh)"/><polygon points="431.79,437.46 282.64,440.80 278.85,441.34 274.85,441.92 270.64,442.53 266.20,443.17 261.51,443.85 256.54,444.56 251.27,445.32 245.67,446.13 244.29,446.76 243.80,447.36 243.31,447.95 242.82,448.56 242.33,449.16 241.84,449.77 241.34,450.38 240.85,450.99 240.35,451.61 239.85,452.23 239.35,452.85 238.85,453.48 238.35,454.11 237.85,454.74 237.34,455.38 236.84,456.02 236.33,456.67 235.83,457.32 235.32,457.97 234.81,458.62 234.30,459.28 233.78,459.94 233.27,460.61 232.76,461.28 232.24,461.96 231.72,462.63 231.20,463.32 230.68,464.00 230.16,464.69 229.64,465.38 229.12,466.08 228.59,466.78" fill="url(#g146)"/><polygon points="431.79,437.46 282.64,440.80 278.83,440.42 274.81,440.02 270.58,439.60 266.11,439.16 261.39,438.69 256.40,438.20 251.10,437.68 245.47,437.12 244.06,436.55 243.55,435.98 243.03,435.40 242.51,434.82 242.00,434.24 241.48,433.66 240.95,433.07 240.43,432.48 239.91,431.89 239.38,431.29 238.86,430.69 238.33,430.08 237.80,429.48 237.27,428.86 236.74,428.25 236.21,427.63 235.67,427.01 235.14,426.39 234.60,425.76 234.06,425.12 233.52,424.49 232.98,423.85 232.44,423.21 231.89,422.56 231.35,421.91 230.80,421.26 230.25,420.60 229.70,419.94 229.15,419.27 228.60,418.60 228.04,417.93 227.49,417.25" fill="url(#g147)"/><polygon points="228.59,466.78 228.44,465.72 228.30,464.66 228.16,463.59 228.02,462.53 227.90,461.47 227.77,460.40 227.66,459.33 234.85,458.56 233.97,459.70 233.08,460.86 232.19,462.02 231.30,463.19 230.40,464.38 229.50,465.57 228.59,466.78" fill="url(#r148)"/><polygon points="227.70,459.74 227.59,458.68 227.48,457.61 227.38,456.54 227.28,455.48 227.19,454.41 227.10,453.34 227.02,452.27 240.61,451.29 239.75,452.36 238.88,453.44 238.02,454.53 237.15,455.63 236.27,456.74 235.40,457.87 234.52,459.00" fill="url(#r149)"/><polygon points="227.05,452.68 226.98,451.61 226.90,450.54 226.84,449.47 226.78,448.40 226.72,447.33 226.68,446.26 226.63,445.19 244.62,444.51 244.66,445.49 244.53,446.47 243.69,447.50 242.84,448.53 241.99,449.58 241.14,450.63 240.28,451.70" fill="url(#r150)"/><polygon points="226.65,445.60 226.61,444.52 226.58,443.45 226.55,442.38 226.52,441.31 226.51,440.24 226.49,439.16 226.49,438.09 244.49,438.04 244.49,439.02 244.50,439.99 244.52,440.97 244.54,441.95 244.57,442.93 244.60,443.91 244.63,444.88" fill="url(#r151)"/><polygon points="226.49,438.50 226.49,437.43 226.49,436.36 226.50,435.29 226.51,434.21 226.53,433.14 226.56,432.07 226.59,431.00 239.49,431.41 240.39,432.43 241.29,433.45 242.19,434.46 243.08,435.46 243.97,436.45 244.49,437.43 244.49,438.41" fill="url(#r152)"/><polygon points="226.58,431.41 226.61,430.34 226.65,429.27 226.70,428.20 226.75,427.12 226.81,426.05 226.87,424.98 226.94,423.91 233.39,424.34 234.33,425.44 235.25,426.52 236.18,427.60 237.10,428.67 238.01,429.72 238.93,430.77 239.83,431.80" fill="url(#r153)"/><polygon points="226.91,424.32 226.98,423.31 227.05,422.30 227.13,421.29 227.21,420.28 227.30,419.27 227.39,418.26 227.49,417.25 227.49,417.25 228.39,418.36 229.29,419.45 230.19,420.53 231.09,421.60 231.98,422.67 232.87,423.72 233.75,424.76" fill="url(#r154)"/><path d="M431.79,437.46L228.59,466.78A205.3,205.3 0 0 1 227.49,417.25Z" fill="none" stroke="#183C5C" stroke-opacity="0.7" stroke-width="0.9"/></g><g><path d="M432.44,430.38L228.14,410.17A205.3,205.3 0 0 1 237.28,366.67Z" fill="#B5591C" filter="url(#sh)"/><polygon points="432.44,430.38 269.73,396.20 265.48,395.78 261.01,395.33 256.29,394.87 251.32,394.37 248.42,394.32 247.86,394.73 247.31,395.14 246.76,395.56 246.20,395.98 245.64,396.40 245.08,396.82 244.52,397.24 243.96,397.67 243.39,398.10 242.83,398.53 242.26,398.97 241.69,399.41 241.12,399.85 240.55,400.29 239.97,400.73 239.40,401.18 238.82,401.63 238.24,402.08 237.66,402.53 237.08,402.99 236.49,403.45 235.91,403.91 235.32,404.38 234.73,404.85 234.14,405.32 233.55,405.79 232.96,406.27 232.36,406.74 231.76,407.23 231.16,407.71 230.56,408.20 229.96,408.68 229.36,409.18 228.75,409.67 228.14,410.17" fill="url(#g155)"/><polygon points="432.44,430.38 269.73,396.20 265.67,394.87 261.40,393.48 256.89,392.01 252.14,390.45 249.46,389.34 249.12,388.74 248.78,388.14 248.44,387.54 248.10,386.93 247.76,386.32 247.41,385.71 247.07,385.09 246.73,384.47 246.38,383.85 246.04,383.23 245.70,382.60 245.35,381.97 245.00,381.34 244.66,380.71 244.31,380.07 243.97,379.43 243.62,378.78 243.27,378.14 242.92,377.49 242.57,376.83 242.22,376.18 241.87,375.52 241.52,374.86 241.17,374.19 240.82,373.52 240.47,372.85 240.12,372.18 239.76,371.50 239.41,370.82 239.06,370.14 238.70,369.45 238.35,368.76 237.99,368.07 237.64,367.37 237.28,366.67" fill="url(#g156)"/><polygon points="228.14,410.17 228.24,409.21 228.34,408.24 228.45,407.28 228.56,406.32 228.67,405.36 228.79,404.40 228.92,403.44 235.42,404.30 234.39,405.12 233.37,405.94 232.33,406.77 231.29,407.61 230.25,408.45 229.20,409.31 228.14,410.17" fill="url(#r157)"/><polygon points="228.87,403.85 228.99,402.89 229.12,401.93 229.26,400.97 229.40,400.02 229.55,399.06 229.70,398.10 229.85,397.15 242.03,399.15 241.04,399.91 240.04,400.68 239.04,401.46 238.03,402.24 237.02,403.04 236.01,403.84 234.98,404.65" fill="url(#r158)"/><polygon points="229.79,397.55 229.94,396.60 230.10,395.64 230.27,394.69 230.44,393.74 230.62,392.79 230.79,391.84 230.98,390.89 248.43,394.31 247.47,395.02 246.50,395.75 245.53,396.48 244.56,397.21 243.58,397.96 242.60,398.71 241.61,399.47" fill="url(#r159)"/><polygon points="230.90,391.29 231.09,390.34 231.28,389.39 231.47,388.44 231.67,387.50 231.88,386.55 232.09,385.61 232.30,384.66 248.97,388.47 249.56,389.51 249.46,390.39 249.28,391.26 249.09,392.12 248.92,392.99 248.74,393.85 248.02,394.61" fill="url(#r160)"/><polygon points="232.21,385.06 232.42,384.12 232.64,383.18 232.87,382.24 233.10,381.30 233.33,380.36 233.57,379.42 233.81,378.48 245.05,381.42 245.65,382.51 246.25,383.60 246.84,384.68 247.44,385.75 248.03,386.81 248.63,387.87 249.22,388.91" fill="url(#r161)"/><polygon points="233.71,378.88 233.95,377.94 234.20,377.01 234.46,376.07 234.71,375.14 234.98,374.21 235.24,373.28 235.52,372.35 241.06,373.99 241.67,375.14 242.28,376.29 242.89,377.43 243.49,378.55 244.10,379.67 244.70,380.78 245.30,381.88" fill="url(#r162)"/><polygon points="235.40,372.75 235.66,371.87 235.92,371.00 236.18,370.13 236.45,369.27 236.72,368.40 237.00,367.53 237.28,366.67 237.28,366.67 237.86,367.81 238.44,368.94 239.02,370.07 239.60,371.18 240.17,372.29 240.75,373.39 241.32,374.48" fill="url(#r163)"/><path d="M432.44,430.38L228.14,410.17A205.3,205.3 0 0 1 237.28,366.67Z" fill="none" stroke="#6D3511" stroke-opacity="0.7" stroke-width="0.9"/></g><g><path d="M434.32,424.47L239.16,360.75A205.3,205.3 0 0 1 254.02,326.29Z" fill="#6C6C6C" filter="url(#sh)"/><polygon points="434.32,424.47 261.59,349.99 261.06,350.23 260.52,350.47 259.99,350.71 259.45,350.96 258.91,351.20 258.38,351.45 257.84,351.70 257.29,351.95 256.75,352.20 256.21,352.46 255.66,352.71 255.11,352.97 254.56,353.22 254.01,353.48 253.46,353.74 252.91,354.00 252.35,354.27 251.80,354.53 251.24,354.80 250.68,355.07 250.12,355.34 249.55,355.61 248.99,355.88 248.42,356.15 247.86,356.43 247.29,356.71 246.72,356.98 246.15,357.26 245.57,357.55 245.00,357.83 244.42,358.11 243.84,358.40 243.26,358.69 242.68,358.98 242.10,359.27 241.51,359.56 240.93,359.86 240.34,360.16 239.75,360.45 239.16,360.75" fill="url(#g164)"/><polygon points="434.32,424.47 261.59,349.99 261.40,349.44 261.21,348.88 261.02,348.33 260.83,347.77 260.64,347.21 260.45,346.65 260.26,346.08 260.07,345.52 259.88,344.95 259.69,344.38 259.50,343.81 259.31,343.24 259.12,342.66 258.93,342.08 258.74,341.50 258.55,340.92 258.36,340.34 258.17,339.75 257.98,339.16 257.79,338.57 257.60,337.98 257.41,337.38 257.22,336.78 257.03,336.19 256.85,335.58 256.66,334.98 256.47,334.37 256.28,333.77 256.09,333.15 255.90,332.54 255.71,331.93 255.52,331.31 255.34,330.69 255.15,330.07 254.96,329.44 254.77,328.82 254.58,328.19 254.39,327.56 254.21,326.92 254.02,326.29" fill="url(#g165)"/><polygon points="239.16,360.75 239.45,359.85 239.76,358.94 240.06,358.04 240.37,357.14 240.69,356.24 241.01,355.34 241.33,354.44 247.41,356.65 246.25,357.21 245.08,357.79 243.91,358.37 242.73,358.95 241.55,359.55 240.36,360.15 239.16,360.75" fill="url(#r166)"/><polygon points="241.19,354.83 241.52,353.93 241.85,353.04 242.18,352.15 242.52,351.25 242.86,350.36 243.21,349.47 243.56,348.59 254.86,353.08 253.74,353.61 252.62,354.14 251.49,354.68 250.35,355.22 249.21,355.77 248.06,356.33 246.91,356.89" fill="url(#r167)"/><polygon points="243.41,348.97 243.76,348.08 244.11,347.20 244.48,346.32 244.84,345.44 245.21,344.56 245.58,343.68 245.96,342.80 261.42,349.51 260.97,350.27 259.89,350.76 258.80,351.26 257.70,351.76 256.60,352.27 255.49,352.79 254.38,353.31" fill="url(#r168)"/><polygon points="245.80,343.18 246.18,342.31 246.56,341.43 246.95,340.56 247.34,339.69 247.74,338.82 248.14,337.96 248.54,337.09 258.89,341.96 259.27,343.13 259.66,344.30 260.04,345.45 260.43,346.60 260.82,347.74 261.20,348.87 261.59,349.99" fill="url(#r169)"/><polygon points="248.37,337.47 248.77,336.60 249.18,335.74 249.60,334.88 250.01,334.03 250.44,333.17 250.86,332.32 251.29,331.47 256.37,334.05 256.75,335.28 257.13,336.50 257.52,337.71 257.90,338.91 258.29,340.11 258.67,341.29 259.05,342.47" fill="url(#r170)"/><polygon points="251.11,331.83 251.51,331.04 251.92,330.24 252.33,329.45 252.75,328.65 253.17,327.86 253.59,327.07 254.02,326.29 254.02,326.29 254.38,327.50 254.73,328.70 255.09,329.89 255.45,331.07 255.81,332.25 256.17,333.42 256.53,334.58" fill="url(#r171)"/><path d="M434.32,424.47L239.16,360.75A205.3,205.3 0 0 1 254.02,326.29Z" fill="none" stroke="#414141" stroke-opacity="0.7" stroke-width="0.9"/></g><g><path d="M437.04,419.47L256.74,321.29A205.3,205.3 0 0 1 277.67,290.05Z" fill="#A67F0C" filter="url(#sh)"/><polygon points="437.04,419.47 280.80,314.78 280.23,314.92 279.66,315.06 279.09,315.20 278.52,315.35 277.94,315.49 277.37,315.64 276.79,315.78 276.21,315.93 275.63,316.08 275.05,316.23 274.46,316.38 273.88,316.53 273.29,316.69 272.70,316.84 272.11,317.00 271.51,317.15 270.92,317.31 270.32,317.47 269.73,317.63 269.13,317.79 268.52,317.96 267.92,318.12 267.31,318.29 266.71,318.45 266.10,318.62 265.49,318.79 264.87,318.96 264.26,319.13 263.64,319.30 263.03,319.48 262.41,319.65 261.78,319.83 261.16,320.01 260.53,320.19 259.91,320.37 259.28,320.55 258.64,320.73 258.01,320.92 257.38,321.11 256.74,321.29" fill="url(#g172)"/><polygon points="437.04,419.47 280.80,314.78 280.71,314.20 280.62,313.62 280.54,313.04 280.45,312.46 280.37,311.87 280.28,311.28 280.20,310.69 280.12,310.10 280.03,309.51 279.95,308.91 279.87,308.31 279.79,307.71 279.70,307.11 279.62,306.51 279.54,305.90 279.46,305.29 279.38,304.68 279.30,304.07 279.22,303.46 279.14,302.84 279.07,302.22 278.99,301.60 278.91,300.98 278.83,300.35 278.76,299.73 278.68,299.10 278.61,298.47 278.53,297.83 278.46,297.20 278.38,296.56 278.31,295.92 278.24,295.28 278.16,294.63 278.09,293.98 278.02,293.33 277.95,292.68 277.88,292.03 277.81,291.37 277.74,290.71 277.67,290.05" fill="url(#g173)"/><polygon points="256.74,321.29 257.20,320.46 257.66,319.62 258.13,318.79 258.60,317.95 259.07,317.13 259.55,316.30 260.03,315.47 265.61,318.75 264.37,319.10 263.12,319.45 261.86,319.81 260.59,320.17 259.31,320.54 258.03,320.91 256.74,321.29" fill="url(#r174)"/><polygon points="259.82,315.83 260.31,315.00 260.80,314.18 261.29,313.36 261.78,312.55 262.28,311.73 262.79,310.92 263.29,310.11 273.61,316.60 272.41,316.92 271.21,317.24 270.00,317.56 268.78,317.89 267.55,318.22 266.32,318.56 265.08,318.90" fill="url(#r175)"/><polygon points="263.07,310.46 263.58,309.65 264.10,308.85 264.61,308.04 265.13,307.24 265.66,306.44 266.18,305.65 266.72,304.85 280.72,314.28 280.14,314.94 278.98,315.23 277.82,315.52 276.65,315.82 275.47,316.12 274.28,316.43 273.09,316.74" fill="url(#r176)"/><polygon points="266.49,305.19 267.02,304.40 267.56,303.61 268.10,302.82 268.64,302.04 269.19,301.26 269.74,300.48 270.30,299.70 279.61,306.38 279.77,307.61 279.94,308.82 280.11,310.03 280.28,311.23 280.45,312.42 280.62,313.61 280.80,314.78" fill="url(#r177)"/><polygon points="270.06,300.03 270.62,299.26 271.18,298.48 271.74,297.71 272.31,296.95 272.88,296.18 273.46,295.42 274.04,294.66 278.57,298.12 278.72,299.41 278.87,300.68 279.03,301.94 279.19,303.20 279.35,304.44 279.51,305.68 279.68,306.91" fill="url(#r178)"/><polygon points="273.79,294.98 274.33,294.27 274.88,293.56 275.43,292.86 275.99,292.15 276.55,291.45 277.11,290.75 277.67,290.05 277.67,290.05 277.80,291.31 277.94,292.56 278.07,293.80 278.21,295.03 278.35,296.25 278.49,297.47 278.63,298.68" fill="url(#r179)"/><path d="M437.04,419.47L256.74,321.29A205.3,205.3 0 0 1 277.67,290.05Z" fill="none" stroke="#644C07" stroke-opacity="0.7" stroke-width="0.9"/></g><g><path d="M440.31,415.38L280.95,285.96A205.3,205.3 0 0 1 302.73,263.01Z" fill="#2A4C86" filter="url(#sh)"/><polygon points="440.31,415.38 302.05,284.18 301.55,284.21 301.05,284.24 300.54,284.28 300.04,284.31 299.53,284.34 299.03,284.38 298.52,284.42 298.01,284.45 297.50,284.49 296.98,284.53 296.47,284.57 295.95,284.61 295.44,284.65 294.92,284.69 294.40,284.73 293.88,284.77 293.36,284.81 292.83,284.85 292.31,284.90 291.78,284.94 291.25,284.99 290.72,285.03 290.19,285.08 289.66,285.12 289.13,285.17 288.59,285.22 288.06,285.27 287.52,285.32 286.98,285.37 286.44,285.42 285.90,285.47 285.35,285.52 284.81,285.57 284.26,285.63 283.71,285.68 283.16,285.74 282.61,285.79 282.06,285.85 281.50,285.90 280.95,285.96" fill="url(#g180)"/><polygon points="440.31,415.38 302.05,284.18 302.06,283.67 302.06,283.17 302.07,282.67 302.08,282.16 302.09,281.65 302.10,281.15 302.10,280.64 302.11,280.13 302.13,279.61 302.14,279.10 302.15,278.58 302.16,278.07 302.17,277.55 302.19,277.03 302.20,276.51 302.21,275.99 302.23,275.46 302.24,274.94 302.26,274.41 302.28,273.88 302.29,273.35 302.31,272.82 302.33,272.29 302.35,271.76 302.37,271.22 302.39,270.68 302.41,270.15 302.43,269.61 302.45,269.06 302.47,268.52 302.50,267.98 302.52,267.43 302.54,266.88 302.57,266.33 302.59,265.78 302.62,265.23 302.64,264.68 302.67,264.12 302.70,263.57 302.73,263.01" fill="url(#g181)"/><polygon points="280.95,285.96 281.55,285.21 282.17,284.47 282.78,283.73 283.40,282.99 284.03,282.26 284.65,281.52 285.28,280.80 290.21,285.08 288.92,285.19 287.61,285.31 286.29,285.43 284.97,285.56 283.64,285.69 282.30,285.82 280.95,285.96" fill="url(#r182)"/><polygon points="285.01,281.11 285.65,280.38 286.28,279.65 286.92,278.93 287.56,278.21 288.21,277.50 288.86,276.79 289.51,276.08 298.54,284.42 297.29,284.51 296.04,284.60 294.78,284.70 293.51,284.80 292.24,284.90 290.95,285.01 289.66,285.12" fill="url(#r183)"/><polygon points="289.23,276.38 289.88,275.67 290.54,274.97 291.20,274.26 291.87,273.57 292.53,272.87 293.20,272.18 293.88,271.49 302.13,279.59 302.10,280.84 302.08,282.08 302.06,283.30 301.70,284.20 300.48,284.28 299.25,284.36 298.01,284.45" fill="url(#r184)"/><polygon points="293.59,271.78 294.27,271.10 294.95,270.41 295.63,269.73 296.31,269.05 297.00,268.38 297.69,267.71 298.39,267.04 302.37,271.20 302.32,272.50 302.28,273.79 302.24,275.08 302.20,276.35 302.17,277.62 302.14,278.88 302.11,280.13" fill="url(#r185)"/><polygon points="298.09,267.32 298.75,266.70 299.40,266.08 300.06,265.46 300.72,264.84 301.39,264.23 302.06,263.62 302.73,263.01 302.73,263.01 302.66,264.28 302.60,265.55 302.55,266.80 302.49,268.05 302.44,269.30 302.39,270.53 302.35,271.76" fill="url(#r186)"/><path d="M440.31,415.38L280.95,285.96A205.3,205.3 0 0 1 302.73,263.01Z" fill="none" stroke="#192E50" stroke-opacity="0.7" stroke-width="0.9"/></g><g><path d="M443.83,412.20L306.24,259.83A205.3,205.3 0 0 1 330.75,240.85Z" fill="#4A7330" filter="url(#sh)"/><polygon points="443.83,412.20 326.96,261.27 326.47,261.23 325.98,261.18 325.49,261.14 324.99,261.10 324.50,261.06 324.00,261.02 323.50,260.97 323.00,260.93 322.50,260.89 322.00,260.85 321.49,260.81 320.99,260.77 320.48,260.73 319.97,260.70 319.46,260.66 318.95,260.62 318.44,260.58 317.93,260.54 317.41,260.51 316.89,260.47 316.37,260.43 315.85,260.40 315.33,260.36 314.81,260.33 314.29,260.29 313.76,260.26 313.23,260.23 312.71,260.19 312.18,260.16 311.64,260.13 311.11,260.10 310.58,260.06 310.04,260.03 309.50,260.00 308.96,259.97 308.42,259.94 307.88,259.91 307.34,259.88 306.79,259.86 306.24,259.83" fill="url(#g187)"/><polygon points="443.83,412.20 326.96,261.27 327.04,260.78 327.13,260.30 327.21,259.81 327.29,259.32 327.37,258.83 327.46,258.34 327.54,257.84 327.63,257.35 327.72,256.85 327.80,256.36 327.89,255.86 327.98,255.36 328.07,254.86 328.16,254.36 328.25,253.85 328.34,253.35 328.43,252.84 328.52,252.34 328.62,251.83 328.71,251.32 328.81,250.81 328.90,250.30 329.00,249.78 329.10,249.27 329.19,248.75 329.29,248.24 329.39,247.72 329.49,247.20 329.59,246.68 329.69,246.15 329.80,245.63 329.90,245.10 330.00,244.58 330.11,244.05 330.21,243.52 330.32,242.99 330.43,242.45 330.54,241.92 330.65,241.39 330.75,240.85" fill="url(#g188)"/><polygon points="306.24,259.83 306.95,259.20 307.65,258.57 308.36,257.94 309.07,257.32 309.79,256.70 310.50,256.09 311.22,255.47 315.36,260.37 314.09,260.28 312.80,260.20 311.51,260.12 310.21,260.04 308.89,259.97 307.57,259.90 306.24,259.83" fill="url(#r189)"/><polygon points="310.91,255.74 311.63,255.13 312.36,254.52 313.09,253.92 313.82,253.32 314.55,252.72 315.28,252.13 316.02,251.54 323.53,260.98 322.31,260.88 321.08,260.78 319.84,260.69 318.60,260.59 317.34,260.50 316.08,260.41 314.81,260.33" fill="url(#r190)"/><polygon points="315.70,251.79 316.44,251.20 317.18,250.62 317.93,250.04 318.68,249.46 319.43,248.89 320.18,248.32 320.94,247.75 327.72,256.83 327.51,258.03 327.31,259.23 327.11,260.42 326.63,261.24 325.43,261.14 324.22,261.03 323.00,260.93" fill="url(#r191)"/><polygon points="320.61,247.99 321.37,247.43 322.13,246.87 322.89,246.31 323.65,245.75 324.42,245.20 325.19,244.65 325.96,244.11 329.20,248.72 328.96,249.98 328.73,251.23 328.50,252.47 328.28,253.70 328.06,254.92 327.84,256.14 327.63,257.35" fill="url(#r192)"/><polygon points="325.63,244.34 326.35,243.84 327.08,243.33 327.81,242.83 328.54,242.33 329.28,241.83 330.02,241.34 330.75,240.85 330.75,240.85 330.51,242.07 330.26,243.29 330.02,244.50 329.78,245.70 329.55,246.90 329.32,248.09 329.10,249.27" fill="url(#r193)"/><path d="M443.83,412.20L306.24,259.83A205.3,205.3 0 0 1 330.75,240.85Z" fill="none" stroke="#2C451D" stroke-opacity="0.7" stroke-width="0.9"/></g><g><path d="M446.97,410.07L333.90,238.71A205.3,205.3 0 0 1 350.40,228.90Z" fill="#7FB3E3" filter="url(#sh)"/><polygon points="446.97,410.07 346.72,241.49 346.41,241.42 346.10,241.35 345.79,241.28 345.48,241.21 345.17,241.14 344.85,241.07 344.54,241.00 344.23,240.93 343.91,240.86 343.60,240.79 343.29,240.72 342.97,240.65 342.65,240.58 342.34,240.51 342.02,240.44 341.70,240.37 341.38,240.30 341.06,240.23 340.75,240.16 340.42,240.09 340.10,240.02 339.78,239.95 339.46,239.88 339.14,239.81 338.82,239.74 338.49,239.67 338.17,239.60 337.84,239.53 337.52,239.46 337.19,239.40 336.86,239.33 336.54,239.26 336.21,239.19 335.88,239.12 335.55,239.05 335.22,238.98 334.89,238.92 334.56,238.85 334.23,238.78 333.90,238.71" fill="url(#g194)"/><polygon points="446.97,410.07 346.72,241.49 346.80,241.19 346.89,240.88 346.98,240.57 347.06,240.27 347.15,239.96 347.24,239.65 347.32,239.34 347.41,239.04 347.50,238.73 347.59,238.42 347.68,238.11 347.77,237.80 347.85,237.48 347.94,237.17 348.03,236.86 348.12,236.55 348.22,236.23 348.31,235.92 348.40,235.61 348.49,235.29 348.58,234.98 348.67,234.66 348.77,234.35 348.86,234.03 348.95,233.71 349.05,233.39 349.14,233.08 349.24,232.76 349.33,232.44 349.43,232.12 349.52,231.80 349.62,231.48 349.71,231.16 349.81,230.84 349.91,230.51 350.00,230.19 350.10,229.87 350.20,229.55 350.30,229.22 350.40,228.90" fill="url(#g195)"/><polygon points="333.90,238.71 334.71,238.18 335.52,237.65 336.34,237.12 337.16,236.60 337.99,236.08 338.81,235.56 339.64,235.05 343.09,240.67 341.80,240.39 340.51,240.11 339.21,239.83 337.89,239.54 336.57,239.27 335.24,238.99 333.90,238.71" fill="url(#r196)"/><polygon points="339.29,235.27 340.12,234.76 340.95,234.26 341.79,233.75 342.63,233.26 343.47,232.77 344.31,232.28 345.15,231.79 348.04,236.85 347.68,238.11 347.32,239.36 346.97,240.61 346.36,241.41 345.10,241.12 343.83,240.84 342.55,240.55" fill="url(#r197)"/><polygon points="344.79,232.00 345.59,231.54 346.39,231.09 347.18,230.65 347.98,230.20 348.79,229.76 349.59,229.33 350.40,228.90 350.40,228.90 350.02,230.13 349.65,231.36 349.29,232.58 348.93,233.79 348.58,234.99 348.23,236.19 347.88,237.38" fill="url(#r198)"/><path d="M446.97,410.07L333.90,238.71A205.3,205.3 0 0 1 350.40,228.90Z" fill="none" stroke="#4C6B88" stroke-opacity="0.7" stroke-width="0.9"/></g><g><path d="M449.08,408.92L352.51,227.75A205.3,205.3 0 0 1 363.78,222.18Z" fill="#F29A5D" filter="url(#sh)"/><polygon points="449.08,408.92 360.81,230.35 360.60,230.28 360.40,230.22 360.20,230.15 360.00,230.09 359.79,230.02 359.59,229.96 359.38,229.89 359.18,229.83 358.98,229.76 358.77,229.70 358.57,229.63 358.36,229.57 358.16,229.50 357.95,229.44 357.74,229.37 357.54,229.31 357.33,229.24 357.12,229.18 356.92,229.11 356.71,229.05 356.50,228.98 356.29,228.92 356.09,228.85 355.88,228.79 355.67,228.72 355.46,228.66 355.25,228.59 355.04,228.53 354.83,228.46 354.62,228.40 354.41,228.33 354.20,228.27 353.99,228.20 353.78,228.14 353.57,228.07 353.36,228.01 353.15,227.94 352.93,227.88 352.72,227.81 352.51,227.75" fill="url(#g199)"/><polygon points="449.08,408.92 360.81,230.35 360.88,230.15 360.95,229.94 361.02,229.74 361.09,229.54 361.16,229.34 361.24,229.14 361.31,228.94 361.38,228.74 361.45,228.54 361.53,228.33 361.60,228.13 361.67,227.93 361.74,227.73 361.82,227.52 361.89,227.32 361.97,227.12 362.04,226.91 362.11,226.71 362.19,226.51 362.26,226.30 362.34,226.10 362.41,225.89 362.49,225.69 362.56,225.48 362.64,225.28 362.71,225.07 362.79,224.87 362.86,224.66 362.94,224.46 363.01,224.25 363.09,224.04 363.17,223.84 363.24,223.63 363.32,223.42 363.40,223.22 363.47,223.01 363.55,222.80 363.63,222.59 363.70,222.38 363.78,222.18" fill="url(#g200)"/><polygon points="352.51,227.75 353.35,227.30 354.20,226.86 355.05,226.42 355.90,225.98 356.76,225.55 357.61,225.12 358.47,224.70 360.99,229.82 360.10,230.12 358.86,229.72 357.61,229.33 356.35,228.93 355.08,228.54 353.80,228.14 352.51,227.75" fill="url(#r201)"/><polygon points="358.10,224.88 358.91,224.48 359.72,224.09 360.53,223.70 361.34,223.31 362.15,222.93 362.97,222.55 363.78,222.18 363.78,222.18 363.34,223.36 362.91,224.54 362.47,225.72 362.05,226.88 361.63,228.04 361.22,229.20 360.81,230.35" fill="url(#r202)"/><path d="M449.08,408.92L352.51,227.75A205.3,205.3 0 0 1 363.78,222.18Z" fill="none" stroke="#915C38" stroke-opacity="0.7" stroke-width="0.9"/></g><g><path d="M450.78,408.14L365.48,221.40A205.3,205.3 0 0 1 376.64,216.70Z" fill="#B9B9B9" filter="url(#sh)"/><polygon points="450.78,408.14 373.31,224.38 373.12,224.31 372.93,224.24 372.74,224.16 372.54,224.09 372.35,224.01 372.16,223.94 371.97,223.86 371.77,223.79 371.58,223.71 371.39,223.64 371.19,223.57 371.00,223.49 370.81,223.42 370.61,223.34 370.42,223.27 370.22,223.19 370.03,223.12 369.83,223.04 369.64,222.97 369.44,222.89 369.25,222.82 369.05,222.74 368.85,222.67 368.66,222.60 368.46,222.52 368.26,222.45 368.07,222.37 367.87,222.30 367.67,222.22 367.47,222.15 367.28,222.07 367.08,222.00 366.88,221.92 366.68,221.85 366.48,221.77 366.28,221.70 366.08,221.62 365.88,221.55 365.68,221.47 365.48,221.40" fill="url(#g203)"/><polygon points="450.78,408.14 373.31,224.38 373.39,224.20 373.47,224.01 373.55,223.82 373.63,223.63 373.71,223.44 373.79,223.25 373.87,223.06 373.95,222.87 374.04,222.68 374.12,222.49 374.20,222.30 374.28,222.11 374.36,221.92 374.45,221.73 374.53,221.53 374.61,221.34 374.69,221.15 374.78,220.96 374.86,220.77 374.94,220.58 375.03,220.38 375.11,220.19 375.19,220.00 375.28,219.81 375.36,219.61 375.44,219.42 375.53,219.23 375.61,219.03 375.70,218.84 375.78,218.64 375.87,218.45 375.95,218.26 376.04,218.06 376.12,217.87 376.21,217.67 376.29,217.48 376.38,217.28 376.47,217.09 376.55,216.89 376.64,216.70" fill="url(#g204)"/><polygon points="365.48,221.40 366.32,221.02 367.16,220.64 368.01,220.27 368.85,219.89 369.70,219.53 370.55,219.17 371.40,218.81 373.53,223.87 372.66,224.13 371.49,223.68 370.30,223.22 369.11,222.77 367.91,222.31 366.70,221.86 365.48,221.40" fill="url(#r205)"/><polygon points="371.02,218.97 371.82,218.63 372.62,218.30 373.42,217.97 374.22,217.65 375.03,217.33 375.83,217.01 376.64,216.70 376.64,216.70 376.15,217.81 375.66,218.92 375.18,220.03 374.70,221.12 374.23,222.22 373.77,223.30 373.31,224.38" fill="url(#r206)"/><path d="M450.78,408.14L365.48,221.40A205.3,205.3 0 0 1 376.64,216.70Z" fill="none" stroke="#6F6F6F" stroke-opacity="0.7" stroke-width="0.9"/></g><g><path d="M452.58,407.45L378.43,216.00A205.3,205.3 0 0 1 391.01,211.60Z" fill="#FFCE36" filter="url(#sh)"/><polygon points="452.58,407.45 386.82,219.79 386.62,219.69 386.41,219.60 386.21,219.51 386.00,219.41 385.80,219.32 385.59,219.22 385.39,219.13 385.18,219.03 384.97,218.94 384.77,218.85 384.56,218.75 384.35,218.66 384.15,218.56 383.94,218.47 383.73,218.37 383.52,218.28 383.31,218.19 383.10,218.09 382.90,218.00 382.69,217.90 382.48,217.81 382.27,217.71 382.06,217.62 381.85,217.52 381.63,217.43 381.42,217.33 381.21,217.24 381.00,217.14 380.79,217.05 380.57,216.95 380.36,216.86 380.15,216.76 379.94,216.67 379.72,216.57 379.51,216.48 379.29,216.38 379.08,216.29 378.86,216.19 378.65,216.10 378.43,216.00" fill="url(#g207)"/><polygon points="452.58,407.45 386.82,219.79 386.92,219.59 387.02,219.39 387.12,219.19 387.23,218.98 387.33,218.78 387.43,218.58 387.53,218.38 387.63,218.18 387.74,217.97 387.84,217.77 387.94,217.57 388.04,217.36 388.15,217.16 388.25,216.96 388.35,216.75 388.46,216.55 388.56,216.35 388.67,216.14 388.77,215.94 388.87,215.73 388.98,215.53 389.08,215.32 389.19,215.12 389.30,214.91 389.40,214.71 389.51,214.50 389.61,214.29 389.72,214.09 389.83,213.88 389.93,213.67 390.04,213.47 390.15,213.26 390.25,213.05 390.36,212.85 390.47,212.64 390.58,212.43 390.69,212.22 390.79,212.01 390.90,211.80 391.01,211.60" fill="url(#g208)"/><polygon points="378.43,216.00 379.38,215.64 380.32,215.28 381.27,214.93 382.22,214.58 383.17,214.24 384.12,213.90 385.08,213.56 387.07,219.29 386.09,219.45 384.84,218.88 383.58,218.30 382.31,217.73 381.03,217.16 379.74,216.58 378.43,216.00" fill="url(#r209)"/><polygon points="384.69,213.70 385.59,213.38 386.49,213.08 387.39,212.77 388.29,212.47 389.20,212.18 390.10,211.88 391.01,211.60 391.01,211.60 390.39,212.79 389.78,213.97 389.18,215.15 388.58,216.32 387.98,217.48 387.40,218.64 386.82,219.79" fill="url(#r210)"/><path d="M452.58,407.45L378.43,216.00A205.3,205.3 0 0 1 391.01,211.60Z" fill="none" stroke="#997C20" stroke-opacity="0.7" stroke-width="0.9"/></g><g><path d="M458.14,406.06L396.57,210.21A205.3,205.3 0 0 1 458.14,200.76Z" fill="#6C93D6" filter="url(#sh)"/><polygon points="458.14,406.06 440.14,288.77 439.22,285.86 438.26,282.79 437.24,279.56 436.17,276.15 435.04,272.55 433.84,268.74 432.57,264.70 431.22,260.41 429.78,255.84 428.25,250.96 426.62,245.76 424.86,240.18 422.98,234.19 420.95,227.75 419.17,222.67 418.33,222.18 417.49,221.70 416.64,221.21 415.79,220.72 414.94,220.23 414.07,219.74 413.20,219.24 412.33,218.75 411.45,218.26 410.57,217.76 409.68,217.26 408.78,216.77 407.88,216.27 406.97,215.77 406.05,215.27 405.13,214.77 404.21,214.26 403.28,213.76 402.34,213.26 401.39,212.75 400.44,212.24 399.48,211.74 398.52,211.23 397.55,210.72 396.57,210.21" fill="url(#g211)"/><polygon points="458.14,406.06 440.14,288.77 440.14,285.72 440.14,282.50 440.14,279.12 440.14,275.55 440.14,271.77 440.14,267.77 440.14,263.54 440.14,259.04 440.14,254.25 440.14,249.14 440.14,243.68 440.14,237.84 440.14,231.56 440.14,224.80 440.32,219.42 440.97,218.71 441.63,217.99 442.29,217.27 442.95,216.55 443.62,215.82 444.30,215.10 444.98,214.37 445.67,213.63 446.36,212.90 447.05,212.16 447.75,211.42 448.46,210.68 449.17,209.93 449.89,209.18 450.61,208.43 451.34,207.68 452.07,206.92 452.81,206.16 453.55,205.40 454.30,204.63 455.06,203.86 455.82,203.09 456.59,202.32 457.36,201.54 458.14,200.76" fill="url(#g212)"/><polygon points="396.57,210.21 397.58,209.90 398.58,209.59 399.59,209.29 400.60,208.99 401.61,208.70 402.62,208.41 403.63,208.13 405.52,214.97 404.27,214.30 403.02,213.62 401.75,212.94 400.47,212.26 399.19,211.58 397.88,210.89 396.57,210.21" fill="url(#r213)"/><polygon points="403.23,208.24 404.25,207.96 405.26,207.69 406.28,207.42 407.30,207.15 408.32,206.90 409.34,206.64 410.36,206.40 413.47,219.39 412.29,218.73 411.11,218.06 409.92,217.40 408.71,216.73 407.49,216.06 406.27,215.39 405.03,214.71" fill="url(#r214)"/><polygon points="409.96,206.49 410.98,206.25 412.01,206.01 413.03,205.78 414.06,205.55 415.08,205.32 416.11,205.11 417.14,204.89 420.74,222.53 419.80,222.73 418.75,222.43 417.62,221.77 416.48,221.12 415.34,220.46 414.18,219.80 413.01,219.13" fill="url(#r215)"/><polygon points="416.74,204.98 417.77,204.77 418.80,204.56 419.83,204.36 420.87,204.17 421.90,203.98 422.93,203.80 423.97,203.62 426.97,221.37 426.02,221.53 425.08,221.70 424.13,221.87 423.19,222.05 422.25,222.23 421.31,222.42 420.37,222.61" fill="url(#r216)"/><polygon points="423.57,203.69 424.60,203.52 425.64,203.35 426.68,203.18 427.72,203.03 428.76,202.87 429.80,202.72 430.84,202.58 433.23,220.42 432.28,220.55 431.33,220.69 430.38,220.83 429.44,220.97 428.49,221.12 427.54,221.28 426.60,221.43" fill="url(#r217)"/><polygon points="430.43,202.64 431.47,202.50 432.52,202.36 433.56,202.24 434.60,202.11 435.65,201.99 436.69,201.88 437.74,201.78 439.53,219.69 438.57,219.78 437.62,219.89 436.67,219.99 435.71,220.11 434.76,220.22 433.81,220.35 432.86,220.47" fill="url(#r218)"/><polygon points="437.33,201.82 438.38,201.71 439.42,201.61 440.47,201.52 441.52,201.43 442.57,201.35 443.61,201.27 444.66,201.20 445.49,213.82 444.57,214.80 443.66,215.78 442.76,216.76 441.87,217.73 440.99,218.69 440.11,219.63 439.15,219.72" fill="url(#r219)"/><polygon points="444.25,201.23 445.30,201.16 446.35,201.10 447.40,201.04 448.45,200.99 449.50,200.94 450.55,200.90 451.60,200.86 451.80,207.19 450.82,208.21 449.85,209.22 448.89,210.23 447.93,211.23 446.99,212.23 446.06,213.22 445.13,214.20" fill="url(#r220)"/><polygon points="451.19,200.88 452.18,200.85 453.18,200.82 454.17,200.80 455.16,200.78 456.15,200.77 457.14,200.76 458.14,200.76 458.14,200.76 457.15,201.75 456.17,202.73 455.20,203.72 454.24,204.69 453.29,205.66 452.35,206.63 451.42,207.59" fill="url(#r221)"/><path d="M458.14,406.06L396.57,210.21A205.3,205.3 0 0 1 458.14,200.76Z" fill="none" stroke="#415880" stroke-opacity="0.7" stroke-width="0.9"/></g>
<text x="360.8" y="30.8" textLength="204.5" lengthAdjust="spacingAndGlyphs" font-size="19.5" font-weight="bold" fill="#595959" font-family='"Liberation Sans", sans-serif'>ТИП ГЕРОЯ ИНТЕРВЬЮ</text>
<text stroke="#05205F" stroke-width="0.35" x="648.6" y="235.4" textLength="90.5" lengthAdjust="spacingAndGlyphs" font-size="18.2" font-weight="bold" fill="#05205F" font-family='"Liberation Sans", sans-serif'>Музыкант</text><text stroke="#05205F" stroke-width="0.35" x="675.8" y="261.8" textLength="35.6" lengthAdjust="spacingAndGlyphs" font-size="18.2" font-weight="bold" fill="#05205F" font-family='"Liberation Sans", sans-serif'>26%</text><text stroke="#05205F" stroke-width="0.35" x="692.1" y="546.0" textLength="75.8" lengthAdjust="spacingAndGlyphs" font-size="15.0" font-weight="bold" fill="#05205F" font-family='"Liberation Sans", sans-serif'>Журналист</text><text stroke="#05205F" stroke-width="0.35" x="716.2" y="566.2" textLength="26.6" lengthAdjust="spacingAndGlyphs" font-size="15.0" font-weight="bold" fill="#05205F" font-family='"Liberation Sans", sans-serif'>12%</text><text stroke="#05205F" stroke-width="0.35" x="559.4" y="683.9" textLength="47.6" lengthAdjust="spacingAndGlyphs" font-size="16.2" font-weight="bold" fill="#05205F" font-family='"Liberation Sans", sans-serif'>Актёр</text><text stroke="#05205F" stroke-width="0.35" x="567.0" y="706.7" textLength="33.3" lengthAdjust="spacingAndGlyphs" font-size="16.2" font-weight="bold" fill="#05205F" font-family='"Liberation Sans", sans-serif'>12%</text><text stroke="#05205F" stroke-width="0.35" x="353.0" y="693.9" textLength="54.4" lengthAdjust="spacingAndGlyphs" font-size="16.2" font-weight="bold" fill="#05205F" font-family='"Liberation Sans", sans-serif'>Комик</text><text stroke="#05205F" stroke-width="0.35" x="367.2" y="716.6" textLength="23.4" lengthAdjust="spacingAndGlyphs" font-size="16.2" font-weight="bold" fill="#05205F" font-family='"Liberation Sans", sans-serif'>8%</text><text stroke="#05205F" stroke-width="0.35" x="210.7" y="635.7" textLength="80.0" lengthAdjust="spacingAndGlyphs" font-size="16.2" font-weight="bold" fill="#05205F" font-family='"Liberation Sans", sans-serif'>Режиссёр</text><text stroke="#05205F" stroke-width="0.35" x="238.5" y="658.7" textLength="23.4" lengthAdjust="spacingAndGlyphs" font-size="16.2" font-weight="bold" fill="#05205F" font-family='"Liberation Sans", sans-serif'>8%</text><text stroke="#05205F" stroke-width="0.35" x="178.9" y="526.8" textLength="47.6" lengthAdjust="spacingAndGlyphs" font-size="15.0" font-weight="bold" fill="#05205F" font-family='"Liberation Sans", sans-serif'>Блогер</text><text stroke="#05205F" stroke-width="0.35" x="194.1" y="546.7" textLength="18.9" lengthAdjust="spacingAndGlyphs" font-size="15.0" font-weight="bold" fill="#05205F" font-family='"Liberation Sans", sans-serif'>7%</text><text stroke="#05205F" stroke-width="0.35" x="152.9" y="439.3" textLength="57.5" lengthAdjust="spacingAndGlyphs" font-size="13.8" font-weight="bold" fill="#05205F" font-family='"Liberation Sans", sans-serif'>Политик</text><text stroke="#05205F" stroke-width="0.35" x="173.1" y="458.3" textLength="18.9" lengthAdjust="spacingAndGlyphs" font-size="13.8" font-weight="bold" fill="#05205F" font-family='"Liberation Sans", sans-serif'>4%</text><text stroke="#05205F" stroke-width="0.35" x="139.9" y="377.5" textLength="75.4" lengthAdjust="spacingAndGlyphs" font-size="13.8" font-weight="bold" fill="#05205F" font-family='"Liberation Sans", sans-serif'>Бизнесмен</text><text stroke="#05205F" stroke-width="0.35" x="168.5" y="397.5" textLength="18.9" lengthAdjust="spacingAndGlyphs" font-size="13.8" font-weight="bold" fill="#05205F" font-family='"Liberation Sans", sans-serif'>3%</text><text stroke="#05205F" stroke-width="0.35" x="151.1" y="336.7" textLength="62.8" lengthAdjust="spacingAndGlyphs" font-size="13.8" font-weight="bold" fill="#05205F" font-family='"Liberation Sans", sans-serif'>Писатель</text><text stroke="#05205F" stroke-width="0.35" x="172.8" y="356.4" textLength="18.9" lengthAdjust="spacingAndGlyphs" font-size="13.8" font-weight="bold" fill="#05205F" font-family='"Liberation Sans", sans-serif'>3%</text><text stroke="#05205F" stroke-width="0.35" x="147.4" y="293.6" textLength="70.2" lengthAdjust="spacingAndGlyphs" font-size="13.8" font-weight="bold" fill="#05205F" font-family='"Liberation Sans", sans-serif'>Художник</text><text stroke="#05205F" stroke-width="0.35" x="172.8" y="313.6" textLength="18.9" lengthAdjust="spacingAndGlyphs" font-size="13.8" font-weight="bold" fill="#05205F" font-family='"Liberation Sans", sans-serif'>3%</text><text stroke="#05205F" stroke-width="0.35" x="150.4" y="248.9" textLength="57.2" lengthAdjust="spacingAndGlyphs" font-size="13.8" font-weight="bold" fill="#05205F" font-family='"Liberation Sans", sans-serif'>Историк</text><text stroke="#05205F" stroke-width="0.35" x="169.7" y="268.8" textLength="18.9" lengthAdjust="spacingAndGlyphs" font-size="13.8" font-weight="bold" fill="#05205F" font-family='"Liberation Sans", sans-serif'>2%</text><text stroke="#05205F" stroke-width="0.35" x="146.6" y="209.5" textLength="72.2" lengthAdjust="spacingAndGlyphs" font-size="13.8" font-weight="bold" fill="#05205F" font-family='"Liberation Sans", sans-serif'>Продюсер</text><text stroke="#05205F" stroke-width="0.35" x="172.8" y="229.0" textLength="18.9" lengthAdjust="spacingAndGlyphs" font-size="13.8" font-weight="bold" fill="#05205F" font-family='"Liberation Sans", sans-serif'>2%</text><text stroke="#05205F" stroke-width="0.35" x="142.9" y="171.0" textLength="93.6" lengthAdjust="spacingAndGlyphs" font-size="13.8" font-weight="bold" fill="#05205F" font-family='"Liberation Sans", sans-serif'>Телеведущий</text><text stroke="#05205F" stroke-width="0.35" x="179.1" y="190.9" textLength="18.9" lengthAdjust="spacingAndGlyphs" font-size="13.8" font-weight="bold" fill="#05205F" font-family='"Liberation Sans", sans-serif'>1%</text><text x="240.0" y="146.0" textLength="67.2" lengthAdjust="spacingAndGlyphs" font-size="14.6" font-weight="normal" fill="#22356A" font-family='"Liberation Sans", sans-serif'>Дизайнер</text><text x="265.6" y="165.2" textLength="18.7" lengthAdjust="spacingAndGlyphs" font-size="14.6" font-weight="normal" fill="#22356A" font-family='"Liberation Sans", sans-serif'>1%</text><text x="316.9" y="147.8" textLength="51.5" lengthAdjust="spacingAndGlyphs" font-size="14.6" font-weight="normal" fill="#22356A" font-family='"Liberation Sans", sans-serif'>Учёный</text><text x="333.8" y="167.5" textLength="18.7" lengthAdjust="spacingAndGlyphs" font-size="14.6" font-weight="normal" fill="#22356A" font-family='"Liberation Sans", sans-serif'>1%</text><text x="385.3" y="155.4" textLength="93.4" lengthAdjust="spacingAndGlyphs" font-size="12.6" font-weight="bold" fill="#030A50" font-family='"DejaVu Sans", sans-serif'>Программист</text><text stroke="#030A50" stroke-width="0.35" x="421.4" y="174.6" textLength="18.9" lengthAdjust="spacingAndGlyphs" font-size="13.8" font-weight="bold" fill="#030A50" font-family='"Liberation Sans", sans-serif'>1%</text><text x="489.1" y="125.9" textLength="47.3" lengthAdjust="spacingAndGlyphs" font-size="14.6" font-weight="normal" fill="#22356A" font-family='"Liberation Sans", sans-serif'>Другие</text><text x="504.8" y="145.6" textLength="18.7" lengthAdjust="spacingAndGlyphs" font-size="14.6" font-weight="normal" fill="#22356A" font-family='"Liberation Sans", sans-serif'>5%</text>
</svg>
</body></html>
